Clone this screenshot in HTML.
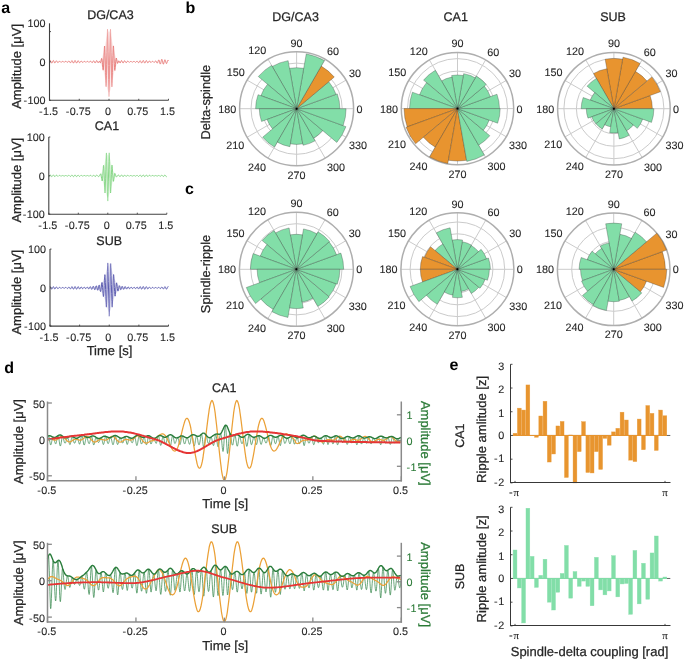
<!DOCTYPE html>
<html><head><meta charset="utf-8"><style>
html,body{margin:0;padding:0;background:#fff;}
svg{display:block;will-change:transform;}
text{font-family:"Liberation Sans", sans-serif;text-rendering:geometricPrecision;}
</style></head><body>
<svg width="685" height="661" viewBox="0 0 685 661">
<rect width="685" height="661" fill="#fff"/>
<text x="1.20" y="13.20" font-size="16" text-anchor="start" fill="#000" font-weight="bold">a</text>
<text x="185.50" y="12.90" font-size="16" text-anchor="start" fill="#000" font-weight="bold">b</text>
<text x="185.10" y="194.20" font-size="16" text-anchor="start" fill="#000" font-weight="bold">c</text>
<text x="4.20" y="372.70" font-size="16" text-anchor="start" fill="#000" font-weight="bold">d</text>
<text x="449.60" y="370.00" font-size="16" text-anchor="start" fill="#000" font-weight="bold">e</text>
<defs><linearGradient id="ga0" gradientUnits="userSpaceOnUse" x1="0" y1="21.8" x2="0" y2="101.8"><stop offset="0" stop-color="#e0524f" stop-opacity="0.25"/><stop offset="0.3" stop-color="#e0524f" stop-opacity="0.75"/><stop offset="0.5" stop-color="#e0524f" stop-opacity="1"/><stop offset="0.7" stop-color="#e0524f" stop-opacity="0.75"/><stop offset="1" stop-color="#e0524f" stop-opacity="0.25"/></linearGradient></defs>
<polygon points="49.5,61.8 49.9,61.8 50.3,61.8 50.7,61.8 51.1,61.8 51.5,61.8 51.9,61.8 52.3,61.8 52.7,61.8 53.1,61.8 53.5,61.8 53.9,61.8 54.3,61.8 54.7,61.8 55.1,61.8 55.5,61.8 55.9,61.8 56.3,61.8 56.7,61.8 57.1,61.8 57.5,61.8 57.9,61.8 58.3,61.8 58.7,61.8 59.1,61.8 59.5,61.8 59.9,61.8 60.3,61.8 60.7,61.8 61.1,61.8 61.5,61.8 61.9,61.8 62.3,61.8 62.7,61.8 63.1,61.8 63.5,61.8 63.9,61.8 64.3,61.8 64.7,61.8 65.1,61.8 65.5,61.8 65.9,61.8 66.3,61.8 66.7,61.8 67.1,61.8 67.5,61.8 67.9,61.8 68.3,61.8 68.7,61.8 69.1,61.8 69.5,61.8 69.9,61.8 70.3,61.8 70.7,61.8 71.1,61.8 71.5,61.8 71.9,61.8 72.3,61.8 72.7,61.8 73.1,61.8 73.5,61.8 73.9,61.8 74.3,61.8 74.7,61.8 75.1,61.8 75.5,61.8 75.9,61.8 76.3,61.8 76.7,61.8 77.1,61.8 77.5,61.8 77.9,61.8 78.3,61.8 78.7,61.8 79.1,61.8 79.5,61.8 79.9,61.8 80.3,61.8 80.7,61.8 81.1,61.8 81.5,61.8 81.9,61.8 82.3,61.8 82.7,61.8 83.1,61.8 83.5,61.8 83.9,61.8 84.3,61.8 84.7,61.8 85.1,61.8 85.5,61.8 85.9,61.8 86.3,61.8 86.7,61.8 87.1,61.8 87.5,61.8 87.9,61.8 88.3,61.8 88.7,61.8 89.1,61.8 89.5,61.8 89.9,61.8 90.3,61.8 90.7,61.8 91.1,61.8 91.5,61.8 91.9,61.8 92.3,61.8 92.7,61.8 93.1,61.8 93.5,61.8 93.9,61.8 94.3,61.8 94.7,61.8 95.1,61.8 95.5,61.8 95.9,61.8 96.3,61.7 96.7,61.7 97.1,61.7 97.5,61.6 97.9,61.5 98.3,61.4 98.7,61.3 99.1,61.1 99.5,60.9 99.9,60.5 100.3,60.1 100.7,59.7 101.1,59.0 101.5,58.3 101.9,57.4 102.3,56.4 102.7,55.2 103.1,53.8 103.5,52.3 103.9,50.6 104.3,48.8 104.7,46.8 105.1,44.8 105.5,42.7 105.9,40.7 106.3,38.7 106.7,36.8 107.1,35.2 107.5,33.7 107.9,32.6 108.3,31.8 108.7,31.3 109.1,31.2 109.5,31.5 109.9,32.1 110.3,33.1 110.7,34.4 111.1,36.0 111.5,37.8 111.9,39.7 112.3,41.7 112.7,43.8 113.1,45.8 113.5,47.8 113.9,49.7 114.3,51.4 114.7,53.1 115.1,54.5 115.5,55.8 115.9,56.9 116.3,57.9 116.7,58.7 117.1,59.4 117.5,59.9 117.9,60.4 118.3,60.7 118.7,61.0 119.1,61.2 119.5,61.4 119.9,61.5 120.3,61.6 120.7,61.6 121.1,61.7 121.5,61.7 121.9,61.8 122.3,61.8 122.7,61.8 123.1,61.8 123.5,61.8 123.9,61.8 124.3,61.8 124.7,61.8 125.1,61.8 125.5,61.8 125.9,61.8 126.3,61.8 126.7,61.8 127.1,61.8 127.5,61.8 127.9,61.8 128.3,61.8 128.7,61.8 129.1,61.8 129.5,61.8 129.9,61.8 130.3,61.8 130.7,61.8 131.1,61.8 131.5,61.8 131.9,61.8 132.3,61.8 132.7,61.8 133.1,61.8 133.5,61.8 133.9,61.8 134.3,61.8 134.7,61.8 135.1,61.8 135.5,61.8 135.9,61.8 136.3,61.8 136.7,61.8 137.1,61.8 137.5,61.8 137.9,61.8 138.3,61.8 138.7,61.8 139.1,61.8 139.5,61.8 139.9,61.8 140.3,61.8 140.7,61.8 141.1,61.8 141.5,61.8 141.9,61.8 142.3,61.8 142.7,61.8 143.1,61.8 143.5,61.8 143.9,61.8 144.3,61.8 144.7,61.8 145.1,61.8 145.5,61.8 145.9,61.8 146.3,61.8 146.7,61.8 147.1,61.8 147.5,61.8 147.9,61.8 148.3,61.8 148.7,61.8 149.1,61.8 149.5,61.8 149.9,61.8 150.3,61.8 150.7,61.8 151.1,61.8 151.5,61.8 151.9,61.8 152.3,61.8 152.7,61.8 153.1,61.8 153.5,61.8 153.9,61.8 154.3,61.8 154.7,61.8 155.1,61.8 155.5,61.8 155.9,61.8 156.3,61.8 156.7,61.8 157.1,61.8 157.5,61.8 157.9,61.8 158.3,61.8 158.7,61.8 159.1,61.8 159.5,61.8 159.9,61.8 160.3,61.8 160.7,61.8 161.1,61.8 161.5,61.8 161.9,61.8 162.3,61.8 162.7,61.8 163.1,61.8 163.5,61.8 163.9,61.8 164.3,61.8 164.7,61.8 165.1,61.8 165.5,61.8 165.9,61.8 166.3,61.8 166.7,61.8 167.1,61.8 167.5,61.8 167.9,61.8 168.3,61.8 168.5,61.8 168.1,61.8 167.7,61.8 167.3,61.8 166.9,61.8 166.5,61.8 166.1,61.8 165.7,61.8 165.3,61.8 164.9,61.8 164.5,61.8 164.1,61.8 163.7,61.8 163.3,61.8 162.9,61.8 162.5,61.8 162.1,61.8 161.7,61.8 161.3,61.8 160.9,61.8 160.5,61.8 160.1,61.8 159.7,61.8 159.3,61.8 158.9,61.8 158.5,61.8 158.1,61.8 157.7,61.8 157.3,61.8 156.9,61.8 156.5,61.8 156.1,61.8 155.7,61.8 155.3,61.8 154.9,61.8 154.5,61.8 154.1,61.8 153.7,61.8 153.3,61.8 152.9,61.8 152.5,61.8 152.1,61.8 151.7,61.8 151.3,61.8 150.9,61.8 150.5,61.8 150.1,61.8 149.7,61.8 149.3,61.8 148.9,61.8 148.5,61.8 148.1,61.8 147.7,61.8 147.3,61.8 146.9,61.8 146.5,61.8 146.1,61.8 145.7,61.8 145.3,61.8 144.9,61.8 144.5,61.8 144.1,61.8 143.7,61.8 143.3,61.8 142.9,61.8 142.5,61.8 142.1,61.8 141.7,61.8 141.3,61.8 140.9,61.8 140.5,61.8 140.1,61.8 139.7,61.8 139.3,61.8 138.9,61.8 138.5,61.8 138.1,61.8 137.7,61.8 137.3,61.8 136.9,61.8 136.5,61.8 136.1,61.8 135.7,61.8 135.3,61.8 134.9,61.8 134.5,61.8 134.1,61.8 133.7,61.8 133.3,61.8 132.9,61.8 132.5,61.8 132.1,61.8 131.7,61.8 131.3,61.8 130.9,61.8 130.5,61.8 130.1,61.8 129.7,61.8 129.3,61.8 128.9,61.8 128.5,61.8 128.1,61.8 127.7,61.8 127.3,61.8 126.9,61.8 126.5,61.8 126.1,61.8 125.7,61.8 125.3,61.8 124.9,61.8 124.5,61.8 124.1,61.8 123.7,61.8 123.3,61.8 122.9,61.8 122.5,61.8 122.1,61.8 121.7,61.9 121.3,61.9 120.9,61.9 120.5,62.0 120.1,62.1 119.7,62.2 119.3,62.3 118.9,62.5 118.5,62.7 118.1,63.1 117.7,63.5 117.3,63.9 116.9,64.6 116.5,65.3 116.1,66.2 115.7,67.2 115.3,68.4 114.9,69.8 114.5,71.3 114.1,73.0 113.7,74.8 113.3,76.8 112.9,78.8 112.5,80.9 112.1,82.9 111.7,84.9 111.3,86.8 110.9,88.4 110.5,89.9 110.1,91.0 109.7,91.8 109.3,92.3 108.9,92.4 108.5,92.1 108.1,91.5 107.7,90.5 107.3,89.2 106.9,87.6 106.5,85.8 106.1,83.9 105.7,81.9 105.3,79.8 104.9,77.8 104.5,75.8 104.1,73.9 103.7,72.2 103.3,70.5 102.9,69.1 102.5,67.8 102.1,66.7 101.7,65.7 101.3,64.9 100.9,64.2 100.5,63.7 100.1,63.2 99.7,62.9 99.3,62.6 98.9,62.4 98.5,62.2 98.1,62.1 97.7,62.0 97.3,62.0 96.9,61.9 96.5,61.9 96.1,61.8 95.7,61.8 95.3,61.8 94.9,61.8 94.5,61.8 94.1,61.8 93.7,61.8 93.3,61.8 92.9,61.8 92.5,61.8 92.1,61.8 91.7,61.8 91.3,61.8 90.9,61.8 90.5,61.8 90.1,61.8 89.7,61.8 89.3,61.8 88.9,61.8 88.5,61.8 88.1,61.8 87.7,61.8 87.3,61.8 86.9,61.8 86.5,61.8 86.1,61.8 85.7,61.8 85.3,61.8 84.9,61.8 84.5,61.8 84.1,61.8 83.7,61.8 83.3,61.8 82.9,61.8 82.5,61.8 82.1,61.8 81.7,61.8 81.3,61.8 80.9,61.8 80.5,61.8 80.1,61.8 79.7,61.8 79.3,61.8 78.9,61.8 78.5,61.8 78.1,61.8 77.7,61.8 77.3,61.8 76.9,61.8 76.5,61.8 76.1,61.8 75.7,61.8 75.3,61.8 74.9,61.8 74.5,61.8 74.1,61.8 73.7,61.8 73.3,61.8 72.9,61.8 72.5,61.8 72.1,61.8 71.7,61.8 71.3,61.8 70.9,61.8 70.5,61.8 70.1,61.8 69.7,61.8 69.3,61.8 68.9,61.8 68.5,61.8 68.1,61.8 67.7,61.8 67.3,61.8 66.9,61.8 66.5,61.8 66.1,61.8 65.7,61.8 65.3,61.8 64.9,61.8 64.5,61.8 64.1,61.8 63.7,61.8 63.3,61.8 62.9,61.8 62.5,61.8 62.1,61.8 61.7,61.8 61.3,61.8 60.9,61.8 60.5,61.8 60.1,61.8 59.7,61.8 59.3,61.8 58.9,61.8 58.5,61.8 58.1,61.8 57.7,61.8 57.3,61.8 56.9,61.8 56.5,61.8 56.1,61.8 55.7,61.8 55.3,61.8 54.9,61.8 54.5,61.8 54.1,61.8 53.7,61.8 53.3,61.8 52.9,61.8 52.5,61.8 52.1,61.8 51.7,61.8 51.3,61.8 50.9,61.8 50.5,61.8 50.1,61.8 49.7,61.8" fill="#e0524f" fill-opacity="0.12"/>
<polyline points="49.5,61.7 49.7,61.2 49.9,60.8 50.1,60.6 50.3,60.5 50.5,60.7 50.7,61.1 50.9,61.5 51.1,62.1 51.3,62.5 51.5,62.9 51.7,63.1 51.9,63.1 52.1,62.8 52.3,62.4 52.5,61.9 52.7,61.4 52.9,61.0 53.1,60.7 53.3,60.5 53.5,60.6 53.7,60.9 53.9,61.3 54.1,61.8 54.3,62.3 54.5,62.7 54.7,62.9 54.9,62.9 55.1,62.8 55.3,62.5 55.5,62.1 55.7,61.7 55.9,61.3 56.1,61.0 56.3,60.8 56.5,60.8 56.7,61.0 56.9,61.3 57.1,61.6 57.3,62.0 57.5,62.3 57.7,62.5 57.9,62.6 58.1,62.5 58.3,62.4 58.5,62.2 58.7,61.9 58.9,61.6 59.1,61.4 59.3,61.2 59.5,61.2 59.7,61.2 59.9,61.4 60.1,61.6 60.3,61.8 60.5,62.0 60.7,62.2 60.9,62.2 61.1,62.3 61.3,62.2 61.5,62.1 61.7,61.9 61.9,61.8 62.1,61.6 62.3,61.5 62.5,61.4 62.7,61.4 62.9,61.5 63.1,61.6 63.3,61.7 63.5,61.9 63.7,62.0 63.9,62.1 64.1,62.2 64.3,62.2 64.5,62.1 64.7,62.0 64.9,61.8 65.1,61.7 65.3,61.5 65.5,61.4 65.7,61.3 65.9,61.3 66.1,61.4 66.3,61.6 66.5,61.8 66.7,62.0 66.9,62.2 67.1,62.4 67.3,62.4 67.5,62.4 67.7,62.2 67.9,62.0 68.1,61.7 68.3,61.4 68.5,61.2 68.7,61.0 68.9,61.0 69.1,61.1 69.3,61.3 69.5,61.6 69.7,62.0 69.9,62.3 70.1,62.6 70.3,62.8 70.5,62.8 70.7,62.6 70.9,62.3 71.1,61.9 71.3,61.5 71.5,61.1 71.7,60.8 71.9,60.6 72.1,60.7 72.3,60.9 72.5,61.3 72.7,61.8 72.9,62.3 73.1,62.7 73.3,63.0 73.5,63.1 73.7,63.0 73.9,62.6 74.1,62.2 74.3,61.7 74.5,61.2 74.7,60.8 74.9,60.5 75.1,60.5 75.3,60.7 75.5,61.1 75.7,61.5 75.9,62.1 76.1,62.5 76.3,62.9 76.5,63.0 76.7,63.0 76.9,62.8 77.1,62.4 77.3,61.9 77.5,61.5 77.7,61.0 77.9,60.8 78.1,60.7 78.3,60.8 78.5,61.0 78.7,61.4 78.9,61.8 79.1,62.2 79.3,62.5 79.5,62.7 79.7,62.7 79.9,62.6 80.1,62.4 80.3,62.1 80.5,61.7 80.7,61.4 80.9,61.2 81.1,61.1 81.3,61.1 81.5,61.2 81.7,61.4 81.9,61.7 82.1,61.9 82.3,62.2 82.5,62.3 82.7,62.4 82.9,62.4 83.1,62.2 83.3,62.1 83.5,61.9 83.7,61.7 83.9,61.5 84.1,61.4 84.3,61.3 84.5,61.4 84.7,61.5 84.9,61.6 85.1,61.8 85.3,62.0 85.5,62.1 85.7,62.2 85.9,62.2 86.1,62.2 86.3,62.1 86.5,61.9 86.7,61.8 86.9,61.6 87.1,61.5 87.3,61.4 87.5,61.4 87.7,61.4 87.9,61.5 88.1,61.7 88.3,61.9 88.5,62.1 88.7,62.2 88.9,62.3 89.1,62.3 89.3,62.2 89.5,62.1 89.7,61.9 89.9,61.6 90.1,61.4 90.3,61.2 90.5,61.1 90.7,61.2 90.9,61.3 91.1,61.5 91.3,61.8 91.5,62.1 91.7,62.4 91.9,62.6 92.1,62.7 92.3,62.6 92.5,62.4 92.7,62.1 92.9,61.7 93.1,61.3 93.3,61.0 93.5,60.8 93.7,60.8 93.9,60.9 94.1,61.2 94.3,61.6 94.5,62.0 94.7,62.5 94.9,62.8 95.1,63.0 95.3,62.9 95.5,62.7 95.7,62.4 95.9,61.9 96.1,61.4 96.3,61.0 96.5,60.7 96.7,60.6 96.9,60.7 97.1,61.0 97.3,61.4 97.5,61.9 97.7,62.3 97.9,62.6 98.1,62.8 98.3,62.7 98.5,62.4 98.7,62.1 98.9,61.7 99.1,61.4 99.3,61.3 99.5,61.4 99.7,61.6 99.9,62.0 100.1,62.4 100.3,62.7 100.5,62.7 100.7,62.3 100.9,61.6 101.1,60.6 101.3,59.5 101.5,58.7 101.7,58.4 101.9,58.9 102.1,60.1 102.3,62.2 102.5,64.7 102.7,67.3 102.9,69.3 103.1,70.2 103.3,69.5 103.5,67.1 103.7,63.1 103.9,58.0 104.1,52.8 104.3,48.5 104.5,46.0 104.7,46.3 104.9,49.6 105.1,55.8 105.3,64.0 105.5,72.7 105.7,80.5 105.9,85.6 106.1,86.7 106.3,83.3 106.5,75.6 106.7,64.8 106.9,52.5 107.1,41.1 107.3,32.8 107.5,29.2 107.7,31.4 107.9,39.1 108.1,51.2 108.3,65.5 108.5,79.5 108.7,90.6 108.9,96.6 109.1,96.6 109.3,90.5 109.5,79.3 109.7,65.3 109.9,51.0 110.1,39.0 110.3,31.3 110.5,29.2 110.7,32.8 110.9,41.2 111.1,52.7 111.3,65.0 111.5,75.9 111.7,83.5 111.9,86.9 112.1,85.6 112.3,80.4 112.5,72.5 112.7,63.7 112.9,55.5 113.1,49.3 113.3,46.0 113.5,45.9 113.7,48.5 113.9,52.9 114.1,58.3 114.3,63.4 114.5,67.5 114.7,69.9 114.9,70.5 115.1,69.4 115.3,67.2 115.5,64.5 115.7,61.8 115.9,59.6 116.1,58.4 116.3,58.0 116.5,58.4 116.7,59.4 116.9,60.7 117.1,61.9 117.3,62.8 117.5,63.3 117.7,63.3 117.9,62.9 118.1,62.3 118.3,61.7 118.5,61.2 118.7,60.9 118.9,60.8 119.1,61.1 119.3,61.5 119.5,62.0 119.7,62.5 119.9,62.8 120.1,63.0 120.3,62.9 120.5,62.5 120.7,62.1 120.9,61.6 121.1,61.1 121.3,60.7 121.5,60.6 121.7,60.6 121.9,60.9 122.1,61.3 122.3,61.8 122.5,62.3 122.7,62.7 122.9,62.9 123.1,63.0 123.3,62.9 123.5,62.6 123.7,62.2 123.9,61.7 124.1,61.3 124.3,60.9 124.5,60.8 124.7,60.8 124.9,60.9 125.1,61.2 125.3,61.6 125.5,62.0 125.7,62.3 125.9,62.6 126.1,62.7 126.3,62.6 126.5,62.5 126.7,62.2 126.9,61.9 127.1,61.6 127.3,61.3 127.5,61.2 127.7,61.1 127.9,61.2 128.1,61.3 128.3,61.5 128.5,61.8 128.7,62.0 128.9,62.2 129.1,62.3 129.3,62.3 129.5,62.3 129.7,62.1 129.9,61.9 130.1,61.8 130.3,61.6 130.5,61.5 130.7,61.4 130.9,61.4 131.1,61.4 131.3,61.6 131.5,61.7 131.7,61.9 131.9,62.0 132.1,62.1 132.3,62.2 132.5,62.2 132.7,62.1 132.9,62.0 133.1,61.8 133.3,61.7 133.5,61.5 133.7,61.4 133.9,61.4 134.1,61.4 134.3,61.5 134.5,61.6 134.7,61.8 134.9,62.0 135.1,62.2 135.3,62.3 135.5,62.4 135.7,62.3 135.9,62.2 136.1,62.0 136.3,61.7 136.5,61.5 136.7,61.3 136.9,61.1 137.1,61.1 137.3,61.2 137.5,61.4 137.7,61.6 137.9,62.0 138.1,62.3 138.3,62.5 138.5,62.7 138.7,62.7 138.9,62.6 139.1,62.3 139.3,61.9 139.5,61.5 139.7,61.1 139.9,60.8 140.1,60.7 140.3,60.8 140.5,61.0 140.7,61.3 140.9,61.8 141.1,62.3 141.3,62.7 141.5,62.9 141.7,63.0 141.9,62.9 142.1,62.6 142.3,62.2 142.5,61.7 142.7,61.2 142.9,60.8 143.1,60.5 143.3,60.5 143.5,60.7 143.7,61.1 143.9,61.5 144.1,62.1 144.3,62.5 144.5,62.9 144.7,63.1 144.9,63.0 145.1,62.8 145.3,62.4 145.5,61.9 145.7,61.4 145.9,61.0 146.1,60.7 146.3,60.6 146.5,60.7 146.7,61.0 146.9,61.3 147.1,61.8 147.3,62.2 147.5,62.6 147.7,62.8 147.9,62.8 148.1,62.7 148.3,62.5 148.5,62.1 148.7,61.7 148.9,61.4 149.1,61.1 149.3,61.0 149.5,61.0 149.7,61.1 149.9,61.3 150.1,61.6 150.3,62.0 150.5,62.2 150.7,62.4 150.9,62.5 151.1,62.5 151.3,62.3 151.5,62.1 151.7,61.9 151.9,61.6 152.1,61.4 152.3,61.3 152.5,61.2 152.7,61.2 152.9,61.4 153.1,61.6 153.3,61.8 153.5,62.0 153.7,62.2 153.9,62.4 154.1,62.4 154.3,62.4 154.5,62.2 154.7,62.0 154.9,61.7 155.1,61.4 155.3,61.2 155.5,61.0 155.7,60.9 155.9,61.0 156.1,61.2 156.3,61.6 156.5,62.0 156.7,62.5 156.9,62.9 157.1,63.1 157.3,63.1 157.5,62.9 157.7,62.5 157.9,62.0 158.1,61.3 158.3,60.7 158.5,60.2 158.7,59.9 158.9,60.0 159.1,60.3 159.3,61.0 159.5,61.8 159.7,62.7 159.9,63.4 160.1,63.9 160.3,64.1 160.5,63.9 160.7,63.4 160.9,62.5 161.1,61.6 161.3,60.6 161.5,59.8 161.7,59.4 161.9,59.3 162.1,59.7 162.3,60.4 162.5,61.3 162.7,62.3 162.9,63.2 163.1,63.9 163.3,64.2 163.5,64.1 163.7,63.7 163.9,62.9 164.1,62.0 164.3,61.1 164.5,60.4 164.7,59.9 164.9,59.7 165.1,59.9 165.3,60.3 165.5,61.0 165.7,61.8 165.9,62.5 166.1,63.1 166.3,63.5 166.5,63.6 166.7,63.4 166.9,62.9 167.1,62.3 167.3,61.6 167.5,61.0 167.7,60.6 167.9,60.3 168.1,60.3 168.3,60.6 168.5,61.0" fill="none" stroke="url(#ga0)" stroke-width="0.9" stroke-opacity="0.8" stroke-linejoin="round"/>
<line x1="49.50" y1="23.30" x2="49.50" y2="100.30" stroke="#404040" stroke-width="1.1"/>
<line x1="48.95" y1="100.30" x2="168.50" y2="100.30" stroke="#404040" stroke-width="1.1"/>
<line x1="49.50" y1="31.60" x2="51.00" y2="31.60" stroke="#404040" stroke-width="0.9"/>
<line x1="49.50" y1="61.80" x2="51.00" y2="61.80" stroke="#404040" stroke-width="0.9"/>
<line x1="49.50" y1="100.30" x2="51.00" y2="100.30" stroke="#404040" stroke-width="0.9"/>
<line x1="49.50" y1="100.30" x2="49.50" y2="98.80" stroke="#404040" stroke-width="0.9"/>
<line x1="79.25" y1="100.30" x2="79.25" y2="98.80" stroke="#404040" stroke-width="0.9"/>
<line x1="109.00" y1="100.30" x2="109.00" y2="98.80" stroke="#404040" stroke-width="0.9"/>
<line x1="138.75" y1="100.30" x2="138.75" y2="98.80" stroke="#404040" stroke-width="0.9"/>
<line x1="168.50" y1="100.30" x2="168.50" y2="98.80" stroke="#404040" stroke-width="0.9"/>
<text x="45.50" y="27.20" font-size="10.8" text-anchor="end" fill="#262626" stroke="#262626" stroke-width="0.1">100</text>
<text x="45.50" y="65.70" font-size="10.8" text-anchor="end" fill="#262626" stroke="#262626" stroke-width="0.1">0</text>
<text x="45.50" y="104.20" font-size="10.8" text-anchor="end" fill="#262626" stroke="#262626" stroke-width="0.1">-<tspan dx="0.5">100</tspan></text>
<text x="48.50" y="115.30" font-size="10.8" text-anchor="middle" fill="#262626" stroke="#262626" stroke-width="0.1">-<tspan dx="0.5">1.5</tspan></text>
<text x="78.25" y="115.30" font-size="10.8" text-anchor="middle" fill="#262626" stroke="#262626" stroke-width="0.1">-<tspan dx="0.5">0.75</tspan></text>
<text x="108.00" y="115.30" font-size="10.8" text-anchor="middle" fill="#262626" stroke="#262626" stroke-width="0.1">0</text>
<text x="137.75" y="115.30" font-size="10.8" text-anchor="middle" fill="#262626" stroke="#262626" stroke-width="0.1">0.75</text>
<text x="167.50" y="115.30" font-size="10.8" text-anchor="middle" fill="#262626" stroke="#262626" stroke-width="0.1">1.5</text>
<text x="20.90" y="66.40" font-size="13" text-anchor="middle" fill="#262626" stroke="#262626" stroke-width="0.25" transform="rotate(-90 20.90 66.40)">Amplitude [μV]</text>
<defs><linearGradient id="ga1" gradientUnits="userSpaceOnUse" x1="0" y1="135.8" x2="0" y2="215.8"><stop offset="0" stop-color="#5cc85c" stop-opacity="0.25"/><stop offset="0.3" stop-color="#5cc85c" stop-opacity="0.75"/><stop offset="0.5" stop-color="#5cc85c" stop-opacity="1"/><stop offset="0.7" stop-color="#5cc85c" stop-opacity="0.75"/><stop offset="1" stop-color="#5cc85c" stop-opacity="0.25"/></linearGradient></defs>
<polygon points="48.8,175.8 49.2,175.8 49.6,175.8 50.0,175.8 50.4,175.8 50.8,175.8 51.2,175.8 51.6,175.8 52.0,175.8 52.4,175.8 52.8,175.8 53.2,175.8 53.6,175.8 54.0,175.8 54.4,175.8 54.8,175.8 55.2,175.8 55.6,175.8 56.0,175.8 56.4,175.8 56.8,175.8 57.2,175.8 57.6,175.8 58.0,175.8 58.4,175.8 58.8,175.8 59.2,175.8 59.6,175.8 60.0,175.8 60.4,175.8 60.8,175.8 61.2,175.8 61.6,175.8 62.0,175.8 62.4,175.8 62.8,175.8 63.2,175.8 63.6,175.8 64.0,175.8 64.4,175.8 64.8,175.8 65.2,175.8 65.6,175.8 66.0,175.8 66.4,175.8 66.8,175.8 67.2,175.8 67.6,175.8 68.0,175.8 68.4,175.8 68.8,175.8 69.2,175.8 69.6,175.8 70.0,175.8 70.4,175.8 70.8,175.8 71.2,175.8 71.6,175.8 72.0,175.8 72.4,175.8 72.8,175.8 73.2,175.8 73.6,175.8 74.0,175.8 74.4,175.8 74.8,175.8 75.2,175.8 75.6,175.8 76.0,175.8 76.4,175.8 76.8,175.8 77.2,175.8 77.6,175.8 78.0,175.8 78.4,175.8 78.8,175.8 79.2,175.8 79.6,175.8 80.0,175.8 80.4,175.8 80.8,175.8 81.2,175.8 81.6,175.8 82.0,175.8 82.4,175.8 82.8,175.8 83.2,175.8 83.6,175.8 84.0,175.8 84.4,175.8 84.8,175.8 85.2,175.8 85.6,175.8 86.0,175.8 86.4,175.8 86.8,175.8 87.2,175.8 87.6,175.8 88.0,175.8 88.4,175.8 88.8,175.8 89.2,175.8 89.6,175.8 90.0,175.8 90.4,175.8 90.8,175.8 91.2,175.8 91.6,175.8 92.0,175.8 92.4,175.8 92.8,175.8 93.2,175.8 93.6,175.8 94.0,175.8 94.4,175.8 94.8,175.8 95.2,175.8 95.6,175.8 96.0,175.8 96.4,175.8 96.8,175.7 97.2,175.7 97.6,175.7 98.0,175.6 98.4,175.5 98.8,175.4 99.2,175.2 99.6,175.0 100.0,174.7 100.4,174.3 100.8,173.9 101.2,173.3 101.6,172.5 102.0,171.7 102.4,170.7 102.8,169.5 103.2,168.2 103.6,166.8 104.0,165.3 104.4,163.7 104.8,162.1 105.2,160.5 105.6,159.0 106.0,157.7 106.4,156.5 106.8,155.6 107.2,154.9 107.6,154.6 108.0,154.6 108.4,154.9 108.8,155.6 109.2,156.5 109.6,157.7 110.0,159.0 110.4,160.5 110.8,162.1 111.2,163.7 111.6,165.3 112.0,166.8 112.4,168.2 112.8,169.5 113.2,170.7 113.6,171.7 114.0,172.5 114.4,173.3 114.8,173.9 115.2,174.3 115.6,174.7 116.0,175.0 116.4,175.2 116.8,175.4 117.2,175.5 117.6,175.6 118.0,175.7 118.4,175.7 118.8,175.7 119.2,175.8 119.6,175.8 120.0,175.8 120.4,175.8 120.8,175.8 121.2,175.8 121.6,175.8 122.0,175.8 122.4,175.8 122.8,175.8 123.2,175.8 123.6,175.8 124.0,175.8 124.4,175.8 124.8,175.8 125.2,175.8 125.6,175.8 126.0,175.8 126.4,175.8 126.8,175.8 127.2,175.8 127.6,175.8 128.0,175.8 128.4,175.8 128.8,175.8 129.2,175.8 129.6,175.8 130.0,175.8 130.4,175.8 130.8,175.8 131.2,175.8 131.6,175.8 132.0,175.8 132.4,175.8 132.8,175.8 133.2,175.8 133.6,175.8 134.0,175.8 134.4,175.8 134.8,175.8 135.2,175.8 135.6,175.8 136.0,175.8 136.4,175.8 136.8,175.8 137.2,175.8 137.6,175.8 138.0,175.8 138.4,175.8 138.8,175.8 139.2,175.8 139.6,175.8 140.0,175.8 140.4,175.8 140.8,175.8 141.2,175.8 141.6,175.8 142.0,175.8 142.4,175.8 142.8,175.8 143.2,175.8 143.6,175.8 144.0,175.8 144.4,175.8 144.8,175.8 145.2,175.8 145.6,175.8 146.0,175.8 146.4,175.8 146.8,175.8 147.2,175.8 147.6,175.8 148.0,175.8 148.4,175.8 148.8,175.8 149.2,175.8 149.6,175.8 150.0,175.8 150.4,175.8 150.8,175.8 151.2,175.8 151.6,175.8 152.0,175.8 152.4,175.8 152.8,175.8 153.2,175.8 153.6,175.8 154.0,175.8 154.4,175.8 154.8,175.8 155.2,175.8 155.6,175.8 156.0,175.8 156.4,175.8 156.8,175.8 157.2,175.8 157.6,175.8 158.0,175.8 158.4,175.8 158.8,175.8 159.2,175.8 159.6,175.8 160.0,175.8 160.4,175.8 160.8,175.8 161.2,175.8 161.6,175.8 162.0,175.8 162.4,175.8 162.8,175.8 163.2,175.8 163.6,175.8 164.0,175.8 164.4,175.8 164.8,175.8 165.2,175.8 165.6,175.8 166.0,175.8 166.4,175.8 166.8,175.8 166.6,175.8 166.2,175.8 165.8,175.8 165.4,175.8 165.0,175.8 164.6,175.8 164.2,175.8 163.8,175.8 163.4,175.8 163.0,175.8 162.6,175.8 162.2,175.8 161.8,175.8 161.4,175.8 161.0,175.8 160.6,175.8 160.2,175.8 159.8,175.8 159.4,175.8 159.0,175.8 158.6,175.8 158.2,175.8 157.8,175.8 157.4,175.8 157.0,175.8 156.6,175.8 156.2,175.8 155.8,175.8 155.4,175.8 155.0,175.8 154.6,175.8 154.2,175.8 153.8,175.8 153.4,175.8 153.0,175.8 152.6,175.8 152.2,175.8 151.8,175.8 151.4,175.8 151.0,175.8 150.6,175.8 150.2,175.8 149.8,175.8 149.4,175.8 149.0,175.8 148.6,175.8 148.2,175.8 147.8,175.8 147.4,175.8 147.0,175.8 146.6,175.8 146.2,175.8 145.8,175.8 145.4,175.8 145.0,175.8 144.6,175.8 144.2,175.8 143.8,175.8 143.4,175.8 143.0,175.8 142.6,175.8 142.2,175.8 141.8,175.8 141.4,175.8 141.0,175.8 140.6,175.8 140.2,175.8 139.8,175.8 139.4,175.8 139.0,175.8 138.6,175.8 138.2,175.8 137.8,175.8 137.4,175.8 137.0,175.8 136.6,175.8 136.2,175.8 135.8,175.8 135.4,175.8 135.0,175.8 134.6,175.8 134.2,175.8 133.8,175.8 133.4,175.8 133.0,175.8 132.6,175.8 132.2,175.8 131.8,175.8 131.4,175.8 131.0,175.8 130.6,175.8 130.2,175.8 129.8,175.8 129.4,175.8 129.0,175.8 128.6,175.8 128.2,175.8 127.8,175.8 127.4,175.8 127.0,175.8 126.6,175.8 126.2,175.8 125.8,175.8 125.4,175.8 125.0,175.8 124.6,175.8 124.2,175.8 123.8,175.8 123.4,175.8 123.0,175.8 122.6,175.8 122.2,175.8 121.8,175.8 121.4,175.8 121.0,175.8 120.6,175.8 120.2,175.8 119.8,175.8 119.4,175.8 119.0,175.8 118.6,175.9 118.2,175.9 117.8,176.0 117.4,176.0 117.0,176.1 116.6,176.3 116.2,176.5 115.8,176.7 115.4,177.1 115.0,177.5 114.6,178.0 114.2,178.7 113.8,179.5 113.4,180.4 113.0,181.5 112.6,182.7 112.2,184.1 111.8,185.5 111.4,187.1 111.0,188.7 110.6,190.3 110.2,191.8 109.8,193.3 109.4,194.6 109.0,195.6 108.6,196.4 108.2,196.9 107.8,197.1 107.4,196.9 107.0,196.4 106.6,195.6 106.2,194.6 105.8,193.3 105.4,191.8 105.0,190.3 104.6,188.7 104.2,187.1 103.8,185.5 103.4,184.1 103.0,182.7 102.6,181.5 102.2,180.4 101.8,179.5 101.4,178.7 101.0,178.0 100.6,177.5 100.2,177.1 99.8,176.7 99.4,176.5 99.0,176.3 98.6,176.1 98.2,176.0 97.8,176.0 97.4,175.9 97.0,175.9 96.6,175.8 96.2,175.8 95.8,175.8 95.4,175.8 95.0,175.8 94.6,175.8 94.2,175.8 93.8,175.8 93.4,175.8 93.0,175.8 92.6,175.8 92.2,175.8 91.8,175.8 91.4,175.8 91.0,175.8 90.6,175.8 90.2,175.8 89.8,175.8 89.4,175.8 89.0,175.8 88.6,175.8 88.2,175.8 87.8,175.8 87.4,175.8 87.0,175.8 86.6,175.8 86.2,175.8 85.8,175.8 85.4,175.8 85.0,175.8 84.6,175.8 84.2,175.8 83.8,175.8 83.4,175.8 83.0,175.8 82.6,175.8 82.2,175.8 81.8,175.8 81.4,175.8 81.0,175.8 80.6,175.8 80.2,175.8 79.8,175.8 79.4,175.8 79.0,175.8 78.6,175.8 78.2,175.8 77.8,175.8 77.4,175.8 77.0,175.8 76.6,175.8 76.2,175.8 75.8,175.8 75.4,175.8 75.0,175.8 74.6,175.8 74.2,175.8 73.8,175.8 73.4,175.8 73.0,175.8 72.6,175.8 72.2,175.8 71.8,175.8 71.4,175.8 71.0,175.8 70.6,175.8 70.2,175.8 69.8,175.8 69.4,175.8 69.0,175.8 68.6,175.8 68.2,175.8 67.8,175.8 67.4,175.8 67.0,175.8 66.6,175.8 66.2,175.8 65.8,175.8 65.4,175.8 65.0,175.8 64.6,175.8 64.2,175.8 63.8,175.8 63.4,175.8 63.0,175.8 62.6,175.8 62.2,175.8 61.8,175.8 61.4,175.8 61.0,175.8 60.6,175.8 60.2,175.8 59.8,175.8 59.4,175.8 59.0,175.8 58.6,175.8 58.2,175.8 57.8,175.8 57.4,175.8 57.0,175.8 56.6,175.8 56.2,175.8 55.8,175.8 55.4,175.8 55.0,175.8 54.6,175.8 54.2,175.8 53.8,175.8 53.4,175.8 53.0,175.8 52.6,175.8 52.2,175.8 51.8,175.8 51.4,175.8 51.0,175.8 50.6,175.8 50.2,175.8 49.8,175.8 49.4,175.8 49.0,175.8" fill="#5cc85c" fill-opacity="0.12"/>
<polyline points="48.8,176.6 49.0,176.4 49.2,176.2 49.4,175.9 49.6,175.5 49.8,175.2 50.0,175.0 50.2,174.9 50.4,175.0 50.6,175.2 50.8,175.4 51.0,175.8 51.2,176.2 51.4,176.4 51.6,176.6 51.8,176.7 52.0,176.6 52.2,176.4 52.4,176.1 52.6,175.7 52.8,175.4 53.0,175.1 53.2,175.0 53.4,174.9 53.6,175.1 53.8,175.3 54.0,175.6 54.2,176.0 54.4,176.3 54.6,176.5 54.8,176.6 55.0,176.6 55.2,176.4 55.4,176.2 55.6,175.9 55.8,175.6 56.0,175.3 56.2,175.2 56.4,175.1 56.6,175.2 56.8,175.3 57.0,175.6 57.2,175.8 57.4,176.0 57.6,176.2 57.8,176.3 58.0,176.3 58.2,176.3 58.4,176.1 58.6,175.9 58.8,175.8 59.0,175.6 59.2,175.5 59.4,175.4 59.6,175.4 59.8,175.5 60.0,175.6 60.2,175.7 60.4,175.9 60.6,176.0 60.8,176.1 61.0,176.1 61.2,176.1 61.4,176.0 61.6,175.9 61.8,175.8 62.0,175.7 62.2,175.6 62.4,175.6 62.6,175.5 62.8,175.5 63.0,175.6 63.2,175.7 63.4,175.8 63.6,175.9 63.8,176.0 64.0,176.1 64.2,176.1 64.4,176.1 64.6,176.0 64.8,175.9 65.0,175.8 65.2,175.6 65.4,175.5 65.6,175.5 65.8,175.5 66.0,175.5 66.2,175.6 66.4,175.7 66.6,175.9 66.8,176.0 67.0,176.2 67.2,176.2 67.4,176.2 67.6,176.2 67.8,176.0 68.0,175.9 68.2,175.6 68.4,175.5 68.6,175.3 68.8,175.2 69.0,175.3 69.2,175.4 69.4,175.6 69.6,175.8 69.8,176.1 70.0,176.3 70.2,176.4 70.4,176.5 70.6,176.4 70.8,176.3 71.0,176.0 71.2,175.7 71.4,175.4 71.6,175.2 71.8,175.0 72.0,175.0 72.2,175.1 72.4,175.3 72.6,175.6 72.8,176.0 73.0,176.3 73.2,176.5 73.4,176.7 73.6,176.7 73.8,176.5 74.0,176.2 74.2,175.9 74.4,175.5 74.6,175.2 74.8,175.0 75.0,174.9 75.2,175.0 75.4,175.1 75.6,175.4 75.8,175.8 76.0,176.1 76.2,176.4 76.4,176.6 76.6,176.7 76.8,176.6 77.0,176.4 77.2,176.1 77.4,175.7 77.6,175.4 77.8,175.2 78.0,175.0 78.2,175.0 78.4,175.2 78.6,175.4 78.8,175.7 79.0,175.9 79.2,176.2 79.4,176.4 79.6,176.5 79.8,176.4 80.0,176.3 80.2,176.1 80.4,175.9 80.6,175.6 80.8,175.4 81.0,175.3 81.2,175.3 81.4,175.3 81.6,175.4 81.8,175.6 82.0,175.8 82.2,176.0 82.4,176.1 82.6,176.2 82.8,176.2 83.0,176.1 83.2,176.0 83.4,175.9 83.6,175.8 83.8,175.6 84.0,175.5 84.2,175.5 84.4,175.5 84.6,175.5 84.8,175.6 85.0,175.7 85.2,175.9 85.4,176.0 85.6,176.0 85.8,176.1 86.0,176.1 86.2,176.0 86.4,175.9 86.6,175.8 86.8,175.7 87.0,175.6 87.2,175.5 87.4,175.5 87.6,175.5 87.8,175.6 88.0,175.7 88.2,175.8 88.4,175.9 88.6,176.0 88.8,176.1 89.0,176.2 89.2,176.1 89.4,176.0 89.6,175.9 89.8,175.8 90.0,175.6 90.2,175.5 90.4,175.4 90.6,175.3 90.8,175.4 91.0,175.5 91.2,175.7 91.4,175.9 91.6,176.1 91.8,176.3 92.0,176.4 92.2,176.4 92.4,176.3 92.6,176.1 92.8,175.9 93.0,175.6 93.2,175.4 93.4,175.2 93.6,175.1 93.8,175.1 94.0,175.3 94.2,175.5 94.4,175.8 94.6,176.1 94.8,176.4 95.0,176.6 95.2,176.6 95.4,176.5 95.6,176.4 95.8,176.1 96.0,175.7 96.2,175.4 96.4,175.2 96.6,175.0 96.8,175.0 97.0,175.1 97.2,175.3 97.4,175.5 97.6,175.8 97.8,176.1 98.0,176.3 98.2,176.5 98.4,176.6 98.6,176.6 98.8,176.5 99.0,176.4 99.2,176.2 99.4,176.0 99.6,175.7 99.8,175.3 100.0,174.9 100.2,174.4 100.4,174.1 100.6,173.8 100.8,173.9 101.0,174.4 101.2,175.3 101.4,176.6 101.6,178.2 101.8,179.7 102.0,180.7 102.2,181.0 102.4,180.2 102.6,178.3 102.8,175.4 103.0,171.9 103.2,168.6 103.4,166.1 103.6,165.3 103.8,166.5 104.0,169.9 104.2,175.1 104.4,181.3 104.6,187.1 104.8,191.4 105.0,193.0 105.2,191.2 105.4,186.0 105.6,178.2 105.8,169.3 106.0,161.0 106.2,155.0 106.4,152.9 106.6,155.2 106.8,161.7 107.0,171.3 107.2,182.1 107.4,191.9 107.6,198.7 107.8,201.1 108.0,198.6 108.2,191.7 108.4,181.8 108.6,171.0 108.8,161.5 109.0,155.0 109.2,152.8 109.4,155.1 109.6,161.2 109.8,169.6 110.0,178.6 110.2,186.3 110.4,191.4 110.6,193.0 110.8,191.3 111.0,186.9 111.2,180.9 111.4,174.7 111.6,169.5 111.8,166.2 112.0,165.1 112.2,166.1 112.4,168.7 112.6,172.3 112.8,175.8 113.0,178.8 113.2,180.7 113.4,181.4 113.6,181.0 113.8,179.7 114.0,178.0 114.2,176.2 114.4,174.8 114.6,173.8 114.8,173.3 115.0,173.4 115.2,173.8 115.4,174.4 115.6,175.2 115.8,175.8 116.0,176.3 116.2,176.7 116.4,176.9 116.6,176.9 116.8,176.8 117.0,176.6 117.2,176.3 117.4,176.0 117.6,175.7 117.8,175.4 118.0,175.1 118.2,175.0 118.4,174.9 118.6,175.0 118.8,175.2 119.0,175.5 119.2,175.8 119.4,176.2 119.6,176.5 119.8,176.6 120.0,176.7 120.2,176.6 120.4,176.4 120.6,176.1 120.8,175.7 121.0,175.4 121.2,175.1 121.4,174.9 121.6,174.9 121.8,175.0 122.0,175.3 122.2,175.6 122.4,176.0 122.6,176.3 122.8,176.5 123.0,176.6 123.2,176.6 123.4,176.5 123.6,176.2 123.8,175.9 124.0,175.6 124.2,175.3 124.4,175.1 124.6,175.1 124.8,175.1 125.0,175.3 125.2,175.5 125.4,175.8 125.6,176.1 125.8,176.3 126.0,176.4 126.2,176.4 126.4,176.3 126.6,176.2 126.8,176.0 127.0,175.7 127.2,175.5 127.4,175.4 127.6,175.3 127.8,175.3 128.0,175.4 128.2,175.5 128.4,175.7 128.6,175.9 128.8,176.0 129.0,176.1 129.2,176.2 129.4,176.1 129.6,176.1 129.8,176.0 130.0,175.8 130.2,175.7 130.4,175.6 130.6,175.5 130.8,175.5 131.0,175.5 131.2,175.6 131.4,175.7 131.6,175.8 131.8,175.9 132.0,176.0 132.2,176.1 132.4,176.1 132.6,176.0 132.8,176.0 133.0,175.9 133.2,175.8 133.4,175.7 133.6,175.6 133.8,175.5 134.0,175.5 134.2,175.5 134.4,175.6 134.6,175.7 134.8,175.9 135.0,176.0 135.2,176.1 135.4,176.2 135.6,176.2 135.8,176.1 136.0,176.0 136.2,175.8 136.4,175.7 136.6,175.5 136.8,175.4 137.0,175.3 137.2,175.3 137.4,175.4 137.6,175.6 137.8,175.8 138.0,176.0 138.2,176.2 138.4,176.4 138.6,176.4 138.8,176.4 139.0,176.2 139.2,176.0 139.4,175.7 139.6,175.5 139.8,175.2 140.0,175.1 140.2,175.0 140.4,175.1 140.6,175.3 140.8,175.6 141.0,176.0 141.2,176.3 141.4,176.5 141.6,176.6 141.8,176.6 142.0,176.5 142.2,176.2 142.4,175.9 142.6,175.5 142.8,175.2 143.0,175.0 143.2,174.9 143.4,175.0 143.6,175.1 143.8,175.4 144.0,175.8 144.2,176.2 144.4,176.4 144.6,176.6 144.8,176.7 145.0,176.6 145.2,176.4 145.4,176.1 145.6,175.7 145.8,175.4 146.0,175.1 146.2,175.0 146.4,175.0 146.6,175.1 146.8,175.3 147.0,175.6 147.2,176.0 147.4,176.2 147.6,176.4 147.8,176.5 148.0,176.5 148.2,176.4 148.4,176.1 148.6,175.9 148.8,175.6 149.0,175.4 149.2,175.3 149.4,175.2 149.6,175.3 149.8,175.4 150.0,175.6 150.2,175.8 150.4,176.0 150.6,176.2 150.8,176.2 151.0,176.3 151.2,176.2 151.4,176.1 151.6,175.9 151.8,175.8 152.0,175.6 152.2,175.5 152.4,175.5 152.6,175.5 152.8,175.5 153.0,175.6 153.2,175.7 153.4,175.9 153.6,176.0 153.8,176.0 154.0,176.1 154.2,176.1 154.4,176.0 154.6,175.9 154.8,175.8 155.0,175.7 155.2,175.6 155.4,175.6 155.6,175.5 155.8,175.5 156.0,175.6 156.2,175.7 156.4,175.8 156.6,175.9 156.8,176.0 157.0,176.1 157.2,176.1 157.4,176.1 157.6,176.0 157.8,175.9 158.0,175.8 158.2,175.6 158.4,175.5 158.6,175.4 158.8,175.4 159.0,175.4 159.2,175.5 159.4,175.7 159.6,175.9 159.8,176.1 160.0,176.2 160.2,176.3 160.4,176.3 160.6,176.2 160.8,176.1 161.0,175.9 161.2,175.6 161.4,175.4 161.6,175.2 161.8,175.1 162.0,175.2 162.2,175.3 162.4,175.5 162.6,175.8 162.8,176.1 163.0,176.3 163.2,176.5 163.4,176.6 163.6,176.5 163.8,176.3 164.0,176.0 164.2,175.7 164.4,175.4 164.6,175.1 164.8,175.0 165.0,174.9 165.2,175.1 165.4,175.3 165.6,175.6 165.8,176.0 166.0,176.3 166.2,176.6 166.4,176.7 166.6,176.7 166.8,176.5" fill="none" stroke="url(#ga1)" stroke-width="0.9" stroke-opacity="0.8" stroke-linejoin="round"/>
<line x1="48.80" y1="137.00" x2="48.80" y2="214.20" stroke="#404040" stroke-width="1.1"/>
<line x1="48.25" y1="214.20" x2="166.80" y2="214.20" stroke="#404040" stroke-width="1.1"/>
<line x1="48.80" y1="137.00" x2="50.30" y2="137.00" stroke="#404040" stroke-width="0.9"/>
<line x1="48.80" y1="175.80" x2="50.30" y2="175.80" stroke="#404040" stroke-width="0.9"/>
<line x1="48.80" y1="214.20" x2="50.30" y2="214.20" stroke="#404040" stroke-width="0.9"/>
<line x1="48.80" y1="214.20" x2="48.80" y2="212.70" stroke="#404040" stroke-width="0.9"/>
<line x1="78.30" y1="214.20" x2="78.30" y2="212.70" stroke="#404040" stroke-width="0.9"/>
<line x1="107.80" y1="214.20" x2="107.80" y2="212.70" stroke="#404040" stroke-width="0.9"/>
<line x1="137.30" y1="214.20" x2="137.30" y2="212.70" stroke="#404040" stroke-width="0.9"/>
<line x1="166.80" y1="214.20" x2="166.80" y2="212.70" stroke="#404040" stroke-width="0.9"/>
<text x="44.80" y="140.90" font-size="10.8" text-anchor="end" fill="#262626" stroke="#262626" stroke-width="0.1">100</text>
<text x="44.80" y="179.70" font-size="10.8" text-anchor="end" fill="#262626" stroke="#262626" stroke-width="0.1">0</text>
<text x="44.80" y="218.10" font-size="10.8" text-anchor="end" fill="#262626" stroke="#262626" stroke-width="0.1">-<tspan dx="0.5">100</tspan></text>
<text x="47.80" y="229.20" font-size="10.8" text-anchor="middle" fill="#262626" stroke="#262626" stroke-width="0.1">-<tspan dx="0.5">1.5</tspan></text>
<text x="77.30" y="229.20" font-size="10.8" text-anchor="middle" fill="#262626" stroke="#262626" stroke-width="0.1">-<tspan dx="0.5">0.75</tspan></text>
<text x="106.80" y="229.20" font-size="10.8" text-anchor="middle" fill="#262626" stroke="#262626" stroke-width="0.1">0</text>
<text x="136.30" y="229.20" font-size="10.8" text-anchor="middle" fill="#262626" stroke="#262626" stroke-width="0.1">0.75</text>
<text x="165.80" y="229.20" font-size="10.8" text-anchor="middle" fill="#262626" stroke="#262626" stroke-width="0.1">1.5</text>
<text x="20.90" y="180.20" font-size="13" text-anchor="middle" fill="#262626" stroke="#262626" stroke-width="0.25" transform="rotate(-90 20.90 180.20)">Amplitude [μV]</text>
<defs><linearGradient id="ga2" gradientUnits="userSpaceOnUse" x1="0" y1="247.9" x2="0" y2="327.9"><stop offset="0" stop-color="#4a4aa8" stop-opacity="0.25"/><stop offset="0.3" stop-color="#4a4aa8" stop-opacity="0.75"/><stop offset="0.5" stop-color="#4a4aa8" stop-opacity="1"/><stop offset="0.7" stop-color="#4a4aa8" stop-opacity="0.75"/><stop offset="1" stop-color="#4a4aa8" stop-opacity="0.25"/></linearGradient></defs>
<polygon points="50.0,287.9 50.4,287.9 50.8,287.9 51.2,287.9 51.6,287.9 52.0,287.9 52.4,287.9 52.8,287.9 53.2,287.9 53.6,287.9 54.0,287.9 54.4,287.9 54.8,287.9 55.2,287.9 55.6,287.9 56.0,287.9 56.4,287.9 56.8,287.9 57.2,287.9 57.6,287.9 58.0,287.9 58.4,287.9 58.8,287.9 59.2,287.9 59.6,287.9 60.0,287.9 60.4,287.9 60.8,287.9 61.2,287.9 61.6,287.9 62.0,287.9 62.4,287.9 62.8,287.9 63.2,287.9 63.6,287.9 64.0,287.9 64.4,287.9 64.8,287.9 65.2,287.9 65.6,287.9 66.0,287.9 66.4,287.9 66.8,287.9 67.2,287.9 67.6,287.9 68.0,287.9 68.4,287.9 68.8,287.9 69.2,287.9 69.6,287.9 70.0,287.9 70.4,287.9 70.8,287.9 71.2,287.9 71.6,287.9 72.0,287.9 72.4,287.8 72.8,287.8 73.2,287.8 73.6,287.8 74.0,287.8 74.4,287.8 74.8,287.8 75.2,287.8 75.6,287.8 76.0,287.8 76.4,287.8 76.8,287.8 77.2,287.8 77.6,287.8 78.0,287.8 78.4,287.8 78.8,287.8 79.2,287.8 79.6,287.8 80.0,287.7 80.4,287.7 80.8,287.7 81.2,287.7 81.6,287.7 82.0,287.7 82.4,287.7 82.8,287.7 83.2,287.7 83.6,287.6 84.0,287.6 84.4,287.6 84.8,287.6 85.2,287.6 85.6,287.6 86.0,287.5 86.4,287.5 86.8,287.5 87.2,287.5 87.6,287.5 88.0,287.4 88.4,287.4 88.8,287.4 89.2,287.3 89.6,287.3 90.0,287.3 90.4,287.2 90.8,287.2 91.2,287.2 91.6,287.1 92.0,287.1 92.4,287.0 92.8,287.0 93.2,286.9 93.6,286.8 94.0,286.8 94.4,286.7 94.8,286.6 95.2,286.6 95.6,286.5 96.0,286.4 96.4,286.3 96.8,286.2 97.2,286.1 97.6,286.0 98.0,285.8 98.4,285.7 98.8,285.5 99.2,285.3 99.6,285.1 100.0,284.8 100.4,284.5 100.8,284.1 101.2,283.7 101.6,283.2 102.0,282.7 102.4,282.0 102.8,281.3 103.2,280.4 103.6,279.5 104.0,278.4 104.4,277.3 104.8,276.1 105.2,274.8 105.6,273.5 106.0,272.1 106.4,270.7 106.8,269.4 107.2,268.1 107.6,266.9 108.0,265.8 108.4,264.8 108.8,264.0 109.2,263.3 109.6,263.8 110.0,264.6 110.4,265.5 110.8,266.6 111.2,267.8 111.6,269.0 112.0,270.4 112.4,271.7 112.8,273.1 113.2,274.5 113.6,275.8 114.0,277.0 114.4,278.2 114.8,279.2 115.2,280.2 115.6,281.1 116.0,281.8 116.4,282.5 116.8,283.1 117.2,283.6 117.6,284.0 118.0,284.4 118.4,284.7 118.8,285.0 119.2,285.3 119.6,285.5 120.0,285.6 120.4,285.8 120.8,285.9 121.2,286.1 121.6,286.2 122.0,286.3 122.4,286.4 122.8,286.5 123.2,286.6 123.6,286.6 124.0,286.7 124.4,286.8 124.8,286.8 125.2,286.9 125.6,286.9 126.0,287.0 126.4,287.0 126.8,287.1 127.2,287.1 127.6,287.2 128.0,287.2 128.4,287.3 128.8,287.3 129.2,287.3 129.6,287.4 130.0,287.4 130.4,287.4 130.8,287.4 131.2,287.5 131.6,287.5 132.0,287.5 132.4,287.5 132.8,287.6 133.2,287.6 133.6,287.6 134.0,287.6 134.4,287.6 134.8,287.6 135.2,287.7 135.6,287.7 136.0,287.7 136.4,287.7 136.8,287.7 137.2,287.7 137.6,287.7 138.0,287.7 138.4,287.7 138.8,287.8 139.2,287.8 139.6,287.8 140.0,287.8 140.4,287.8 140.8,287.8 141.2,287.8 141.6,287.8 142.0,287.8 142.4,287.8 142.8,287.8 143.2,287.8 143.6,287.8 144.0,287.8 144.4,287.8 144.8,287.8 145.2,287.8 145.6,287.8 146.0,287.8 146.4,287.9 146.8,287.9 147.2,287.9 147.6,287.9 148.0,287.9 148.4,287.9 148.8,287.9 149.2,287.9 149.6,287.9 150.0,287.9 150.4,287.9 150.8,287.9 151.2,287.9 151.6,287.9 152.0,287.9 152.4,287.9 152.8,287.9 153.2,287.9 153.6,287.9 154.0,287.9 154.4,287.9 154.8,287.9 155.2,287.9 155.6,287.9 156.0,287.9 156.4,287.9 156.8,287.9 157.2,287.9 157.6,287.9 158.0,287.9 158.4,287.9 158.8,287.9 159.2,287.9 159.6,287.9 160.0,287.9 160.4,287.9 160.8,287.9 161.2,287.9 161.6,287.9 162.0,287.9 162.4,287.9 162.8,287.9 163.2,287.9 163.6,287.9 164.0,287.9 164.4,287.9 164.8,287.9 165.2,287.9 165.6,287.9 166.0,287.9 166.4,287.9 166.8,287.9 167.2,287.9 167.6,287.9 168.0,287.9 168.4,287.9 168.2,287.9 167.8,287.9 167.4,287.9 167.0,287.9 166.6,287.9 166.2,287.9 165.8,287.9 165.4,287.9 165.0,287.9 164.6,287.9 164.2,287.9 163.8,287.9 163.4,287.9 163.0,287.9 162.6,287.9 162.2,287.9 161.8,287.9 161.4,287.9 161.0,287.9 160.6,287.9 160.2,287.9 159.8,287.9 159.4,287.9 159.0,287.9 158.6,287.9 158.2,287.9 157.8,287.9 157.4,287.9 157.0,287.9 156.6,287.9 156.2,287.9 155.8,287.9 155.4,287.9 155.0,287.9 154.6,287.9 154.2,287.9 153.8,287.9 153.4,287.9 153.0,287.9 152.6,287.9 152.2,287.9 151.8,287.9 151.4,287.9 151.0,287.9 150.6,287.9 150.2,287.9 149.8,287.9 149.4,287.9 149.0,287.9 148.6,287.9 148.2,287.9 147.8,287.9 147.4,287.9 147.0,287.9 146.6,287.9 146.2,288.0 145.8,288.0 145.4,288.0 145.0,288.0 144.6,288.0 144.2,288.0 143.8,288.0 143.4,288.0 143.0,288.0 142.6,288.0 142.2,288.0 141.8,288.0 141.4,288.0 141.0,288.0 140.6,288.0 140.2,288.0 139.8,288.0 139.4,288.0 139.0,288.0 138.6,288.0 138.2,288.1 137.8,288.1 137.4,288.1 137.0,288.1 136.6,288.1 136.2,288.1 135.8,288.1 135.4,288.1 135.0,288.1 134.6,288.2 134.2,288.2 133.8,288.2 133.4,288.2 133.0,288.2 132.6,288.3 132.2,288.3 131.8,288.3 131.4,288.3 131.0,288.3 130.6,288.4 130.2,288.4 129.8,288.4 129.4,288.5 129.0,288.5 128.6,288.5 128.2,288.6 127.8,288.6 127.4,288.6 127.0,288.7 126.6,288.7 126.2,288.8 125.8,288.8 125.4,288.9 125.0,288.9 124.6,289.0 124.2,289.1 123.8,289.1 123.4,289.2 123.0,289.3 122.6,289.4 122.2,289.5 121.8,289.6 121.4,289.7 121.0,289.8 120.6,289.9 120.2,290.1 119.8,290.2 119.4,290.4 119.0,290.7 118.6,290.9 118.2,291.2 117.8,291.6 117.4,292.0 117.0,292.4 116.6,293.0 116.2,293.6 115.8,294.3 115.4,295.2 115.0,296.1 114.6,297.1 114.2,298.2 113.8,299.4 113.4,300.7 113.0,302.0 112.6,303.4 112.2,304.7 111.8,306.1 111.4,307.4 111.0,308.6 110.6,309.8 110.2,310.8 109.8,311.6 109.4,312.3 109.0,312.2 108.6,311.4 108.2,310.5 107.8,309.5 107.4,308.3 107.0,307.1 106.6,305.8 106.2,304.4 105.8,303.0 105.4,301.7 105.0,300.3 104.6,299.1 104.2,297.9 103.8,296.8 103.4,295.8 103.0,294.9 102.6,294.1 102.2,293.4 101.8,292.8 101.4,292.3 101.0,291.9 100.6,291.5 100.2,291.1 99.8,290.8 99.4,290.6 99.0,290.4 98.6,290.2 98.2,290.0 97.8,289.9 97.4,289.8 97.0,289.6 96.6,289.5 96.2,289.4 95.8,289.4 95.4,289.3 95.0,289.2 94.6,289.1 94.2,289.0 93.8,289.0 93.4,288.9 93.0,288.9 92.6,288.8 92.2,288.8 91.8,288.7 91.4,288.7 91.0,288.6 90.6,288.6 90.2,288.5 89.8,288.5 89.4,288.5 89.0,288.4 88.6,288.4 88.2,288.4 87.8,288.4 87.4,288.3 87.0,288.3 86.6,288.3 86.2,288.3 85.8,288.2 85.4,288.2 85.0,288.2 84.6,288.2 84.2,288.2 83.8,288.2 83.4,288.1 83.0,288.1 82.6,288.1 82.2,288.1 81.8,288.1 81.4,288.1 81.0,288.1 80.6,288.1 80.2,288.1 79.8,288.0 79.4,288.0 79.0,288.0 78.6,288.0 78.2,288.0 77.8,288.0 77.4,288.0 77.0,288.0 76.6,288.0 76.2,288.0 75.8,288.0 75.4,288.0 75.0,288.0 74.6,288.0 74.2,288.0 73.8,288.0 73.4,288.0 73.0,288.0 72.6,288.0 72.2,287.9 71.8,287.9 71.4,287.9 71.0,287.9 70.6,287.9 70.2,287.9 69.8,287.9 69.4,287.9 69.0,287.9 68.6,287.9 68.2,287.9 67.8,287.9 67.4,287.9 67.0,287.9 66.6,287.9 66.2,287.9 65.8,287.9 65.4,287.9 65.0,287.9 64.6,287.9 64.2,287.9 63.8,287.9 63.4,287.9 63.0,287.9 62.6,287.9 62.2,287.9 61.8,287.9 61.4,287.9 61.0,287.9 60.6,287.9 60.2,287.9 59.8,287.9 59.4,287.9 59.0,287.9 58.6,287.9 58.2,287.9 57.8,287.9 57.4,287.9 57.0,287.9 56.6,287.9 56.2,287.9 55.8,287.9 55.4,287.9 55.0,287.9 54.6,287.9 54.2,287.9 53.8,287.9 53.4,287.9 53.0,287.9 52.6,287.9 52.2,287.9 51.8,287.9 51.4,287.9 51.0,287.9 50.6,287.9 50.2,287.9" fill="#4a4aa8" fill-opacity="0.12"/>
<polyline points="50.0,286.8 50.2,286.6 50.4,286.7 50.6,287.0 50.8,287.4 51.0,287.9 51.2,288.4 51.4,288.8 51.6,289.1 51.8,289.2 52.0,289.1 52.2,288.7 52.4,288.3 52.6,287.8 52.8,287.3 53.0,286.9 53.2,286.7 53.4,286.7 53.6,286.8 53.8,287.2 54.0,287.6 54.2,288.1 54.4,288.6 54.6,288.9 54.8,289.0 55.0,289.0 55.2,288.8 55.4,288.4 55.6,288.0 55.8,287.6 56.0,287.2 56.2,287.0 56.4,286.9 56.6,287.0 56.8,287.2 57.0,287.5 57.2,287.9 57.4,288.2 57.6,288.5 57.8,288.7 58.0,288.7 58.2,288.6 58.4,288.4 58.6,288.1 58.8,287.8 59.0,287.6 59.2,287.4 59.4,287.3 59.6,287.3 59.8,287.4 60.0,287.6 60.2,287.8 60.4,288.0 60.6,288.2 60.8,288.3 61.0,288.4 61.2,288.3 61.4,288.3 61.6,288.1 61.8,288.0 62.0,287.8 62.2,287.6 62.4,287.5 62.6,287.5 62.8,287.5 63.0,287.6 63.2,287.7 63.4,287.9 63.6,288.0 63.8,288.2 64.0,288.3 64.2,288.3 64.4,288.3 64.6,288.2 64.8,288.1 65.0,287.9 65.2,287.7 65.4,287.5 65.6,287.4 65.8,287.4 66.0,287.4 66.2,287.6 66.4,287.8 66.6,288.0 66.8,288.2 67.0,288.4 67.2,288.5 67.4,288.6 67.6,288.5 67.8,288.3 68.0,288.0 68.2,287.7 68.4,287.4 68.6,287.2 68.8,287.1 69.0,287.1 69.2,287.2 69.4,287.5 69.6,287.9 69.8,288.2 70.0,288.6 70.2,288.8 70.4,288.9 70.6,288.9 70.8,288.6 71.0,288.3 71.2,287.8 71.4,287.4 71.6,287.0 71.8,286.7 72.0,286.7 72.2,286.8 72.4,287.1 72.6,287.6 72.8,288.1 73.0,288.6 73.2,289.0 73.4,289.2 73.6,289.2 73.8,289.0 74.0,288.6 74.2,288.1 74.4,287.5 74.6,287.0 74.8,286.7 75.0,286.5 75.2,286.6 75.4,286.9 75.6,287.3 75.8,287.9 76.0,288.4 76.2,288.9 76.4,289.2 76.6,289.2 76.8,289.1 77.0,288.8 77.2,288.3 77.4,287.8 77.6,287.3 77.8,286.9 78.0,286.7 78.2,286.7 78.4,286.8 78.6,287.2 78.8,287.7 79.0,288.1 79.2,288.6 79.4,288.9 79.6,289.0 79.8,289.0 80.0,288.8 80.2,288.4 80.4,288.0 80.6,287.6 80.8,287.2 81.0,287.0 81.2,286.9 81.4,287.0 81.6,287.3 81.8,287.6 82.0,288.0 82.2,288.3 82.4,288.6 82.6,288.7 82.8,288.7 83.0,288.6 83.2,288.3 83.4,288.0 83.6,287.7 83.8,287.4 84.0,287.2 84.2,287.1 84.4,287.2 84.6,287.4 84.8,287.6 85.0,287.9 85.2,288.2 85.4,288.5 85.6,288.6 85.8,288.6 86.0,288.5 86.2,288.3 86.4,288.0 86.6,287.7 86.8,287.4 87.0,287.2 87.2,287.1 87.4,287.1 87.6,287.3 87.8,287.6 88.0,288.0 88.2,288.3 88.4,288.6 88.6,288.8 88.8,288.9 89.0,288.8 89.2,288.5 89.4,288.1 89.6,287.6 89.8,287.2 90.0,286.9 90.2,286.7 90.4,286.7 90.6,287.0 90.8,287.4 91.0,287.9 91.2,288.5 91.4,288.9 91.6,289.3 91.8,289.4 92.0,289.2 92.2,288.8 92.4,288.2 92.6,287.6 92.8,287.0 93.0,286.5 93.2,286.2 93.4,286.3 93.6,286.6 93.8,287.1 94.0,287.9 94.2,288.6 94.4,289.3 94.6,289.7 94.8,289.8 95.0,289.6 95.2,289.1 95.4,288.3 95.6,287.4 95.8,286.6 96.0,286.0 96.2,285.8 96.4,285.9 96.6,286.4 96.8,287.2 97.0,288.1 97.2,289.1 97.4,289.8 97.6,290.2 97.8,290.2 98.0,289.8 98.2,288.9 98.4,287.8 98.6,286.7 98.8,285.8 99.0,285.2 99.2,285.1 99.4,285.6 99.6,286.6 99.8,287.9 100.0,289.3 100.2,290.6 100.4,291.4 100.6,291.6 100.8,291.0 101.0,289.8 101.2,288.0 101.4,286.0 101.6,284.1 101.8,282.8 102.0,282.4 102.2,283.0 102.4,284.7 102.6,287.3 102.8,290.4 103.0,293.3 103.2,295.6 103.4,296.6 103.6,296.0 103.8,293.8 104.0,290.0 104.2,285.3 104.4,280.6 104.6,276.7 104.8,274.6 105.0,274.8 105.2,277.5 105.4,282.6 105.6,289.3 105.8,296.4 106.0,302.5 106.2,306.4 106.4,307.2 106.6,304.3 106.8,298.1 107.0,289.5 107.2,280.0 107.4,271.3 107.6,265.2 107.8,262.9 108.0,265.2 108.2,271.7 108.4,281.6 108.6,293.0 108.8,303.8 109.0,312.1 109.2,316.3 109.4,314.9 109.6,308.6 109.8,298.8 110.0,287.4 110.2,276.5 110.4,268.1 110.6,263.6 110.8,263.5 111.0,267.8 111.2,275.3 111.4,284.6 111.6,293.8 111.8,301.4 112.0,306.0 112.2,307.2 112.4,304.9 112.6,299.8 112.8,293.1 113.0,286.1 113.2,280.1 113.4,276.1 113.6,274.5 113.8,275.4 114.0,278.4 114.2,282.7 114.4,287.4 114.6,291.6 114.8,294.7 115.0,296.2 115.2,296.1 115.4,294.6 115.6,292.0 115.8,289.1 116.0,286.3 116.2,284.2 116.4,283.0 116.6,282.8 116.8,283.6 117.0,285.0 117.2,286.8 117.4,288.6 117.6,290.0 117.8,290.8 118.0,291.1 118.2,290.7 118.4,289.8 118.6,288.7 118.8,287.5 119.0,286.5 119.2,285.9 119.4,285.7 119.6,286.0 119.8,286.6 120.0,287.4 120.2,288.3 120.4,289.0 120.6,289.5 120.8,289.7 121.0,289.5 121.2,289.0 121.4,288.3 121.6,287.6 121.8,286.9 122.0,286.5 122.2,286.3 122.4,286.5 122.6,286.9 122.8,287.5 123.0,288.1 123.2,288.7 123.4,289.1 123.6,289.3 123.8,289.3 124.0,289.0 124.2,288.5 124.4,287.9 124.6,287.3 124.8,286.9 125.0,286.6 125.2,286.6 125.4,286.8 125.6,287.2 125.8,287.7 126.0,288.2 126.2,288.6 126.4,288.9 126.6,289.1 126.8,289.0 127.0,288.7 127.2,288.4 127.4,287.9 127.6,287.5 127.8,287.1 128.0,286.9 128.2,286.9 128.4,287.0 128.6,287.3 128.8,287.7 129.0,288.0 129.2,288.4 129.4,288.6 129.6,288.7 129.8,288.7 130.0,288.5 130.2,288.3 130.4,288.0 130.6,287.6 130.8,287.4 131.0,287.2 131.2,287.2 131.4,287.3 131.6,287.4 131.8,287.7 132.0,288.0 132.2,288.3 132.4,288.5 132.6,288.6 132.8,288.5 133.0,288.4 133.2,288.2 133.4,287.9 133.6,287.6 133.8,287.4 134.0,287.2 134.2,287.2 134.4,287.3 134.6,287.5 134.8,287.8 135.0,288.1 135.2,288.4 135.4,288.6 135.6,288.7 135.8,288.6 136.0,288.4 136.2,288.2 136.4,287.8 136.6,287.5 136.8,287.2 137.0,287.0 137.2,287.0 137.4,287.1 137.6,287.4 137.8,287.8 138.0,288.2 138.2,288.6 138.4,288.8 138.6,289.0 138.8,288.9 139.0,288.7 139.2,288.3 139.4,287.9 139.6,287.4 139.8,287.0 140.0,286.7 140.2,286.7 140.4,286.8 140.6,287.1 140.8,287.6 141.0,288.1 141.2,288.6 141.4,289.0 141.6,289.2 141.8,289.2 142.0,289.0 142.2,288.6 142.4,288.1 142.6,287.5 142.8,287.0 143.0,286.7 143.2,286.5 143.4,286.6 143.6,286.9 143.8,287.3 144.0,287.9 144.2,288.4 144.4,288.9 144.6,289.2 144.8,289.3 145.0,289.1 145.2,288.8 145.4,288.3 145.6,287.8 145.8,287.3 146.0,286.9 146.2,286.7 146.4,286.7 146.6,286.9 146.8,287.2 147.0,287.7 147.2,288.1 147.4,288.6 147.6,288.9 147.8,289.0 148.0,288.9 148.2,288.7 148.4,288.4 148.6,288.0 148.8,287.6 149.0,287.3 149.2,287.1 149.4,287.0 149.6,287.1 149.8,287.3 150.0,287.6 150.2,287.9 150.4,288.2 150.6,288.4 150.8,288.6 151.0,288.6 151.2,288.5 151.4,288.3 151.6,288.1 151.8,287.8 152.0,287.6 152.2,287.5 152.4,287.4 152.6,287.4 152.8,287.5 153.0,287.6 153.2,287.8 153.4,288.0 153.6,288.2 153.8,288.3 154.0,288.3 154.2,288.3 154.4,288.2 154.6,288.1 154.8,287.9 155.0,287.8 155.2,287.6 155.4,287.5 155.6,287.5 155.8,287.5 156.0,287.6 156.2,287.7 156.4,287.9 156.6,288.1 156.8,288.2 157.0,288.3 157.2,288.4 157.4,288.3 157.6,288.2 157.8,288.0 158.0,287.8 158.2,287.6 158.4,287.5 158.6,287.3 158.8,287.3 159.0,287.4 159.2,287.5 159.4,287.8 159.6,288.0 159.8,288.3 160.0,288.5 160.2,288.6 160.4,288.6 160.6,288.5 160.8,288.3 161.0,288.0 161.2,287.6 161.4,287.3 161.6,287.1 161.8,287.0 162.0,287.0 162.2,287.2 162.4,287.5 162.6,287.9 162.8,288.3 163.0,288.7 163.2,288.9 163.4,289.0 163.6,288.9 163.8,288.7 164.0,288.3 164.2,287.8 164.4,287.3 164.6,286.9 164.8,286.7 165.0,286.7 165.2,286.8 165.4,287.2 165.6,287.6 165.8,288.2 166.0,288.6 166.2,289.0 166.4,289.2 166.6,289.2 166.8,288.9 167.0,288.5 167.2,288.0 167.4,287.5 167.6,287.1 167.8,286.8 168.0,286.6 168.2,286.7 168.4,287.0" fill="none" stroke="url(#ga2)" stroke-width="0.9" stroke-opacity="1" stroke-linejoin="round"/>
<line x1="50.00" y1="249.10" x2="50.00" y2="326.10" stroke="#404040" stroke-width="1.1"/>
<line x1="49.45" y1="326.10" x2="168.50" y2="326.10" stroke="#404040" stroke-width="1.1"/>
<line x1="50.00" y1="249.10" x2="51.50" y2="249.10" stroke="#404040" stroke-width="0.9"/>
<line x1="50.00" y1="287.90" x2="51.50" y2="287.90" stroke="#404040" stroke-width="0.9"/>
<line x1="50.00" y1="326.10" x2="51.50" y2="326.10" stroke="#404040" stroke-width="0.9"/>
<line x1="50.00" y1="326.10" x2="50.00" y2="324.60" stroke="#404040" stroke-width="0.9"/>
<line x1="79.62" y1="326.10" x2="79.62" y2="324.60" stroke="#404040" stroke-width="0.9"/>
<line x1="109.25" y1="326.10" x2="109.25" y2="324.60" stroke="#404040" stroke-width="0.9"/>
<line x1="138.88" y1="326.10" x2="138.88" y2="324.60" stroke="#404040" stroke-width="0.9"/>
<line x1="168.50" y1="326.10" x2="168.50" y2="324.60" stroke="#404040" stroke-width="0.9"/>
<text x="46.00" y="253.00" font-size="10.8" text-anchor="end" fill="#262626" stroke="#262626" stroke-width="0.1">100</text>
<text x="46.00" y="291.80" font-size="10.8" text-anchor="end" fill="#262626" stroke="#262626" stroke-width="0.1">0</text>
<text x="46.00" y="330.00" font-size="10.8" text-anchor="end" fill="#262626" stroke="#262626" stroke-width="0.1">-<tspan dx="0.5">100</tspan></text>
<text x="49.00" y="341.10" font-size="10.8" text-anchor="middle" fill="#262626" stroke="#262626" stroke-width="0.1">-<tspan dx="0.5">1.5</tspan></text>
<text x="78.62" y="341.10" font-size="10.8" text-anchor="middle" fill="#262626" stroke="#262626" stroke-width="0.1">-<tspan dx="0.5">0.75</tspan></text>
<text x="108.25" y="341.10" font-size="10.8" text-anchor="middle" fill="#262626" stroke="#262626" stroke-width="0.1">0</text>
<text x="137.88" y="341.10" font-size="10.8" text-anchor="middle" fill="#262626" stroke="#262626" stroke-width="0.1">0.75</text>
<text x="167.50" y="341.10" font-size="10.8" text-anchor="middle" fill="#262626" stroke="#262626" stroke-width="0.1">1.5</text>
<text x="20.90" y="292.20" font-size="13" text-anchor="middle" fill="#262626" stroke="#262626" stroke-width="0.25" transform="rotate(-90 20.90 292.20)">Amplitude [μV]</text>
<text x="110.40" y="18.50" font-size="12.5" text-anchor="middle" fill="#262626" stroke="#262626" stroke-width="0.25">DG/CA3</text>
<text x="107.00" y="130.00" font-size="12.5" text-anchor="middle" fill="#262626" stroke="#262626" stroke-width="0.25">CA1</text>
<text x="109.20" y="244.60" font-size="12.5" text-anchor="middle" fill="#262626" stroke="#262626" stroke-width="0.25">SUB</text>
<text x="109.50" y="354.60" font-size="13" text-anchor="middle" fill="#262626" stroke="#262626" stroke-width="0.25">Time [s]</text>
<circle cx="296.6" cy="108.7" r="11.4" fill="none" stroke="#cbcbcb" stroke-width="1"/>
<circle cx="296.6" cy="108.7" r="22.8" fill="none" stroke="#cbcbcb" stroke-width="1"/>
<circle cx="296.6" cy="108.7" r="34.2" fill="none" stroke="#cbcbcb" stroke-width="1"/>
<circle cx="296.6" cy="108.7" r="45.6" fill="none" stroke="#cbcbcb" stroke-width="1"/>
<line x1="296.60" y1="108.70" x2="353.60" y2="108.70" stroke="#cbcbcb" stroke-width="1"/>
<line x1="296.60" y1="108.70" x2="345.96" y2="80.20" stroke="#cbcbcb" stroke-width="1"/>
<line x1="296.60" y1="108.70" x2="325.10" y2="59.34" stroke="#cbcbcb" stroke-width="1"/>
<line x1="296.60" y1="108.70" x2="296.60" y2="51.70" stroke="#cbcbcb" stroke-width="1"/>
<line x1="296.60" y1="108.70" x2="268.10" y2="59.34" stroke="#cbcbcb" stroke-width="1"/>
<line x1="296.60" y1="108.70" x2="247.24" y2="80.20" stroke="#cbcbcb" stroke-width="1"/>
<line x1="296.60" y1="108.70" x2="239.60" y2="108.70" stroke="#cbcbcb" stroke-width="1"/>
<line x1="296.60" y1="108.70" x2="247.24" y2="137.20" stroke="#cbcbcb" stroke-width="1"/>
<line x1="296.60" y1="108.70" x2="268.10" y2="158.06" stroke="#cbcbcb" stroke-width="1"/>
<line x1="296.60" y1="108.70" x2="296.60" y2="165.70" stroke="#cbcbcb" stroke-width="1"/>
<line x1="296.60" y1="108.70" x2="325.10" y2="158.06" stroke="#cbcbcb" stroke-width="1"/>
<line x1="296.60" y1="108.70" x2="345.96" y2="137.20" stroke="#cbcbcb" stroke-width="1"/>
<circle cx="296.6" cy="108.7" r="57.0" fill="none" stroke="#aeaeae" stroke-width="1.5"/>
<path d="M296.6,108.7 L339.90,108.70 A43.3,43.3 0 0 0 337.29,93.89 Z" fill="#82dea8" stroke="#2a2a2a" stroke-width="0.5" stroke-opacity="0.6" stroke-linejoin="miter"/>
<path d="M296.6,108.7 L336.07,94.34 A42,42 0 0 0 328.77,81.70 Z" fill="#82dea8" stroke="#2a2a2a" stroke-width="0.5" stroke-opacity="0.6" stroke-linejoin="miter"/>
<path d="M296.6,108.7 L334.29,77.07 A49.2,49.2 0 0 0 321.20,66.09 Z" fill="#e8942f" stroke="#2a2a2a" stroke-width="0.5" stroke-opacity="0.6" stroke-linejoin="miter"/>
<path d="M296.6,108.7 L324.40,60.55 A55.6,55.6 0 0 0 306.25,53.94 Z" fill="#82dea8" stroke="#2a2a2a" stroke-width="0.5" stroke-opacity="0.6" stroke-linejoin="miter"/>
<path d="M296.6,108.7 L303.72,68.32 A41,41 0 0 0 289.48,68.32 Z" fill="#82dea8" stroke="#2a2a2a" stroke-width="0.5" stroke-opacity="0.6" stroke-linejoin="miter"/>
<path d="M296.6,108.7 L288.13,60.64 A48.8,48.8 0 0 0 272.20,66.44 Z" fill="#82dea8" stroke="#2a2a2a" stroke-width="0.5" stroke-opacity="0.6" stroke-linejoin="miter"/>
<path d="M296.6,108.7 L271.60,65.40 A50,50 0 0 0 258.30,76.56 Z" fill="#82dea8" stroke="#2a2a2a" stroke-width="0.5" stroke-opacity="0.6" stroke-linejoin="miter"/>
<path d="M296.6,108.7 L267.49,84.27 A38,38 0 0 0 260.89,95.70 Z" fill="#82dea8" stroke="#2a2a2a" stroke-width="0.5" stroke-opacity="0.6" stroke-linejoin="miter"/>
<path d="M296.6,108.7 L258.07,94.68 A41,41 0 0 0 255.60,108.70 Z" fill="#82dea8" stroke="#2a2a2a" stroke-width="0.5" stroke-opacity="0.6" stroke-linejoin="miter"/>
<path d="M296.6,108.7 L259.30,108.70 A37.3,37.3 0 0 0 261.55,121.46 Z" fill="#82dea8" stroke="#2a2a2a" stroke-width="0.5" stroke-opacity="0.6" stroke-linejoin="miter"/>
<path d="M296.6,108.7 L267.09,119.44 A31.4,31.4 0 0 0 272.55,128.88 Z" fill="#82dea8" stroke="#2a2a2a" stroke-width="0.5" stroke-opacity="0.6" stroke-linejoin="miter"/>
<path d="M296.6,108.7 L262.66,137.18 A44.3,44.3 0 0 0 274.45,147.06 Z" fill="#82dea8" stroke="#2a2a2a" stroke-width="0.5" stroke-opacity="0.6" stroke-linejoin="miter"/>
<path d="M296.6,108.7 L277.30,142.13 A38.6,38.6 0 0 0 289.90,146.71 Z" fill="#82dea8" stroke="#2a2a2a" stroke-width="0.5" stroke-opacity="0.6" stroke-linejoin="miter"/>
<path d="M296.6,108.7 L290.40,143.86 A35.7,35.7 0 0 0 302.80,143.86 Z" fill="#82dea8" stroke="#2a2a2a" stroke-width="0.5" stroke-opacity="0.6" stroke-linejoin="miter"/>
<path d="M296.6,108.7 L303.04,145.24 A37.1,37.1 0 0 0 315.15,140.83 Z" fill="#82dea8" stroke="#2a2a2a" stroke-width="0.5" stroke-opacity="0.6" stroke-linejoin="miter"/>
<path d="M296.6,108.7 L313.60,138.14 A34,34 0 0 0 322.65,130.55 Z" fill="#82dea8" stroke="#2a2a2a" stroke-width="0.5" stroke-opacity="0.6" stroke-linejoin="miter"/>
<path d="M296.6,108.7 L336.82,142.45 A52.5,52.5 0 0 0 345.93,126.66 Z" fill="#82dea8" stroke="#2a2a2a" stroke-width="0.5" stroke-opacity="0.6" stroke-linejoin="miter"/>
<path d="M296.6,108.7 L343.11,125.63 A49.5,49.5 0 0 0 346.10,108.70 Z" fill="#82dea8" stroke="#2a2a2a" stroke-width="0.5" stroke-opacity="0.6" stroke-linejoin="miter"/>
<circle cx="296.6" cy="108.7" r="1.0" fill="#000"/>
<text x="359.40" y="112.60" font-size="10.8" text-anchor="middle" fill="#262626" stroke="#262626" stroke-width="0.1">0</text>
<text x="354.90" y="76.60" font-size="10.8" text-anchor="middle" fill="#262626" stroke="#262626" stroke-width="0.1">30</text>
<text x="332.90" y="55.30" font-size="10.8" text-anchor="middle" fill="#262626" stroke="#262626" stroke-width="0.1">60</text>
<text x="296.60" y="46.70" font-size="10.8" text-anchor="middle" fill="#262626" stroke="#262626" stroke-width="0.1">90</text>
<text x="257.30" y="54.00" font-size="10.8" text-anchor="middle" fill="#262626" stroke="#262626" stroke-width="0.1">120</text>
<text x="235.70" y="76.10" font-size="10.8" text-anchor="middle" fill="#262626" stroke="#262626" stroke-width="0.1">150</text>
<text x="227.20" y="112.60" font-size="10.8" text-anchor="middle" fill="#262626" stroke="#262626" stroke-width="0.1">180</text>
<text x="235.30" y="148.60" font-size="10.8" text-anchor="middle" fill="#262626" stroke="#262626" stroke-width="0.1">210</text>
<text x="257.10" y="171.00" font-size="10.8" text-anchor="middle" fill="#262626" stroke="#262626" stroke-width="0.1">240</text>
<text x="296.60" y="178.50" font-size="10.8" text-anchor="middle" fill="#262626" stroke="#262626" stroke-width="0.1">270</text>
<text x="336.00" y="171.20" font-size="10.8" text-anchor="middle" fill="#262626" stroke="#262626" stroke-width="0.1">300</text>
<text x="357.90" y="149.20" font-size="10.8" text-anchor="middle" fill="#262626" stroke="#262626" stroke-width="0.1">330</text>
<circle cx="457.5" cy="108.6" r="12.5" fill="none" stroke="#cbcbcb" stroke-width="1"/>
<circle cx="457.5" cy="108.6" r="25" fill="none" stroke="#cbcbcb" stroke-width="1"/>
<circle cx="457.5" cy="108.6" r="37.5" fill="none" stroke="#cbcbcb" stroke-width="1"/>
<circle cx="457.5" cy="108.6" r="50" fill="none" stroke="#cbcbcb" stroke-width="1"/>
<line x1="457.50" y1="108.60" x2="513.70" y2="108.60" stroke="#cbcbcb" stroke-width="1"/>
<line x1="457.50" y1="108.60" x2="506.17" y2="80.50" stroke="#cbcbcb" stroke-width="1"/>
<line x1="457.50" y1="108.60" x2="485.60" y2="59.93" stroke="#cbcbcb" stroke-width="1"/>
<line x1="457.50" y1="108.60" x2="457.50" y2="52.40" stroke="#cbcbcb" stroke-width="1"/>
<line x1="457.50" y1="108.60" x2="429.40" y2="59.93" stroke="#cbcbcb" stroke-width="1"/>
<line x1="457.50" y1="108.60" x2="408.83" y2="80.50" stroke="#cbcbcb" stroke-width="1"/>
<line x1="457.50" y1="108.60" x2="401.30" y2="108.60" stroke="#cbcbcb" stroke-width="1"/>
<line x1="457.50" y1="108.60" x2="408.83" y2="136.70" stroke="#cbcbcb" stroke-width="1"/>
<line x1="457.50" y1="108.60" x2="429.40" y2="157.27" stroke="#cbcbcb" stroke-width="1"/>
<line x1="457.50" y1="108.60" x2="457.50" y2="164.80" stroke="#cbcbcb" stroke-width="1"/>
<line x1="457.50" y1="108.60" x2="485.60" y2="157.27" stroke="#cbcbcb" stroke-width="1"/>
<line x1="457.50" y1="108.60" x2="506.17" y2="136.70" stroke="#cbcbcb" stroke-width="1"/>
<circle cx="457.5" cy="108.6" r="56.2" fill="none" stroke="#aeaeae" stroke-width="1.5"/>
<path d="M457.5,108.6 L499.50,108.60 A42,42 0 0 0 496.97,94.24 Z" fill="#82dea8" stroke="#2a2a2a" stroke-width="0.5" stroke-opacity="0.6" stroke-linejoin="miter"/>
<path d="M457.5,108.6 L490.39,96.63 A35,35 0 0 0 484.31,86.10 Z" fill="#82dea8" stroke="#2a2a2a" stroke-width="0.5" stroke-opacity="0.6" stroke-linejoin="miter"/>
<path d="M457.5,108.6 L486.23,84.50 A37.5,37.5 0 0 0 476.25,76.12 Z" fill="#82dea8" stroke="#2a2a2a" stroke-width="0.5" stroke-opacity="0.6" stroke-linejoin="miter"/>
<path d="M457.5,108.6 L475.25,77.86 A35.5,35.5 0 0 0 463.66,73.64 Z" fill="#82dea8" stroke="#2a2a2a" stroke-width="0.5" stroke-opacity="0.6" stroke-linejoin="miter"/>
<path d="M457.5,108.6 L463.33,75.51 A33.6,33.6 0 0 0 451.67,75.51 Z" fill="#82dea8" stroke="#2a2a2a" stroke-width="0.5" stroke-opacity="0.6" stroke-linejoin="miter"/>
<path d="M457.5,108.6 L451.94,77.09 A32,32 0 0 0 441.50,80.89 Z" fill="#82dea8" stroke="#2a2a2a" stroke-width="0.5" stroke-opacity="0.6" stroke-linejoin="miter"/>
<path d="M457.5,108.6 L435.35,70.24 A44.3,44.3 0 0 0 423.56,80.12 Z" fill="#82dea8" stroke="#2a2a2a" stroke-width="0.5" stroke-opacity="0.6" stroke-linejoin="miter"/>
<path d="M457.5,108.6 L426.55,82.63 A40.4,40.4 0 0 0 419.54,94.78 Z" fill="#82dea8" stroke="#2a2a2a" stroke-width="0.5" stroke-opacity="0.6" stroke-linejoin="miter"/>
<path d="M457.5,108.6 L412.39,92.18 A48,48 0 0 0 409.50,108.60 Z" fill="#82dea8" stroke="#2a2a2a" stroke-width="0.5" stroke-opacity="0.6" stroke-linejoin="miter"/>
<path d="M457.5,108.6 L404.00,108.60 A53.5,53.5 0 0 0 407.23,126.90 Z" fill="#e8942f" stroke="#2a2a2a" stroke-width="0.5" stroke-opacity="0.6" stroke-linejoin="miter"/>
<path d="M457.5,108.6 L406.10,127.31 A54.7,54.7 0 0 0 415.60,143.76 Z" fill="#e8942f" stroke="#2a2a2a" stroke-width="0.5" stroke-opacity="0.6" stroke-linejoin="miter"/>
<path d="M457.5,108.6 L423.41,137.20 A44.5,44.5 0 0 0 435.25,147.14 Z" fill="#e8942f" stroke="#2a2a2a" stroke-width="0.5" stroke-opacity="0.6" stroke-linejoin="miter"/>
<path d="M457.5,108.6 L429.60,156.92 A55.8,55.8 0 0 0 447.81,163.55 Z" fill="#e8942f" stroke="#2a2a2a" stroke-width="0.5" stroke-opacity="0.6" stroke-linejoin="miter"/>
<path d="M457.5,108.6 L448.38,160.30 A52.5,52.5 0 0 0 466.62,160.30 Z" fill="#e8942f" stroke="#2a2a2a" stroke-width="0.5" stroke-opacity="0.6" stroke-linejoin="miter"/>
<path d="M457.5,108.6 L466.81,161.39 A53.6,53.6 0 0 0 484.30,155.02 Z" fill="#82dea8" stroke="#2a2a2a" stroke-width="0.5" stroke-opacity="0.6" stroke-linejoin="miter"/>
<path d="M457.5,108.6 L478.60,145.15 A42.2,42.2 0 0 0 489.83,135.73 Z" fill="#82dea8" stroke="#2a2a2a" stroke-width="0.5" stroke-opacity="0.6" stroke-linejoin="miter"/>
<path d="M457.5,108.6 L483.32,130.26 A33.7,33.7 0 0 0 489.17,120.13 Z" fill="#82dea8" stroke="#2a2a2a" stroke-width="0.5" stroke-opacity="0.6" stroke-linejoin="miter"/>
<path d="M457.5,108.6 L497.62,123.20 A42.7,42.7 0 0 0 500.20,108.60 Z" fill="#82dea8" stroke="#2a2a2a" stroke-width="0.5" stroke-opacity="0.6" stroke-linejoin="miter"/>
<circle cx="457.5" cy="108.6" r="1.0" fill="#000"/>
<text x="519.50" y="112.50" font-size="10.8" text-anchor="middle" fill="#262626" stroke="#262626" stroke-width="0.1">0</text>
<text x="515.12" y="76.92" font-size="10.8" text-anchor="middle" fill="#262626" stroke="#262626" stroke-width="0.1">30</text>
<text x="493.37" y="55.88" font-size="10.8" text-anchor="middle" fill="#262626" stroke="#262626" stroke-width="0.1">60</text>
<text x="457.50" y="47.40" font-size="10.8" text-anchor="middle" fill="#262626" stroke="#262626" stroke-width="0.1">90</text>
<text x="418.65" y="54.56" font-size="10.8" text-anchor="middle" fill="#262626" stroke="#262626" stroke-width="0.1">120</text>
<text x="397.29" y="76.41" font-size="10.8" text-anchor="middle" fill="#262626" stroke="#262626" stroke-width="0.1">150</text>
<text x="388.90" y="112.50" font-size="10.8" text-anchor="middle" fill="#262626" stroke="#262626" stroke-width="0.1">180</text>
<text x="396.89" y="148.09" font-size="10.8" text-anchor="middle" fill="#262626" stroke="#262626" stroke-width="0.1">210</text>
<text x="418.45" y="170.24" font-size="10.8" text-anchor="middle" fill="#262626" stroke="#262626" stroke-width="0.1">240</text>
<text x="457.50" y="177.60" font-size="10.8" text-anchor="middle" fill="#262626" stroke="#262626" stroke-width="0.1">270</text>
<text x="496.45" y="170.44" font-size="10.8" text-anchor="middle" fill="#262626" stroke="#262626" stroke-width="0.1">300</text>
<text x="518.11" y="148.69" font-size="10.8" text-anchor="middle" fill="#262626" stroke="#262626" stroke-width="0.1">330</text>
<circle cx="613.9" cy="108.7" r="12.5" fill="none" stroke="#cbcbcb" stroke-width="1"/>
<circle cx="613.9" cy="108.7" r="25" fill="none" stroke="#cbcbcb" stroke-width="1"/>
<circle cx="613.9" cy="108.7" r="37.5" fill="none" stroke="#cbcbcb" stroke-width="1"/>
<circle cx="613.9" cy="108.7" r="50" fill="none" stroke="#cbcbcb" stroke-width="1"/>
<line x1="613.90" y1="108.70" x2="670.20" y2="108.70" stroke="#cbcbcb" stroke-width="1"/>
<line x1="613.90" y1="108.70" x2="662.66" y2="80.55" stroke="#cbcbcb" stroke-width="1"/>
<line x1="613.90" y1="108.70" x2="642.05" y2="59.94" stroke="#cbcbcb" stroke-width="1"/>
<line x1="613.90" y1="108.70" x2="613.90" y2="52.40" stroke="#cbcbcb" stroke-width="1"/>
<line x1="613.90" y1="108.70" x2="585.75" y2="59.94" stroke="#cbcbcb" stroke-width="1"/>
<line x1="613.90" y1="108.70" x2="565.14" y2="80.55" stroke="#cbcbcb" stroke-width="1"/>
<line x1="613.90" y1="108.70" x2="557.60" y2="108.70" stroke="#cbcbcb" stroke-width="1"/>
<line x1="613.90" y1="108.70" x2="565.14" y2="136.85" stroke="#cbcbcb" stroke-width="1"/>
<line x1="613.90" y1="108.70" x2="585.75" y2="157.46" stroke="#cbcbcb" stroke-width="1"/>
<line x1="613.90" y1="108.70" x2="613.90" y2="165.00" stroke="#cbcbcb" stroke-width="1"/>
<line x1="613.90" y1="108.70" x2="642.05" y2="157.46" stroke="#cbcbcb" stroke-width="1"/>
<line x1="613.90" y1="108.70" x2="662.66" y2="136.85" stroke="#cbcbcb" stroke-width="1"/>
<circle cx="613.9" cy="108.7" r="56.3" fill="none" stroke="#aeaeae" stroke-width="1.5"/>
<path d="M613.9,108.7 L652.40,108.70 A38.5,38.5 0 0 0 650.08,95.53 Z" fill="#e8942f" stroke="#2a2a2a" stroke-width="0.5" stroke-opacity="0.6" stroke-linejoin="miter"/>
<path d="M613.9,108.7 L660.41,91.77 A49.5,49.5 0 0 0 651.82,76.88 Z" fill="#e8942f" stroke="#2a2a2a" stroke-width="0.5" stroke-opacity="0.6" stroke-linejoin="miter"/>
<path d="M613.9,108.7 L646.92,81.00 A43.1,43.1 0 0 0 635.45,71.37 Z" fill="#e8942f" stroke="#2a2a2a" stroke-width="0.5" stroke-opacity="0.6" stroke-linejoin="miter"/>
<path d="M613.9,108.7 L640.05,63.41 A52.3,52.3 0 0 0 622.98,57.19 Z" fill="#e8942f" stroke="#2a2a2a" stroke-width="0.5" stroke-opacity="0.6" stroke-linejoin="miter"/>
<path d="M613.9,108.7 L622.63,59.16 A50.3,50.3 0 0 0 605.17,59.16 Z" fill="#e8942f" stroke="#2a2a2a" stroke-width="0.5" stroke-opacity="0.6" stroke-linejoin="miter"/>
<path d="M613.9,108.7 L606.85,68.72 A40.6,40.6 0 0 0 593.60,73.54 Z" fill="#e8942f" stroke="#2a2a2a" stroke-width="0.5" stroke-opacity="0.6" stroke-linejoin="miter"/>
<path d="M613.9,108.7 L596.40,78.39 A35,35 0 0 0 587.09,86.20 Z" fill="#82dea8" stroke="#2a2a2a" stroke-width="0.5" stroke-opacity="0.6" stroke-linejoin="miter"/>
<path d="M613.9,108.7 L594.75,92.63 A25,25 0 0 0 590.41,100.15 Z" fill="#82dea8" stroke="#2a2a2a" stroke-width="0.5" stroke-opacity="0.6" stroke-linejoin="miter"/>
<path d="M613.9,108.7 L583.17,97.52 A32.7,32.7 0 0 0 581.20,108.70 Z" fill="#82dea8" stroke="#2a2a2a" stroke-width="0.5" stroke-opacity="0.6" stroke-linejoin="miter"/>
<path d="M613.9,108.7 L586.30,108.70 A27.6,27.6 0 0 0 587.96,118.14 Z" fill="#82dea8" stroke="#2a2a2a" stroke-width="0.5" stroke-opacity="0.6" stroke-linejoin="miter"/>
<path d="M613.9,108.7 L591.72,116.77 A23.6,23.6 0 0 0 595.82,123.87 Z" fill="#82dea8" stroke="#2a2a2a" stroke-width="0.5" stroke-opacity="0.6" stroke-linejoin="miter"/>
<path d="M613.9,108.7 L595.97,123.74 A23.4,23.4 0 0 0 602.20,128.96 Z" fill="#82dea8" stroke="#2a2a2a" stroke-width="0.5" stroke-opacity="0.6" stroke-linejoin="miter"/>
<path d="M613.9,108.7 L604.70,124.63 A18.4,18.4 0 0 0 610.70,126.82 Z" fill="#82dea8" stroke="#2a2a2a" stroke-width="0.5" stroke-opacity="0.6" stroke-linejoin="miter"/>
<path d="M613.9,108.7 L609.68,132.63 A24.3,24.3 0 0 0 618.12,132.63 Z" fill="#82dea8" stroke="#2a2a2a" stroke-width="0.5" stroke-opacity="0.6" stroke-linejoin="miter"/>
<path d="M613.9,108.7 L619.23,138.93 A30.7,30.7 0 0 0 629.25,135.29 Z" fill="#82dea8" stroke="#2a2a2a" stroke-width="0.5" stroke-opacity="0.6" stroke-linejoin="miter"/>
<path d="M613.9,108.7 L626.65,130.78 A25.5,25.5 0 0 0 633.43,125.09 Z" fill="#82dea8" stroke="#2a2a2a" stroke-width="0.5" stroke-opacity="0.6" stroke-linejoin="miter"/>
<path d="M613.9,108.7 L637.34,128.37 A30.6,30.6 0 0 0 642.65,119.17 Z" fill="#82dea8" stroke="#2a2a2a" stroke-width="0.5" stroke-opacity="0.6" stroke-linejoin="miter"/>
<path d="M613.9,108.7 L651.49,122.38 A40,40 0 0 0 653.90,108.70 Z" fill="#82dea8" stroke="#2a2a2a" stroke-width="0.5" stroke-opacity="0.6" stroke-linejoin="miter"/>
<circle cx="613.9" cy="108.7" r="1.0" fill="#000"/>
<text x="676.00" y="112.60" font-size="10.8" text-anchor="middle" fill="#262626" stroke="#262626" stroke-width="0.1">0</text>
<text x="671.60" y="76.97" font-size="10.8" text-anchor="middle" fill="#262626" stroke="#262626" stroke-width="0.1">30</text>
<text x="649.83" y="55.89" font-size="10.8" text-anchor="middle" fill="#262626" stroke="#262626" stroke-width="0.1">60</text>
<text x="613.90" y="47.40" font-size="10.8" text-anchor="middle" fill="#262626" stroke="#262626" stroke-width="0.1">90</text>
<text x="574.99" y="54.58" font-size="10.8" text-anchor="middle" fill="#262626" stroke="#262626" stroke-width="0.1">120</text>
<text x="553.60" y="76.46" font-size="10.8" text-anchor="middle" fill="#262626" stroke="#262626" stroke-width="0.1">150</text>
<text x="545.20" y="112.60" font-size="10.8" text-anchor="middle" fill="#262626" stroke="#262626" stroke-width="0.1">180</text>
<text x="553.20" y="148.25" font-size="10.8" text-anchor="middle" fill="#262626" stroke="#262626" stroke-width="0.1">210</text>
<text x="574.79" y="170.42" font-size="10.8" text-anchor="middle" fill="#262626" stroke="#262626" stroke-width="0.1">240</text>
<text x="613.90" y="177.80" font-size="10.8" text-anchor="middle" fill="#262626" stroke="#262626" stroke-width="0.1">270</text>
<text x="652.91" y="170.62" font-size="10.8" text-anchor="middle" fill="#262626" stroke="#262626" stroke-width="0.1">300</text>
<text x="674.60" y="148.84" font-size="10.8" text-anchor="middle" fill="#262626" stroke="#262626" stroke-width="0.1">330</text>
<circle cx="296.4" cy="269.3" r="11.4" fill="none" stroke="#cbcbcb" stroke-width="1"/>
<circle cx="296.4" cy="269.3" r="22.8" fill="none" stroke="#cbcbcb" stroke-width="1"/>
<circle cx="296.4" cy="269.3" r="34.2" fill="none" stroke="#cbcbcb" stroke-width="1"/>
<circle cx="296.4" cy="269.3" r="45.6" fill="none" stroke="#cbcbcb" stroke-width="1"/>
<line x1="296.40" y1="269.30" x2="353.40" y2="269.30" stroke="#cbcbcb" stroke-width="1"/>
<line x1="296.40" y1="269.30" x2="345.76" y2="240.80" stroke="#cbcbcb" stroke-width="1"/>
<line x1="296.40" y1="269.30" x2="324.90" y2="219.94" stroke="#cbcbcb" stroke-width="1"/>
<line x1="296.40" y1="269.30" x2="296.40" y2="212.30" stroke="#cbcbcb" stroke-width="1"/>
<line x1="296.40" y1="269.30" x2="267.90" y2="219.94" stroke="#cbcbcb" stroke-width="1"/>
<line x1="296.40" y1="269.30" x2="247.04" y2="240.80" stroke="#cbcbcb" stroke-width="1"/>
<line x1="296.40" y1="269.30" x2="239.40" y2="269.30" stroke="#cbcbcb" stroke-width="1"/>
<line x1="296.40" y1="269.30" x2="247.04" y2="297.80" stroke="#cbcbcb" stroke-width="1"/>
<line x1="296.40" y1="269.30" x2="267.90" y2="318.66" stroke="#cbcbcb" stroke-width="1"/>
<line x1="296.40" y1="269.30" x2="296.40" y2="326.30" stroke="#cbcbcb" stroke-width="1"/>
<line x1="296.40" y1="269.30" x2="324.90" y2="318.66" stroke="#cbcbcb" stroke-width="1"/>
<line x1="296.40" y1="269.30" x2="345.76" y2="297.80" stroke="#cbcbcb" stroke-width="1"/>
<circle cx="296.4" cy="269.3" r="57.0" fill="none" stroke="#aeaeae" stroke-width="1.5"/>
<path d="M296.4,269.3 L343.70,269.30 A47.3,47.3 0 0 0 340.85,253.12 Z" fill="#82dea8" stroke="#2a2a2a" stroke-width="0.5" stroke-opacity="0.6" stroke-linejoin="miter"/>
<path d="M296.4,269.3 L336.52,254.70 A42.7,42.7 0 0 0 329.11,241.85 Z" fill="#82dea8" stroke="#2a2a2a" stroke-width="0.5" stroke-opacity="0.6" stroke-linejoin="miter"/>
<path d="M296.4,269.3 L329.57,241.47 A43.3,43.3 0 0 0 318.05,231.80 Z" fill="#82dea8" stroke="#2a2a2a" stroke-width="0.5" stroke-opacity="0.6" stroke-linejoin="miter"/>
<path d="M296.4,269.3 L316.90,233.79 A41,41 0 0 0 303.52,228.92 Z" fill="#82dea8" stroke="#2a2a2a" stroke-width="0.5" stroke-opacity="0.6" stroke-linejoin="miter"/>
<path d="M296.4,269.3 L302.48,234.83 A35,35 0 0 0 290.32,234.83 Z" fill="#82dea8" stroke="#2a2a2a" stroke-width="0.5" stroke-opacity="0.6" stroke-linejoin="miter"/>
<path d="M296.4,269.3 L289.11,227.94 A42,42 0 0 0 275.40,232.93 Z" fill="#82dea8" stroke="#2a2a2a" stroke-width="0.5" stroke-opacity="0.6" stroke-linejoin="miter"/>
<path d="M296.4,269.3 L274.05,230.59 A44.7,44.7 0 0 0 262.16,240.57 Z" fill="#82dea8" stroke="#2a2a2a" stroke-width="0.5" stroke-opacity="0.6" stroke-linejoin="miter"/>
<path d="M296.4,269.3 L266.91,244.55 A38.5,38.5 0 0 0 260.22,256.13 Z" fill="#82dea8" stroke="#2a2a2a" stroke-width="0.5" stroke-opacity="0.6" stroke-linejoin="miter"/>
<path d="M296.4,269.3 L253.17,253.57 A46,46 0 0 0 250.40,269.30 Z" fill="#82dea8" stroke="#2a2a2a" stroke-width="0.5" stroke-opacity="0.6" stroke-linejoin="miter"/>
<path d="M296.4,269.3 L257.10,269.30 A39.3,39.3 0 0 0 259.47,282.74 Z" fill="#82dea8" stroke="#2a2a2a" stroke-width="0.5" stroke-opacity="0.6" stroke-linejoin="miter"/>
<path d="M296.4,269.3 L246.31,287.53 A53.3,53.3 0 0 0 255.57,303.56 Z" fill="#82dea8" stroke="#2a2a2a" stroke-width="0.5" stroke-opacity="0.6" stroke-linejoin="miter"/>
<path d="M296.4,269.3 L260.86,299.13 A46.4,46.4 0 0 0 273.20,309.48 Z" fill="#82dea8" stroke="#2a2a2a" stroke-width="0.5" stroke-opacity="0.6" stroke-linejoin="miter"/>
<path d="M296.4,269.3 L271.95,311.65 A48.9,48.9 0 0 0 287.91,317.46 Z" fill="#82dea8" stroke="#2a2a2a" stroke-width="0.5" stroke-opacity="0.6" stroke-linejoin="miter"/>
<path d="M296.4,269.3 L289.58,308.00 A39.3,39.3 0 0 0 303.22,308.00 Z" fill="#82dea8" stroke="#2a2a2a" stroke-width="0.5" stroke-opacity="0.6" stroke-linejoin="miter"/>
<path d="M296.4,269.3 L302.18,302.09 A33.3,33.3 0 0 0 313.05,298.14 Z" fill="#82dea8" stroke="#2a2a2a" stroke-width="0.5" stroke-opacity="0.6" stroke-linejoin="miter"/>
<path d="M296.4,269.3 L317.85,306.45 A42.9,42.9 0 0 0 329.26,296.88 Z" fill="#82dea8" stroke="#2a2a2a" stroke-width="0.5" stroke-opacity="0.6" stroke-linejoin="miter"/>
<path d="M296.4,269.3 L328.88,296.55 A42.4,42.4 0 0 0 336.24,283.80 Z" fill="#82dea8" stroke="#2a2a2a" stroke-width="0.5" stroke-opacity="0.6" stroke-linejoin="miter"/>
<path d="M296.4,269.3 L337.28,284.18 A43.5,43.5 0 0 0 339.90,269.30 Z" fill="#82dea8" stroke="#2a2a2a" stroke-width="0.5" stroke-opacity="0.6" stroke-linejoin="miter"/>
<circle cx="296.4" cy="269.3" r="1.0" fill="#000"/>
<text x="359.20" y="273.20" font-size="10.8" text-anchor="middle" fill="#262626" stroke="#262626" stroke-width="0.1">0</text>
<text x="354.70" y="237.20" font-size="10.8" text-anchor="middle" fill="#262626" stroke="#262626" stroke-width="0.1">30</text>
<text x="332.70" y="215.90" font-size="10.8" text-anchor="middle" fill="#262626" stroke="#262626" stroke-width="0.1">60</text>
<text x="296.40" y="207.30" font-size="10.8" text-anchor="middle" fill="#262626" stroke="#262626" stroke-width="0.1">90</text>
<text x="257.10" y="214.60" font-size="10.8" text-anchor="middle" fill="#262626" stroke="#262626" stroke-width="0.1">120</text>
<text x="235.50" y="236.70" font-size="10.8" text-anchor="middle" fill="#262626" stroke="#262626" stroke-width="0.1">150</text>
<text x="227.00" y="273.20" font-size="10.8" text-anchor="middle" fill="#262626" stroke="#262626" stroke-width="0.1">180</text>
<text x="235.10" y="309.20" font-size="10.8" text-anchor="middle" fill="#262626" stroke="#262626" stroke-width="0.1">210</text>
<text x="256.90" y="331.60" font-size="10.8" text-anchor="middle" fill="#262626" stroke="#262626" stroke-width="0.1">240</text>
<text x="296.40" y="339.10" font-size="10.8" text-anchor="middle" fill="#262626" stroke="#262626" stroke-width="0.1">270</text>
<text x="335.80" y="331.80" font-size="10.8" text-anchor="middle" fill="#262626" stroke="#262626" stroke-width="0.1">300</text>
<text x="357.70" y="309.80" font-size="10.8" text-anchor="middle" fill="#262626" stroke="#262626" stroke-width="0.1">330</text>
<circle cx="457.4" cy="269.3" r="11.8" fill="none" stroke="#cbcbcb" stroke-width="1"/>
<circle cx="457.4" cy="269.3" r="23.6" fill="none" stroke="#cbcbcb" stroke-width="1"/>
<circle cx="457.4" cy="269.3" r="35.5" fill="none" stroke="#cbcbcb" stroke-width="1"/>
<circle cx="457.4" cy="269.3" r="47.3" fill="none" stroke="#cbcbcb" stroke-width="1"/>
<line x1="457.40" y1="269.30" x2="513.90" y2="269.30" stroke="#cbcbcb" stroke-width="1"/>
<line x1="457.40" y1="269.30" x2="506.33" y2="241.05" stroke="#cbcbcb" stroke-width="1"/>
<line x1="457.40" y1="269.30" x2="485.65" y2="220.37" stroke="#cbcbcb" stroke-width="1"/>
<line x1="457.40" y1="269.30" x2="457.40" y2="212.80" stroke="#cbcbcb" stroke-width="1"/>
<line x1="457.40" y1="269.30" x2="429.15" y2="220.37" stroke="#cbcbcb" stroke-width="1"/>
<line x1="457.40" y1="269.30" x2="408.47" y2="241.05" stroke="#cbcbcb" stroke-width="1"/>
<line x1="457.40" y1="269.30" x2="400.90" y2="269.30" stroke="#cbcbcb" stroke-width="1"/>
<line x1="457.40" y1="269.30" x2="408.47" y2="297.55" stroke="#cbcbcb" stroke-width="1"/>
<line x1="457.40" y1="269.30" x2="429.15" y2="318.23" stroke="#cbcbcb" stroke-width="1"/>
<line x1="457.40" y1="269.30" x2="457.40" y2="325.80" stroke="#cbcbcb" stroke-width="1"/>
<line x1="457.40" y1="269.30" x2="485.65" y2="318.23" stroke="#cbcbcb" stroke-width="1"/>
<line x1="457.40" y1="269.30" x2="506.33" y2="297.55" stroke="#cbcbcb" stroke-width="1"/>
<circle cx="457.4" cy="269.3" r="56.5" fill="none" stroke="#aeaeae" stroke-width="1.5"/>
<path d="M457.4,269.3 L490.40,269.30 A33,33 0 0 0 488.41,258.01 Z" fill="#82dea8" stroke="#2a2a2a" stroke-width="0.5" stroke-opacity="0.6" stroke-linejoin="miter"/>
<path d="M457.4,269.3 L486.53,258.70 A31,31 0 0 0 481.15,249.37 Z" fill="#82dea8" stroke="#2a2a2a" stroke-width="0.5" stroke-opacity="0.6" stroke-linejoin="miter"/>
<path d="M457.4,269.3 L478.47,251.62 A27.5,27.5 0 0 0 471.15,245.48 Z" fill="#82dea8" stroke="#2a2a2a" stroke-width="0.5" stroke-opacity="0.6" stroke-linejoin="miter"/>
<path d="M457.4,269.3 L471.40,245.05 A28,28 0 0 0 462.26,241.73 Z" fill="#82dea8" stroke="#2a2a2a" stroke-width="0.5" stroke-opacity="0.6" stroke-linejoin="miter"/>
<path d="M457.4,269.3 L462.56,240.05 A29.7,29.7 0 0 0 452.24,240.05 Z" fill="#82dea8" stroke="#2a2a2a" stroke-width="0.5" stroke-opacity="0.6" stroke-linejoin="miter"/>
<path d="M457.4,269.3 L450.09,227.84 A42.1,42.1 0 0 0 436.35,232.84 Z" fill="#82dea8" stroke="#2a2a2a" stroke-width="0.5" stroke-opacity="0.6" stroke-linejoin="miter"/>
<path d="M457.4,269.3 L442.80,244.01 A29.2,29.2 0 0 0 435.03,250.53 Z" fill="#82dea8" stroke="#2a2a2a" stroke-width="0.5" stroke-opacity="0.6" stroke-linejoin="miter"/>
<path d="M457.4,269.3 L430.59,246.80 A35,35 0 0 0 424.51,257.33 Z" fill="#e8942f" stroke="#2a2a2a" stroke-width="0.5" stroke-opacity="0.6" stroke-linejoin="miter"/>
<path d="M457.4,269.3 L422.54,256.61 A37.1,37.1 0 0 0 420.30,269.30 Z" fill="#e8942f" stroke="#2a2a2a" stroke-width="0.5" stroke-opacity="0.6" stroke-linejoin="miter"/>
<path d="M457.4,269.3 L420.30,269.30 A37.1,37.1 0 0 0 422.54,281.99 Z" fill="#e8942f" stroke="#2a2a2a" stroke-width="0.5" stroke-opacity="0.6" stroke-linejoin="miter"/>
<path d="M457.4,269.3 L410.13,286.50 A50.3,50.3 0 0 0 418.87,301.63 Z" fill="#82dea8" stroke="#2a2a2a" stroke-width="0.5" stroke-opacity="0.6" stroke-linejoin="miter"/>
<path d="M457.4,269.3 L426.45,295.27 A40.4,40.4 0 0 0 437.20,304.29 Z" fill="#82dea8" stroke="#2a2a2a" stroke-width="0.5" stroke-opacity="0.6" stroke-linejoin="miter"/>
<path d="M457.4,269.3 L444.25,292.08 A26.3,26.3 0 0 0 452.83,295.20 Z" fill="#82dea8" stroke="#2a2a2a" stroke-width="0.5" stroke-opacity="0.6" stroke-linejoin="miter"/>
<path d="M457.4,269.3 L452.45,297.37 A28.5,28.5 0 0 0 462.35,297.37 Z" fill="#82dea8" stroke="#2a2a2a" stroke-width="0.5" stroke-opacity="0.6" stroke-linejoin="miter"/>
<path d="M457.4,269.3 L461.31,291.46 A22.5,22.5 0 0 0 468.65,288.79 Z" fill="#82dea8" stroke="#2a2a2a" stroke-width="0.5" stroke-opacity="0.6" stroke-linejoin="miter"/>
<path d="M457.4,269.3 L471.35,293.46 A27.9,27.9 0 0 0 478.77,287.23 Z" fill="#82dea8" stroke="#2a2a2a" stroke-width="0.5" stroke-opacity="0.6" stroke-linejoin="miter"/>
<path d="M457.4,269.3 L480.00,288.26 A29.5,29.5 0 0 0 485.12,279.39 Z" fill="#82dea8" stroke="#2a2a2a" stroke-width="0.5" stroke-opacity="0.6" stroke-linejoin="miter"/>
<path d="M457.4,269.3 L487.47,280.24 A32,32 0 0 0 489.40,269.30 Z" fill="#82dea8" stroke="#2a2a2a" stroke-width="0.5" stroke-opacity="0.6" stroke-linejoin="miter"/>
<circle cx="457.4" cy="269.3" r="1.0" fill="#000"/>
<text x="519.70" y="273.20" font-size="10.8" text-anchor="middle" fill="#262626" stroke="#262626" stroke-width="0.1">0</text>
<text x="515.27" y="237.46" font-size="10.8" text-anchor="middle" fill="#262626" stroke="#262626" stroke-width="0.1">30</text>
<text x="493.43" y="216.32" font-size="10.8" text-anchor="middle" fill="#262626" stroke="#262626" stroke-width="0.1">60</text>
<text x="457.40" y="207.80" font-size="10.8" text-anchor="middle" fill="#262626" stroke="#262626" stroke-width="0.1">90</text>
<text x="418.38" y="215.02" font-size="10.8" text-anchor="middle" fill="#262626" stroke="#262626" stroke-width="0.1">120</text>
<text x="396.93" y="236.96" font-size="10.8" text-anchor="middle" fill="#262626" stroke="#262626" stroke-width="0.1">150</text>
<text x="388.50" y="273.20" font-size="10.8" text-anchor="middle" fill="#262626" stroke="#262626" stroke-width="0.1">180</text>
<text x="396.53" y="308.95" font-size="10.8" text-anchor="middle" fill="#262626" stroke="#262626" stroke-width="0.1">210</text>
<text x="418.18" y="331.19" font-size="10.8" text-anchor="middle" fill="#262626" stroke="#262626" stroke-width="0.1">240</text>
<text x="457.40" y="338.60" font-size="10.8" text-anchor="middle" fill="#262626" stroke="#262626" stroke-width="0.1">270</text>
<text x="496.52" y="331.39" font-size="10.8" text-anchor="middle" fill="#262626" stroke="#262626" stroke-width="0.1">300</text>
<text x="518.27" y="309.54" font-size="10.8" text-anchor="middle" fill="#262626" stroke="#262626" stroke-width="0.1">330</text>
<circle cx="613.7" cy="269.3" r="14" fill="none" stroke="#cbcbcb" stroke-width="1"/>
<circle cx="613.7" cy="269.3" r="28" fill="none" stroke="#cbcbcb" stroke-width="1"/>
<circle cx="613.7" cy="269.3" r="42" fill="none" stroke="#cbcbcb" stroke-width="1"/>
<line x1="613.70" y1="269.30" x2="670.00" y2="269.30" stroke="#cbcbcb" stroke-width="1"/>
<line x1="613.70" y1="269.30" x2="662.46" y2="241.15" stroke="#cbcbcb" stroke-width="1"/>
<line x1="613.70" y1="269.30" x2="641.85" y2="220.54" stroke="#cbcbcb" stroke-width="1"/>
<line x1="613.70" y1="269.30" x2="613.70" y2="213.00" stroke="#cbcbcb" stroke-width="1"/>
<line x1="613.70" y1="269.30" x2="585.55" y2="220.54" stroke="#cbcbcb" stroke-width="1"/>
<line x1="613.70" y1="269.30" x2="564.94" y2="241.15" stroke="#cbcbcb" stroke-width="1"/>
<line x1="613.70" y1="269.30" x2="557.40" y2="269.30" stroke="#cbcbcb" stroke-width="1"/>
<line x1="613.70" y1="269.30" x2="564.94" y2="297.45" stroke="#cbcbcb" stroke-width="1"/>
<line x1="613.70" y1="269.30" x2="585.55" y2="318.06" stroke="#cbcbcb" stroke-width="1"/>
<line x1="613.70" y1="269.30" x2="613.70" y2="325.60" stroke="#cbcbcb" stroke-width="1"/>
<line x1="613.70" y1="269.30" x2="641.85" y2="318.06" stroke="#cbcbcb" stroke-width="1"/>
<line x1="613.70" y1="269.30" x2="662.46" y2="297.45" stroke="#cbcbcb" stroke-width="1"/>
<circle cx="613.7" cy="269.3" r="56.3" fill="none" stroke="#aeaeae" stroke-width="1.5"/>
<path d="M613.7,269.3 L665.40,269.30 A51.7,51.7 0 0 0 662.28,251.62 Z" fill="#e8942f" stroke="#2a2a2a" stroke-width="0.5" stroke-opacity="0.6" stroke-linejoin="miter"/>
<path d="M613.7,269.3 L666.51,250.08 A56.2,56.2 0 0 0 656.75,233.18 Z" fill="#e8942f" stroke="#2a2a2a" stroke-width="0.5" stroke-opacity="0.6" stroke-linejoin="miter"/>
<path d="M613.7,269.3 L646.49,241.79 A42.8,42.8 0 0 0 635.10,232.23 Z" fill="#82dea8" stroke="#2a2a2a" stroke-width="0.5" stroke-opacity="0.6" stroke-linejoin="miter"/>
<path d="M613.7,269.3 L631.50,238.47 A35.6,35.6 0 0 0 619.88,234.24 Z" fill="#82dea8" stroke="#2a2a2a" stroke-width="0.5" stroke-opacity="0.6" stroke-linejoin="miter"/>
<path d="M613.7,269.3 L621.72,223.80 A46.2,46.2 0 0 0 605.68,223.80 Z" fill="#82dea8" stroke="#2a2a2a" stroke-width="0.5" stroke-opacity="0.6" stroke-linejoin="miter"/>
<path d="M613.7,269.3 L609.05,242.91 A26.8,26.8 0 0 0 600.30,246.09 Z" fill="#82dea8" stroke="#2a2a2a" stroke-width="0.5" stroke-opacity="0.6" stroke-linejoin="miter"/>
<path d="M613.7,269.3 L601.65,248.43 A24.1,24.1 0 0 0 595.24,253.81 Z" fill="#82dea8" stroke="#2a2a2a" stroke-width="0.5" stroke-opacity="0.6" stroke-linejoin="miter"/>
<path d="M613.7,269.3 L592.10,251.17 A28.2,28.2 0 0 0 587.20,259.66 Z" fill="#82dea8" stroke="#2a2a2a" stroke-width="0.5" stroke-opacity="0.6" stroke-linejoin="miter"/>
<path d="M613.7,269.3 L581.19,257.47 A34.6,34.6 0 0 0 579.10,269.30 Z" fill="#82dea8" stroke="#2a2a2a" stroke-width="0.5" stroke-opacity="0.6" stroke-linejoin="miter"/>
<path d="M613.7,269.3 L580.50,269.30 A33.2,33.2 0 0 0 582.50,280.66 Z" fill="#82dea8" stroke="#2a2a2a" stroke-width="0.5" stroke-opacity="0.6" stroke-linejoin="miter"/>
<path d="M613.7,269.3 L581.56,281.00 A34.2,34.2 0 0 0 587.50,291.28 Z" fill="#82dea8" stroke="#2a2a2a" stroke-width="0.5" stroke-opacity="0.6" stroke-linejoin="miter"/>
<path d="M613.7,269.3 L582.45,295.53 A40.8,40.8 0 0 0 593.30,304.63 Z" fill="#82dea8" stroke="#2a2a2a" stroke-width="0.5" stroke-opacity="0.6" stroke-linejoin="miter"/>
<path d="M613.7,269.3 L592.80,305.50 A41.8,41.8 0 0 0 606.44,310.46 Z" fill="#82dea8" stroke="#2a2a2a" stroke-width="0.5" stroke-opacity="0.6" stroke-linejoin="miter"/>
<path d="M613.7,269.3 L608.07,301.21 A32.4,32.4 0 0 0 619.33,301.21 Z" fill="#82dea8" stroke="#2a2a2a" stroke-width="0.5" stroke-opacity="0.6" stroke-linejoin="miter"/>
<path d="M613.7,269.3 L619.19,300.42 A31.6,31.6 0 0 0 629.50,296.67 Z" fill="#82dea8" stroke="#2a2a2a" stroke-width="0.5" stroke-opacity="0.6" stroke-linejoin="miter"/>
<path d="M613.7,269.3 L632.05,301.08 A36.7,36.7 0 0 0 641.81,292.89 Z" fill="#82dea8" stroke="#2a2a2a" stroke-width="0.5" stroke-opacity="0.6" stroke-linejoin="miter"/>
<path d="M613.7,269.3 L640.43,291.73 A34.9,34.9 0 0 0 646.50,281.24 Z" fill="#e8942f" stroke="#2a2a2a" stroke-width="0.5" stroke-opacity="0.6" stroke-linejoin="miter"/>
<path d="M613.7,269.3 L663.60,287.46 A53.1,53.1 0 0 0 666.80,269.30 Z" fill="#e8942f" stroke="#2a2a2a" stroke-width="0.5" stroke-opacity="0.6" stroke-linejoin="miter"/>
<circle cx="613.7" cy="269.3" r="1.0" fill="#000"/>
<text x="675.80" y="273.20" font-size="10.8" text-anchor="middle" fill="#262626" stroke="#262626" stroke-width="0.1">0</text>
<text x="671.40" y="237.57" font-size="10.8" text-anchor="middle" fill="#262626" stroke="#262626" stroke-width="0.1">30</text>
<text x="649.63" y="216.49" font-size="10.8" text-anchor="middle" fill="#262626" stroke="#262626" stroke-width="0.1">60</text>
<text x="613.70" y="208.00" font-size="10.8" text-anchor="middle" fill="#262626" stroke="#262626" stroke-width="0.1">90</text>
<text x="574.79" y="215.18" font-size="10.8" text-anchor="middle" fill="#262626" stroke="#262626" stroke-width="0.1">120</text>
<text x="553.40" y="237.06" font-size="10.8" text-anchor="middle" fill="#262626" stroke="#262626" stroke-width="0.1">150</text>
<text x="545.00" y="273.20" font-size="10.8" text-anchor="middle" fill="#262626" stroke="#262626" stroke-width="0.1">180</text>
<text x="553.00" y="308.85" font-size="10.8" text-anchor="middle" fill="#262626" stroke="#262626" stroke-width="0.1">210</text>
<text x="574.59" y="331.02" font-size="10.8" text-anchor="middle" fill="#262626" stroke="#262626" stroke-width="0.1">240</text>
<text x="613.70" y="338.40" font-size="10.8" text-anchor="middle" fill="#262626" stroke="#262626" stroke-width="0.1">270</text>
<text x="652.71" y="331.22" font-size="10.8" text-anchor="middle" fill="#262626" stroke="#262626" stroke-width="0.1">300</text>
<text x="674.40" y="309.44" font-size="10.8" text-anchor="middle" fill="#262626" stroke="#262626" stroke-width="0.1">330</text>
<text x="295.60" y="21.00" font-size="12.5" text-anchor="middle" fill="#262626" stroke="#262626" stroke-width="0.25">DG/CA3</text>
<text x="455.70" y="21.00" font-size="12.5" text-anchor="middle" fill="#262626" stroke="#262626" stroke-width="0.25">CA1</text>
<text x="613.00" y="21.00" font-size="12.5" text-anchor="middle" fill="#262626" stroke="#262626" stroke-width="0.25">SUB</text>
<text x="209.90" y="102.20" font-size="12.8" text-anchor="middle" fill="#262626" stroke="#262626" stroke-width="0.25" transform="rotate(-90 209.90 102.20)">Delta-spindle</text>
<text x="210.30" y="274.00" font-size="12.8" text-anchor="middle" fill="#262626" stroke="#262626" stroke-width="0.25" transform="rotate(-90 210.30 274.00)">Spindle-ripple</text>
<polyline points="47.5,438.8 47.7,437.8 47.9,437.0 48.1,436.3 48.3,435.9 48.5,435.8 48.7,436.1 48.9,436.7 49.1,437.5 49.3,438.6 49.5,439.8 49.7,441.0 49.9,442.2 50.1,443.2 50.3,444.1 50.4,444.6 50.6,444.9 50.8,444.9 51.0,444.6 51.2,444.0 51.4,443.2 51.6,442.3 51.8,441.3 52.0,440.3 52.2,439.3 52.4,438.5 52.6,437.9 52.8,437.5 53.0,437.3 53.2,437.3 53.4,437.5 53.6,437.9 53.8,438.4 54.0,439.0 54.2,439.8 54.4,440.6 54.6,441.3 54.8,442.1 55.0,442.7 55.2,443.3 55.4,443.6 55.6,443.8 55.8,443.8 56.0,443.6 56.2,443.1 56.3,442.4 56.5,441.6 56.7,440.6 56.9,439.5 57.1,438.5 57.3,437.5 57.5,436.6 57.7,436.0 57.9,435.7 58.1,435.7 58.3,436.0 58.5,436.7 58.7,437.7 58.9,438.8 59.1,440.2 59.3,441.6 59.5,442.9 59.7,444.1 59.9,445.1 60.1,445.7 60.3,446.0 60.5,445.9 60.7,445.4 60.9,444.6 61.1,443.5 61.3,442.3 61.5,441.0 61.7,439.7 61.9,438.5 62.1,437.6 62.2,436.8 62.4,436.4 62.6,436.2 62.8,436.4 63.0,436.8 63.2,437.5 63.4,438.2 63.6,439.1 63.8,440.0 64.0,440.9 64.2,441.7 64.4,442.3 64.6,442.8 64.8,443.1 65.0,443.2 65.2,443.2 65.4,443.0 65.6,442.6 65.8,442.2 66.0,441.6 66.2,441.0 66.4,440.3 66.6,439.6 66.8,439.0 67.0,438.4 67.2,438.0 67.4,437.7 67.6,437.5 67.8,437.6 68.0,437.8 68.1,438.3 68.3,438.9 68.5,439.7 68.7,440.6 68.9,441.6 69.1,442.5 69.3,443.3 69.5,444.0 69.7,444.4 69.9,444.6 70.1,444.5 70.3,444.1 70.5,443.5 70.7,442.6 70.9,441.6 71.1,440.5 71.3,439.4 71.5,438.4 71.7,437.6 71.9,436.9 72.1,436.6 72.3,436.5 72.5,436.7 72.7,437.1 72.9,437.8 73.1,438.6 73.3,439.5 73.5,440.4 73.7,441.2 73.9,442.0 74.0,442.6 74.2,443.0 74.4,443.2 74.6,443.2 74.8,443.1 75.0,442.8 75.2,442.4 75.4,441.9 75.6,441.3 75.8,440.7 76.0,440.1 76.2,439.6 76.4,439.1 76.6,438.7 76.8,438.4 77.0,438.2 77.2,438.2 77.4,438.3 77.6,438.6 77.8,439.0 78.0,439.5 78.2,440.2 78.4,440.9 78.6,441.7 78.8,442.4 79.0,443.1 79.2,443.7 79.4,444.1 79.6,444.2 79.8,444.1 79.9,443.7 80.1,443.1 80.3,442.3 80.5,441.2 80.7,440.1 80.9,438.9 81.1,437.8 81.3,436.8 81.5,436.1 81.7,435.6 81.9,435.5 82.1,435.8 82.3,436.3 82.5,437.2 82.7,438.3 82.9,439.5 83.1,440.8 83.3,442.0 83.5,443.1 83.7,444.0 83.9,444.7 84.1,445.0 84.3,445.0 84.5,444.7 84.7,444.1 84.9,443.4 85.1,442.4 85.3,441.4 85.5,440.4 85.7,439.5 85.8,438.7 86.0,438.0 86.2,437.5 86.4,437.3 86.6,437.3 86.8,437.4 87.0,437.8 87.2,438.3 87.4,438.9 87.6,439.7 87.8,440.4 88.0,441.2 88.2,441.9 88.4,442.6 88.6,443.1 88.8,443.5 89.0,443.7 89.2,443.7 89.4,443.5 89.6,443.0 89.8,442.4 90.0,441.6 90.2,440.7 90.4,439.8 90.6,438.8 90.8,437.9 91.0,437.1 91.2,436.6 91.4,436.3 91.6,436.2 91.7,436.5 91.9,437.1 92.1,437.9 92.3,438.9 92.5,440.0 92.7,441.2 92.9,442.3 93.1,443.3 93.3,444.1 93.5,444.7 93.7,444.9 93.9,444.9 94.1,444.5 94.3,443.9 94.5,443.1 94.7,442.1 94.9,441.1 95.1,440.1 95.3,439.2 95.5,438.4 95.7,437.8 95.9,437.5 96.1,437.4 96.3,437.5 96.5,437.8 96.7,438.3 96.9,438.8 97.1,439.4 97.3,440.1 97.5,440.7 97.6,441.2 97.8,441.7 98.0,442.1 98.2,442.3 98.4,442.4 98.6,442.5 98.8,442.4 99.0,442.1 99.2,441.8 99.4,441.4 99.6,441.0 99.8,440.4 100.0,439.9 100.2,439.3 100.4,438.8 100.6,438.3 100.8,438.0 101.0,437.8 101.2,437.8 101.4,438.0 101.6,438.3 101.8,438.9 102.0,439.6 102.2,440.5 102.4,441.4 102.6,442.3 102.8,443.1 103.0,443.8 103.2,444.3 103.4,444.6 103.5,444.5 103.7,444.2 103.9,443.6 104.1,442.8 104.3,441.8 104.5,440.7 104.7,439.6 104.9,438.5 105.1,437.6 105.3,436.9 105.5,436.5 105.7,436.3 105.9,436.5 106.1,436.9 106.3,437.5 106.5,438.3 106.7,439.2 106.9,440.2 107.1,441.1 107.3,442.0 107.5,442.7 107.7,443.2 107.9,443.5 108.1,443.6 108.3,443.5 108.5,443.2 108.7,442.8 108.9,442.2 109.1,441.6 109.3,440.9 109.4,440.1 109.6,439.4 109.8,438.8 110.0,438.3 110.2,437.9 110.4,437.6 110.6,437.5 110.8,437.6 111.0,438.0 111.2,438.5 111.4,439.1 111.6,439.9 111.8,440.8 112.0,441.8 112.2,442.7 112.4,443.5 112.6,444.1 112.8,444.6 113.0,444.7 113.2,444.6 113.4,444.2 113.6,443.5 113.8,442.6 114.0,441.5 114.2,440.3 114.4,439.0 114.6,437.8 114.8,436.8 115.0,436.1 115.2,435.6 115.3,435.5 115.5,435.7 115.7,436.3 115.9,437.1 116.1,438.1 116.3,439.3 116.5,440.5 116.7,441.7 116.9,442.8 117.1,443.6 117.3,444.2 117.5,444.5 117.7,444.5 117.9,444.3 118.1,443.8 118.3,443.1 118.5,442.3 118.7,441.4 118.9,440.6 119.1,439.8 119.3,439.1 119.5,438.6 119.7,438.2 119.9,438.0 120.1,437.9 120.3,438.1 120.5,438.3 120.7,438.7 120.9,439.2 121.1,439.7 121.2,440.3 121.4,440.9 121.6,441.5 121.8,442.1 122.0,442.5 122.2,442.8 122.4,443.0 122.6,443.1 122.8,443.0 123.0,442.7 123.2,442.2 123.4,441.6 123.6,440.8 123.8,440.0 124.0,439.2 124.2,438.4 124.4,437.7 124.6,437.2 124.8,436.8 125.0,436.8 125.2,436.9 125.4,437.4 125.6,438.1 125.8,438.9 126.0,439.9 126.2,440.9 126.4,442.0 126.6,442.9 126.8,443.6 127.0,444.2 127.1,444.4 127.3,444.4 127.5,444.1 127.7,443.6 127.9,442.9 128.1,442.1 128.3,441.2 128.5,440.3 128.7,439.4 128.9,438.7 129.1,438.2 129.3,437.8 129.5,437.6 129.7,437.7 129.9,437.9 130.1,438.3 130.3,438.8 130.5,439.3 130.7,439.9 130.9,440.6 131.1,441.2 131.3,441.7 131.5,442.1 131.7,442.5 131.9,442.7 132.1,442.8 132.3,442.8 132.5,442.6 132.7,442.3 132.9,441.8 133.0,441.2 133.2,440.5 133.4,439.8 133.6,439.1 133.8,438.4 134.0,437.7 134.2,437.3 134.4,437.0 134.6,436.9 134.8,437.1 135.0,437.6 135.2,438.3 135.4,439.2 135.6,440.3 135.8,441.4 136.0,442.6 136.2,443.6 136.4,444.5 136.6,445.2 136.8,445.5 137.0,445.5 137.2,445.1 137.4,444.4 137.6,443.5 137.8,442.3 138.0,441.0 138.2,439.6 138.4,438.4 138.6,437.3 138.8,436.5 138.9,435.9 139.1,435.7 139.3,435.8 139.5,436.2 139.7,436.9 139.9,437.8 140.1,438.9 140.3,439.9 140.5,441.0 140.7,442.0 140.9,442.8 141.1,443.4 141.3,443.8 141.5,444.0 141.7,443.9 141.9,443.6 142.1,443.2 142.3,442.5 142.5,441.8 142.7,441.0 142.9,440.2 143.1,439.5 143.3,438.8 143.5,438.2 143.7,437.7 143.9,437.4 144.1,437.3 144.3,437.4 144.5,437.7 144.7,438.2 144.8,438.9 145.0,439.7 145.2,440.7 145.4,441.6 145.6,442.6 145.8,443.4 146.0,444.1 146.2,444.6 146.4,444.8 146.6,444.7 146.8,444.3 147.0,443.7 147.2,442.8 147.4,441.7 147.6,440.5 147.8,439.3 148.0,438.1 148.2,437.1 148.4,436.4 148.6,435.9 148.8,435.8 149.0,435.9 149.2,436.4 149.4,437.2 149.6,438.2 149.8,439.2 150.0,440.4 150.2,441.4 150.4,442.4 150.6,443.1 150.7,443.7 150.9,444.0 151.1,444.0 151.3,443.8 151.5,443.4 151.7,442.8 151.9,442.1 152.1,441.4 152.3,440.7 152.5,440.0 152.7,439.4 152.9,439.0 153.1,438.6 153.3,438.4 153.5,438.3 153.7,438.4 153.9,438.6 154.1,438.8 154.3,439.2 154.5,439.7 154.7,440.2 154.9,440.8 155.1,441.4 155.3,442.0 155.5,442.5 155.7,442.9 155.9,443.2 156.1,443.4 156.3,443.3 156.5,443.0 156.6,442.6 156.8,441.9 157.0,441.1 157.2,440.1 157.4,439.1 157.6,438.2 157.8,437.3 158.0,436.6 158.2,436.1 158.4,436.0 158.6,436.1 158.8,436.6 159.0,437.4 159.2,438.4 159.4,439.5 159.6,440.8 159.8,442.1 160.0,443.2 160.2,444.2 160.4,444.9 160.6,445.3 160.8,445.4 161.0,445.1 161.2,444.5 161.4,443.7 161.6,442.7 161.8,441.5 162.0,440.4 162.2,439.3 162.4,438.4 162.5,437.6 162.7,437.1 162.9,436.8 163.1,436.7 163.3,437.0 163.5,437.4 163.7,438.0 163.9,438.8 164.1,439.6 164.3,440.4 164.5,441.3 164.7,442.1 164.9,442.8 165.1,443.3 165.3,443.7 165.5,443.8 165.7,443.8 165.9,443.6 166.1,443.1 166.3,442.5 166.5,441.7 166.7,440.7 166.9,439.7 167.1,438.7 167.3,437.8 167.5,436.9 167.7,436.3 167.9,435.9 168.1,435.9 168.3,436.1 168.4,436.7 168.6,437.6 168.8,438.7 169.0,440.0 169.2,441.4 169.4,442.7 169.6,444.0 169.8,445.0 170.0,445.7 170.2,446.1 170.4,446.1 170.6,445.7 170.8,445.0 171.0,443.9 171.2,442.6 171.4,441.3 171.6,439.9 171.8,438.5 172.0,437.4 172.2,436.5 172.4,436.0 172.6,435.8 172.8,435.9 173.0,436.3 173.2,437.0 173.4,437.8 173.6,438.8 173.8,439.8 174.0,440.8 174.2,441.7 174.3,442.4 174.5,443.0 174.7,443.3 174.9,443.5 175.1,443.4 175.3,443.2 175.5,442.8 175.7,442.3 175.9,441.7 176.1,441.1 176.3,440.4 176.5,439.7 176.7,439.1 176.9,438.6 177.1,438.2 177.3,437.9 177.5,437.8 177.7,437.8 177.9,438.0 178.1,438.4 178.3,439.0 178.5,439.7 178.7,440.5 178.9,441.4 179.1,442.3 179.3,443.1 179.5,443.8 179.7,444.3 179.9,444.5 180.1,444.5 180.2,444.2 180.4,443.6 180.6,442.8 180.8,441.8 181.0,440.7 181.2,439.5 181.4,438.4 181.6,437.4 181.8,436.6 182.0,436.1 182.2,435.9 182.4,436.1 182.6,436.5 182.8,437.2 183.0,438.1 183.2,439.1 183.4,440.2 183.6,441.2 183.8,442.2 184.0,443.0 184.2,443.5 184.4,443.9 184.6,444.0 184.8,443.8 185.0,443.5 185.2,443.0 185.4,442.3 185.6,441.6 185.8,440.8 186.0,440.1 186.1,439.4 186.3,438.8 186.5,438.4 186.7,438.0 186.9,437.9 187.1,437.8 187.3,438.0 187.5,438.3 187.7,438.7 187.9,439.3 188.1,440.0 188.3,440.8 188.5,441.6 188.7,442.4 188.9,443.1 189.1,443.7 189.3,444.1 189.5,444.3 189.7,444.3 189.9,443.9 190.1,443.3 190.3,442.5 190.5,441.4 190.7,440.2 190.9,439.0 191.1,437.7 191.3,436.7 191.5,435.8 191.7,435.2 191.9,435.0 192.0,435.2 192.2,435.7 192.4,436.6 192.6,437.8 192.8,439.1 193.0,440.6 193.2,442.1 193.4,443.4 193.6,444.6 193.8,445.4 194.0,445.9 194.2,446.1 194.4,445.8 194.6,445.2 194.8,444.3 195.0,443.2 195.2,441.9 195.4,440.6 195.6,439.3 195.8,438.2 196.0,437.2 196.2,436.5 196.4,436.1 196.6,436.0 196.8,436.2 197.0,436.6 197.2,437.3 197.4,438.2 197.6,439.2 197.8,440.2 197.9,441.3 198.1,442.3 198.3,443.2 198.5,443.9 198.7,444.5 198.9,444.8 199.1,444.8 199.3,444.6 199.5,444.0 199.7,443.2 199.9,442.2 200.1,441.0 200.3,439.7 200.5,438.3 200.7,437.0 200.9,435.9 201.1,435.0 201.3,434.4 201.5,434.2 201.7,434.5 201.9,435.2 202.1,436.3 202.3,437.8 202.5,439.5 202.7,441.3 202.9,443.2 203.1,444.8 203.3,446.2 203.5,447.3 203.7,447.8 203.8,447.8 204.0,447.3 204.2,446.4 204.4,445.1 204.6,443.5 204.8,441.7 205.0,440.0 205.2,438.4 205.4,437.0 205.6,436.0 205.8,435.3 206.0,435.1 206.2,435.2 206.4,435.7 206.6,436.4 206.8,437.4 207.0,438.5 207.2,439.6 207.4,440.6 207.6,441.6 207.8,442.4 208.0,443.0 208.2,443.4 208.4,443.5 208.6,443.5 208.8,443.3 209.0,443.0 209.2,442.5 209.4,441.9 209.6,441.2 209.7,440.5 209.9,439.8 210.1,439.1 210.3,438.4 210.5,437.9 210.7,437.5 210.9,437.2 211.1,437.2 211.3,437.4 211.5,437.8 211.7,438.5 211.9,439.3 212.1,440.3 212.3,441.4 212.5,442.5 212.7,443.6 212.9,444.5 213.1,445.1 213.3,445.5 213.5,445.6 213.7,445.3 213.9,444.6 214.1,443.6 214.3,442.4 214.5,441.0 214.7,439.5 214.9,438.0 215.1,436.6 215.3,435.5 215.5,434.7 215.6,434.2 215.8,434.2 216.0,434.6 216.2,435.5 216.4,436.6 216.6,438.1 216.8,439.7 217.0,441.4 217.2,443.0 217.4,444.4 217.6,445.6 217.8,446.4 218.0,446.8 218.2,446.8 218.4,446.4 218.6,445.6 218.8,444.5 219.0,443.1 219.2,441.5 219.4,439.9 219.6,438.3 219.8,436.8 220.0,435.5 220.2,434.5 220.4,433.9 220.6,433.6 220.8,433.8 221.0,434.4 221.2,435.5 221.4,437.0 221.5,438.8 221.7,440.9 221.9,443.2 222.1,445.5 222.3,447.6 222.5,449.4 222.7,450.7 222.9,451.4 223.1,451.4 223.3,450.6 223.5,449.0 223.7,446.6 223.9,443.7 224.1,440.3 224.3,436.8 224.5,433.3 224.7,430.2 224.9,427.7 225.1,426.0 225.3,425.3 225.5,425.7 225.7,427.1 225.9,429.5 226.1,432.6 226.3,436.2 226.5,440.1 226.7,443.9 226.9,447.3 227.1,450.1 227.3,452.2 227.4,453.3 227.6,453.5 227.8,452.7 228.0,451.2 228.2,449.1 228.4,446.6 228.6,443.8 228.8,441.2 229.0,438.7 229.2,436.6 229.4,435.0 229.6,434.0 229.8,433.5 230.0,433.5 230.2,433.9 230.4,434.8 230.6,435.9 230.8,437.2 231.0,438.5 231.2,439.9 231.4,441.3 231.6,442.5 231.8,443.5 232.0,444.3 232.2,444.8 232.4,445.1 232.6,445.1 232.8,444.8 233.0,444.3 233.2,443.4 233.3,442.4 233.5,441.2 233.7,440.0 233.9,438.7 234.1,437.5 234.3,436.5 234.5,435.7 234.7,435.2 234.9,435.1 235.1,435.3 235.3,435.9 235.5,436.9 235.7,438.1 235.9,439.4 236.1,440.9 236.3,442.3 236.5,443.7 236.7,444.8 236.9,445.6 237.1,446.1 237.3,446.2 237.5,445.9 237.7,445.2 237.9,444.3 238.1,443.1 238.3,441.7 238.5,440.3 238.7,439.0 238.9,437.9 239.1,437.0 239.2,436.4 239.4,436.1 239.6,436.1 239.8,436.4 240.0,436.9 240.2,437.7 240.4,438.6 240.6,439.5 240.8,440.5 241.0,441.4 241.2,442.2 241.4,442.8 241.6,443.3 241.8,443.6 242.0,443.7 242.2,443.6 242.4,443.3 242.6,442.9 242.8,442.2 243.0,441.5 243.2,440.7 243.4,439.8 243.6,438.9 243.8,438.1 244.0,437.3 244.2,436.8 244.4,436.4 244.6,436.4 244.8,436.6 245.0,437.0 245.1,437.8 245.3,438.8 245.5,440.0 245.7,441.4 245.9,442.7 246.1,444.0 246.3,445.0 246.5,445.8 246.7,446.3 246.9,446.4 247.1,446.0 247.3,445.3 247.5,444.2 247.7,442.8 247.9,441.3 248.1,439.7 248.3,438.2 248.5,436.8 248.7,435.7 248.9,435.0 249.1,434.6 249.3,434.7 249.5,435.1 249.7,435.9 249.9,437.0 250.1,438.3 250.3,439.6 250.5,440.9 250.7,442.2 250.9,443.2 251.0,444.0 251.2,444.5 251.4,444.7 251.6,444.6 251.8,444.3 252.0,443.7 252.2,443.0 252.4,442.1 252.6,441.2 252.8,440.3 253.0,439.5 253.2,438.7 253.4,438.1 253.6,437.7 253.8,437.4 254.0,437.3 254.2,437.4 254.4,437.7 254.6,438.2 254.8,438.9 255.0,439.7 255.2,440.5 255.4,441.4 255.6,442.3 255.8,443.1 256.0,443.8 256.2,444.3 256.4,444.5 256.6,444.5 256.8,444.2 256.9,443.6 257.1,442.8 257.3,441.8 257.5,440.7 257.7,439.5 257.9,438.3 258.1,437.3 258.3,436.4 258.5,435.9 258.7,435.7 258.9,435.8 259.1,436.2 259.3,436.9 259.5,437.9 259.7,439.0 259.9,440.2 260.1,441.3 260.3,442.4 260.5,443.3 260.7,444.0 260.9,444.3 261.1,444.4 261.3,444.3 261.5,443.9 261.7,443.2 261.9,442.5 262.1,441.7 262.3,440.9 262.5,440.1 262.7,439.4 262.8,438.8 263.0,438.4 263.2,438.2 263.4,438.1 263.6,438.2 263.8,438.4 264.0,438.7 264.2,439.1 264.4,439.6 264.6,440.2 264.8,440.7 265.0,441.3 265.2,441.8 265.4,442.3 265.6,442.7 265.8,443.0 266.0,443.1 266.2,443.1 266.4,442.9 266.6,442.5 266.8,441.9 267.0,441.1 267.2,440.3 267.4,439.4 267.6,438.4 267.8,437.6 268.0,436.9 268.2,436.4 268.4,436.2 268.6,436.3 268.7,436.6 268.9,437.3 269.1,438.2 269.3,439.4 269.5,440.6 269.7,441.9 269.9,443.1 270.1,444.2 270.3,445.0 270.5,445.4 270.7,445.6 270.9,445.4 271.1,444.9 271.3,444.0 271.5,443.0 271.7,441.8 271.9,440.6 272.1,439.4 272.3,438.3 272.5,437.4 272.7,436.8 272.9,436.4 273.1,436.4 273.3,436.6 273.5,437.0 273.7,437.7 273.9,438.5 274.1,439.4 274.3,440.3 274.5,441.2 274.6,442.0 274.8,442.7 275.0,443.2 275.2,443.6 275.4,443.7 275.6,443.7 275.8,443.4 276.0,443.0 276.2,442.4 276.4,441.7 276.6,440.8 276.8,439.9 277.0,439.1 277.2,438.2 277.4,437.5 277.6,436.9 277.8,436.6 278.0,436.5 278.2,436.7 278.4,437.1 278.6,437.8 278.8,438.8 279.0,439.9 279.2,441.1 279.4,442.3 279.6,443.4 279.8,444.4 280.0,445.1 280.2,445.5 280.4,445.6 280.5,445.3 280.7,444.7 280.9,443.8 281.1,442.7 281.3,441.4 281.5,440.1 281.7,438.8 281.9,437.7 282.1,436.8 282.3,436.2 282.5,435.9 282.7,435.9 282.9,436.3 283.1,436.9 283.3,437.7 283.5,438.7 283.7,439.7 283.9,440.7 284.1,441.6 284.3,442.3 284.5,442.9 284.7,443.3 284.9,443.4 285.1,443.4 285.3,443.1 285.5,442.8 285.7,442.3 285.9,441.7 286.1,441.1 286.3,440.5 286.4,439.9 286.6,439.4 286.8,438.9 287.0,438.6 287.2,438.4 287.4,438.3 287.6,438.3 287.8,438.4 288.0,438.8 288.2,439.2 288.4,439.8 288.6,440.4 288.8,441.1 289.0,441.8 289.2,442.5 289.4,443.1 289.6,443.6 289.8,443.8 290.0,443.9 290.2,443.7 290.4,443.3 290.6,442.6 290.8,441.8 291.0,440.8 291.2,439.8 291.4,438.7 291.6,437.8 291.8,437.0 292.0,436.5 292.2,436.2 292.3,436.2 292.5,436.5 292.7,437.1 292.9,438.0 293.1,438.9 293.3,440.0 293.5,441.1 293.7,442.1 293.9,442.9 294.1,443.6 294.3,444.0 294.5,444.2 294.7,444.1 294.9,443.8 295.1,443.2 295.3,442.6 295.5,441.8 295.7,441.0 295.9,440.2 296.1,439.5 296.3,438.8 296.5,438.3 296.7,438.0 296.9,437.8 297.1,437.8 297.3,438.0 297.5,438.3 297.7,438.7 297.9,439.3 298.1,440.0 298.2,440.7 298.4,441.4 298.6,442.1 298.8,442.7 299.0,443.2 299.2,443.6 299.4,443.8 299.6,443.8 299.8,443.5 300.0,443.0 300.2,442.3 300.4,441.4 300.6,440.4 300.8,439.3 301.0,438.3 301.2,437.3 301.4,436.5 301.6,435.9 301.8,435.6 302.0,435.7 302.2,436.1 302.4,436.8 302.6,437.8 302.8,439.1 303.0,440.4 303.2,441.7 303.4,443.0 303.6,444.1 303.8,445.0 304.0,445.5 304.1,445.7 304.3,445.5 304.5,445.0 304.7,444.2 304.9,443.1 305.1,442.0 305.3,440.8 305.5,439.6 305.7,438.6 305.9,437.7 306.1,437.1 306.3,436.8 306.5,436.7 306.7,436.9 306.9,437.3 307.1,437.9 307.3,438.6 307.5,439.4 307.7,440.2 307.9,441.0 308.1,441.7 308.3,442.3 308.5,442.8 308.7,443.1 308.9,443.2 309.1,443.2 309.3,443.0 309.5,442.7 309.7,442.2 309.9,441.6 310.0,440.9 310.2,440.2 310.4,439.4 310.6,438.7 310.8,438.1 311.0,437.6 311.2,437.3 311.4,437.1 311.6,437.2 311.8,437.6 312.0,438.1 312.2,438.9 312.4,439.8 312.6,440.8 312.8,441.8 313.0,442.8 313.2,443.6 313.4,444.2 313.6,444.6 313.8,444.7 314.0,444.6 314.2,444.1 314.4,443.4 314.6,442.5 314.8,441.4 315.0,440.3 315.2,439.3 315.4,438.4 315.6,437.6 315.8,437.1 315.9,436.9 316.1,436.9 316.3,437.1 316.5,437.6 316.7,438.2 316.9,438.9 317.1,439.7 317.3,440.5 317.5,441.2 317.7,441.8 317.9,442.3 318.1,442.6 318.3,442.8 318.5,442.8 318.7,442.7 318.9,442.4 319.1,442.0 319.3,441.6 319.5,441.1 319.7,440.6 319.9,440.1 320.1,439.6 320.3,439.1 320.5,438.7 320.7,438.4 320.9,438.2 321.1,438.2 321.3,438.3 321.5,438.6 321.7,439.0 321.8,439.6 322.0,440.3 322.2,441.0 322.4,441.8 322.6,442.6 322.8,443.3 323.0,443.9 323.2,444.2 323.4,444.3 323.6,444.2 323.8,443.7 324.0,443.0 324.2,442.1 324.4,441.1 324.6,439.9 324.8,438.7 325.0,437.7 325.2,436.8 325.4,436.1 325.6,435.8 325.8,435.8 326.0,436.1 326.2,436.7 326.4,437.5 326.6,438.6 326.8,439.7 327.0,440.9 327.2,442.0 327.4,443.0 327.6,443.8 327.7,444.3 327.9,444.5 328.1,444.5 328.3,444.2 328.5,443.6 328.7,442.9 328.9,442.1 329.1,441.2 329.3,440.3 329.5,439.5 329.7,438.8 329.9,438.2 330.1,437.8 330.3,437.5 330.5,437.5 330.7,437.6 330.9,438.0 331.1,438.4 331.3,439.1 331.5,439.8 331.7,440.5 331.9,441.3 332.1,442.1 332.3,442.8 332.5,443.4 332.7,443.8 332.9,444.0 333.1,443.9 333.3,443.7 333.5,443.2 333.6,442.5 333.8,441.6 334.0,440.6 334.2,439.5 334.4,438.5 334.6,437.6 334.8,436.8 335.0,436.2 335.2,436.0 335.4,436.0 335.6,436.4 335.8,437.0 336.0,437.9 336.2,439.0 336.4,440.2 336.6,441.4 336.8,442.5 337.0,443.5 337.2,444.2 337.4,444.6 337.6,444.8 337.8,444.7 338.0,444.2 338.2,443.6 338.4,442.8 338.6,441.8 338.8,440.9 339.0,440.0 339.2,439.2 339.4,438.5 339.5,438.0 339.7,437.8 339.9,437.7 340.1,437.9 340.3,438.1 340.5,438.6 340.7,439.1 340.9,439.6 341.1,440.2 341.3,440.7 341.5,441.2 341.7,441.7 341.9,442.0 342.1,442.3 342.3,442.4 342.5,442.5 342.7,442.4 342.9,442.2 343.1,441.9 343.3,441.4 343.5,440.9 343.7,440.3 343.9,439.7 344.1,439.1 344.3,438.6 344.5,438.1 344.7,437.7 344.9,437.6 345.1,437.6 345.3,437.8 345.4,438.3 345.6,438.9 345.8,439.7 346.0,440.6 346.2,441.5 346.4,442.5 346.6,443.3 346.8,443.9 347.0,444.3 347.2,444.5 347.4,444.3 347.6,444.0 347.8,443.3 348.0,442.5 348.2,441.6 348.4,440.5 348.6,439.5 348.8,438.6 349.0,437.9 349.2,437.3 349.4,437.0 349.6,436.9 349.8,437.1 350.0,437.5 350.2,438.1 350.4,438.8 350.6,439.6 350.8,440.4 351.0,441.1 351.2,441.8 351.3,442.4 351.5,442.8 351.7,443.0 351.9,443.1 352.1,443.0 352.3,442.8 352.5,442.4 352.7,441.9 352.9,441.4 353.1,440.7 353.3,440.1 353.5,439.4 353.7,438.8 353.9,438.3 354.1,437.9 354.3,437.6 354.5,437.6 354.7,437.7 354.9,438.0 355.1,438.5 355.3,439.2 355.5,440.0 355.7,441.0 355.9,441.9 356.1,442.8 356.3,443.6 356.5,444.3 356.7,444.7 356.9,444.8 357.1,444.6 357.2,444.2 357.4,443.4 357.6,442.4 357.8,441.3 358.0,440.1 358.2,438.9 358.4,437.8 358.6,436.9 358.8,436.2 359.0,435.8 359.2,435.8 359.4,436.1 359.6,436.7 359.8,437.5 360.0,438.5 360.2,439.6 360.4,440.7 360.6,441.7 360.8,442.7 361.0,443.4 361.2,443.8 361.4,444.0 361.6,444.0 361.8,443.8 362.0,443.3 362.2,442.7 362.4,442.0 362.6,441.2 362.8,440.5 363.0,439.8 363.1,439.2 363.3,438.7 363.5,438.3 363.7,438.1 363.9,438.1 364.1,438.2 364.3,438.4 364.5,438.8 364.7,439.3 364.9,439.8 365.1,440.4 365.3,441.1 365.5,441.7 365.7,442.2 365.9,442.7 366.1,443.1 366.3,443.3 366.5,443.3 366.7,443.1 366.9,442.8 367.1,442.2 367.3,441.5 367.5,440.7 367.7,439.9 367.9,439.0 368.1,438.2 368.3,437.6 368.5,437.1 368.7,436.8 368.9,436.8 369.0,437.1 369.2,437.6 369.4,438.3 369.6,439.1 369.8,440.1 370.0,441.0 370.2,442.0 370.4,442.7 370.6,443.4 370.8,443.7 371.0,443.9 371.2,443.8 371.4,443.5 371.6,443.0 371.8,442.4 372.0,441.7 372.2,440.9 372.4,440.2 372.6,439.6 372.8,439.0 373.0,438.6 373.2,438.4 373.4,438.3 373.6,438.3 373.8,438.5 374.0,438.8 374.2,439.2 374.4,439.7 374.6,440.1 374.8,440.6 374.9,441.1 375.1,441.5 375.3,441.9 375.5,442.2 375.7,442.4 375.9,442.5 376.1,442.5 376.3,442.3 376.5,442.0 376.7,441.6 376.9,441.1 377.1,440.4 377.3,439.7 377.5,439.0 377.7,438.4 377.9,437.8 378.1,437.4 378.3,437.2 378.5,437.2 378.7,437.4 378.9,437.9 379.1,438.6 379.3,439.5 379.5,440.4 379.7,441.5 379.9,442.5 380.1,443.4 380.3,444.1 380.5,444.6 380.7,444.8 380.8,444.7 381.0,444.3 381.2,443.7 381.4,442.8 381.6,441.8 381.8,440.7 382.0,439.7 382.2,438.7 382.4,437.8 382.6,437.2 382.8,436.8 383.0,436.7 383.2,436.9 383.4,437.3 383.6,437.8 383.8,438.6 384.0,439.4 384.2,440.2 384.4,441.0 384.6,441.7 384.8,442.4 385.0,442.8 385.2,443.1 385.4,443.2 385.6,443.2 385.8,443.0 386.0,442.6 386.2,442.1 386.4,441.5 386.6,440.9 386.7,440.2 386.9,439.5 387.1,438.9 387.3,438.3 387.5,437.9 387.7,437.7 387.9,437.6 388.1,437.7 388.3,438.0 388.5,438.5 388.7,439.1 388.9,439.9 389.1,440.8 389.3,441.7 389.5,442.5 389.7,443.3 389.9,443.9 390.1,444.3 390.3,444.4 390.5,444.2 390.7,443.8 390.9,443.2 391.1,442.3 391.3,441.4 391.5,440.3 391.7,439.3 391.9,438.4 392.1,437.6 392.3,437.0 392.5,436.7 392.6,436.7 392.8,436.9 393.0,437.4 393.2,438.0 393.4,438.8 393.6,439.7 393.8,440.5 394.0,441.3 394.2,442.0 394.4,442.5 394.6,442.9 394.8,443.0 395.0,443.0 395.2,442.8 395.4,442.5 395.6,442.1 395.8,441.6 396.0,441.1 396.2,440.6 396.4,440.1 396.6,439.7 396.8,439.3 397.0,439.0 397.2,438.9 397.4,438.8 397.6,438.8 397.8,439.0 398.0,439.2 398.2,439.5 398.4,439.9 398.5,440.4 398.7,440.9 398.9,441.4 399.1,441.9 399.3,442.3 399.5,442.6 399.7,442.9 399.9,443.0 400.1,442.9 400.3,442.6 400.5,442.2 400.7,441.6 400.9,440.9 401.1,440.1 401.3,439.3" fill="none" stroke="#3a8a50" stroke-width="0.85" stroke-opacity="0.9" stroke-linejoin="round"/>
<polyline points="47.5,440.2 47.9,439.9 48.3,439.7 48.7,439.5 49.1,439.3 49.5,439.2 49.9,439.1 50.3,439.1 50.6,439.1 51.0,439.2 51.4,439.2 51.8,439.4 52.2,439.5 52.6,439.6 53.0,439.8 53.4,439.9 53.8,440.0 54.2,440.1 54.6,440.2 55.0,440.2 55.4,440.2 55.8,440.1 56.2,440.0 56.6,439.8 56.9,439.6 57.3,439.3 57.7,439.0 58.1,438.7 58.5,438.4 58.9,438.1 59.3,437.7 59.7,437.4 60.1,437.1 60.5,436.9 60.9,436.7 61.3,436.6 61.7,436.5 62.1,436.5 62.5,436.6 62.8,436.8 63.2,437.0 63.6,437.2 64.0,437.6 64.4,438.0 64.8,438.4 65.2,438.8 65.6,439.2 66.0,439.7 66.4,440.1 66.8,440.5 67.2,440.9 67.6,441.2 68.0,441.5 68.4,441.7 68.8,441.8 69.1,441.9 69.5,441.9 69.9,441.9 70.3,441.8 70.7,441.6 71.1,441.4 71.5,441.2 71.9,440.9 72.3,440.6 72.7,440.4 73.1,440.1 73.5,439.9 73.9,439.7 74.3,439.5 74.7,439.4 75.0,439.3 75.4,439.2 75.8,439.2 76.2,439.2 76.6,439.3 77.0,439.4 77.4,439.5 77.8,439.7 78.2,439.8 78.6,439.9 79.0,440.0 79.4,440.1 79.8,440.2 80.2,440.2 80.6,440.2 81.0,440.1 81.3,439.9 81.7,439.8 82.1,439.5 82.5,439.3 82.9,439.0 83.3,438.7 83.7,438.3 84.1,438.0 84.5,437.7 84.9,437.3 85.3,437.1 85.7,436.8 86.1,436.6 86.5,436.5 86.9,436.4 87.2,436.4 87.6,436.5 88.0,436.6 88.4,436.8 88.8,437.1 89.2,437.4 89.6,437.8 90.0,438.2 90.4,438.7 90.8,439.1 91.2,439.6 91.6,440.0 92.0,440.4 92.4,440.8 92.8,441.2 93.2,441.5 93.5,441.7 93.9,441.9 94.3,442.0 94.7,442.0 95.1,442.0 95.5,441.9 95.9,441.8 96.3,441.6 96.7,441.4 97.1,441.1 97.5,440.8 97.9,440.6 98.3,440.3 98.7,440.1 99.1,439.9 99.4,439.7 99.8,439.5 100.2,439.4 100.6,439.3 101.0,439.3 101.4,439.3 101.8,439.4 102.2,439.5 102.6,439.6 103.0,439.7 103.4,439.8 103.8,439.9 104.2,440.0 104.6,440.1 105.0,440.1 105.4,440.2 105.7,440.1 106.1,440.0 106.5,439.9 106.9,439.7 107.3,439.5 107.7,439.2 108.1,438.9 108.5,438.6 108.9,438.3 109.3,437.9 109.7,437.6 110.1,437.3 110.5,437.0 110.9,436.7 111.3,436.5 111.6,436.4 112.0,436.3 112.4,436.3 112.8,436.3 113.2,436.4 113.6,436.7 114.0,436.9 114.4,437.2 114.8,437.6 115.2,438.0 115.6,438.5 116.0,439.0 116.4,439.4 116.8,439.9 117.2,440.3 117.6,440.8 117.9,441.1 118.3,441.4 118.7,441.7 119.1,441.9 119.5,442.0 119.9,442.1 120.3,442.1 120.7,442.0 121.1,441.9 121.5,441.7 121.9,441.5 122.3,441.3 122.7,441.0 123.1,440.8 123.5,440.5 123.8,440.3 124.2,440.0 124.6,439.8 125.0,439.7 125.4,439.6 125.8,439.5 126.2,439.4 126.6,439.4 127.0,439.5 127.4,439.5 127.8,439.6 128.2,439.7 128.6,439.8 129.0,439.9 129.4,440.0 129.8,440.1 130.1,440.1 130.5,440.1 130.9,440.1 131.3,440.0 131.7,439.9 132.1,439.7 132.5,439.5 132.9,439.2 133.3,438.9 133.7,438.6 134.1,438.2 134.5,437.9 134.9,437.5 135.3,437.2 135.7,436.9 136.0,436.6 136.4,436.3 136.8,436.1 137.2,436.0 137.6,435.9 138.0,436.0 138.4,436.1 138.8,436.2 139.2,436.5 139.6,436.8 140.0,437.2 140.4,437.7 140.8,438.1 141.2,438.7 141.6,439.2 142.0,439.7 142.3,440.3 142.7,440.8 143.1,441.3 143.5,441.7 143.9,442.1 144.3,442.4 144.7,442.7 145.1,442.9 145.5,443.0 145.9,443.1 146.3,443.1 146.7,443.0 147.1,442.9 147.5,442.8 147.9,442.6 148.2,442.4 148.6,442.2 149.0,442.0 149.4,441.7 149.8,441.5 150.2,441.3 150.6,441.2 151.0,441.0 151.4,440.9 151.8,440.8 152.2,440.7 152.6,440.6 153.0,440.5 153.4,440.5 153.8,440.5 154.2,440.1 154.5,439.7 154.9,439.3 155.3,438.9 155.7,438.4 156.1,438.0 156.5,437.6 156.9,437.2 157.3,436.8 157.7,436.4 158.1,436.0 158.5,435.7 158.9,435.4 159.3,435.1 159.7,434.9 160.1,434.7 160.4,434.5 160.8,434.4 161.2,434.1 161.6,434.0 162.0,433.9 162.4,433.9 162.8,433.9 163.2,434.0 163.6,434.1 164.0,434.4 164.4,434.7 164.8,435.1 165.2,435.5 165.6,436.0 166.0,436.6 166.4,437.3 166.7,438.0 167.1,438.7 167.5,439.5 167.9,440.3 168.3,441.2 168.7,442.1 169.1,443.0 169.5,443.8 169.9,444.7 170.3,445.6 170.7,446.4 171.1,447.2 171.5,447.9 171.9,448.6 172.3,449.2 172.6,449.7 173.0,450.2 173.4,450.5 173.8,450.7 174.2,450.9 174.6,451.0 175.0,451.0 175.4,450.9 175.8,450.6 176.2,450.2 176.6,449.7 177.0,449.0 177.4,448.2 177.8,447.3 178.2,446.3 178.6,445.1 178.9,443.8 179.3,442.4 179.7,441.0 180.1,439.4 180.5,437.8 180.9,436.2 181.3,434.5 181.7,432.8 182.1,431.2 182.5,429.5 182.9,427.9 183.3,426.4 183.7,424.9 184.1,423.6 184.5,422.3 184.8,421.2 185.2,420.3 185.6,419.5 186.0,418.9 186.4,418.5 186.8,418.3 187.2,418.4 187.6,418.6 188.0,419.1 188.4,419.8 188.8,420.7 189.2,421.8 189.6,423.1 190.0,424.5 190.4,426.2 190.8,428.0 191.1,430.0 191.5,432.1 191.9,434.3 192.3,436.6 192.7,439.0 193.1,441.5 193.5,443.9 193.9,446.4 194.3,448.9 194.7,451.3 195.1,453.6 195.5,455.8 195.9,457.9 196.3,459.9 196.7,461.7 197.0,463.3 197.4,464.7 197.8,465.9 198.2,466.9 198.6,467.6 199.0,468.0 199.4,468.2 199.8,468.1 200.2,467.8 200.6,467.2 201.0,466.3 201.4,465.1 201.8,463.6 202.2,461.9 202.6,459.9 203.0,457.7 203.3,455.2 203.7,452.6 204.1,449.7 204.5,446.7 204.9,443.6 205.3,440.4 205.7,437.1 206.1,433.7 206.5,430.4 206.9,427.0 207.3,423.8 207.7,420.6 208.1,417.6 208.5,414.7 208.9,412.0 209.2,409.5 209.6,407.3 210.0,405.3 210.4,403.7 210.8,402.4 211.2,401.4 211.6,400.8 212.0,400.5 212.4,400.8 212.8,401.6 213.2,402.7 213.6,404.1 214.0,405.9 214.4,408.0 214.8,410.5 215.2,413.2 215.5,416.1 215.9,419.3 216.3,422.7 216.7,426.3 217.1,430.0 217.5,433.8 217.9,437.7 218.3,441.6 218.7,445.5 219.1,449.4 219.5,453.1 219.9,456.8 220.3,460.3 220.7,463.6 221.1,466.7 221.4,469.5 221.8,472.1 222.2,474.3 222.6,476.2 223.0,477.8 223.4,479.0 223.8,479.9 224.2,480.3 224.6,480.3 225.0,479.9 225.4,479.0 225.8,477.8 226.2,476.2 226.6,474.3 227.0,472.1 227.4,469.5 227.7,466.7 228.1,463.6 228.5,460.3 228.9,456.8 229.3,453.1 229.7,449.4 230.1,445.5 230.5,441.6 230.9,437.7 231.3,433.8 231.7,430.0 232.1,426.3 232.5,422.7 232.9,419.3 233.3,416.1 233.6,413.2 234.0,410.5 234.4,408.0 234.8,405.9 235.2,404.1 235.6,402.7 236.0,401.6 236.4,400.8 236.8,400.5 237.2,400.8 237.6,401.4 238.0,402.4 238.4,403.7 238.8,405.3 239.2,407.3 239.6,409.5 239.9,412.0 240.3,414.7 240.7,417.6 241.1,420.6 241.5,423.8 241.9,427.0 242.3,430.4 242.7,433.7 243.1,437.1 243.5,440.4 243.9,443.6 244.3,446.7 244.7,449.7 245.1,452.6 245.5,455.2 245.8,457.7 246.2,459.9 246.6,461.9 247.0,463.6 247.4,465.1 247.8,466.3 248.2,467.2 248.6,467.8 249.0,468.1 249.4,468.2 249.8,468.0 250.2,467.6 250.6,466.9 251.0,465.9 251.4,464.7 251.8,463.3 252.1,461.7 252.5,459.9 252.9,457.9 253.3,455.8 253.7,453.6 254.1,451.3 254.5,448.9 254.9,446.4 255.3,443.9 255.7,441.5 256.1,439.0 256.5,436.6 256.9,434.3 257.3,432.1 257.7,430.0 258.0,428.0 258.4,426.2 258.8,424.5 259.2,423.1 259.6,421.8 260.0,420.7 260.4,419.8 260.8,419.1 261.2,418.6 261.6,418.4 262.0,418.3 262.4,418.5 262.8,418.9 263.2,419.5 263.6,420.3 264.0,421.2 264.3,422.3 264.7,423.6 265.1,424.9 265.5,426.4 265.9,427.9 266.3,429.5 266.7,431.2 267.1,432.8 267.5,434.5 267.9,436.2 268.3,437.8 268.7,439.4 269.1,441.0 269.5,442.4 269.9,443.8 270.2,445.1 270.6,446.3 271.0,447.3 271.4,448.2 271.8,449.0 272.2,449.7 272.6,450.2 273.0,450.6 273.4,450.9 273.8,451.0 274.2,451.0 274.6,450.9 275.0,450.7 275.4,450.5 275.8,450.2 276.2,449.7 276.5,449.2 276.9,448.6 277.3,447.9 277.7,447.2 278.1,446.4 278.5,445.6 278.9,444.7 279.3,443.8 279.7,443.0 280.1,442.1 280.5,441.2 280.9,440.3 281.3,439.5 281.7,438.7 282.1,438.0 282.4,437.3 282.8,436.6 283.2,436.0 283.6,435.5 284.0,435.1 284.4,434.7 284.8,434.4 285.2,434.1 285.6,434.0 286.0,433.9 286.4,433.9 286.8,433.9 287.2,434.0 287.6,434.1 288.0,434.4 288.4,434.5 288.7,434.7 289.1,434.9 289.5,435.1 289.9,435.4 290.3,435.7 290.7,436.0 291.1,436.4 291.5,436.8 291.9,437.2 292.3,437.6 292.7,438.0 293.1,438.4 293.5,438.9 293.9,439.3 294.3,439.7 294.6,440.1 295.0,440.5 295.4,442.3 295.8,442.7 296.2,443.0 296.6,443.3 297.0,443.4 297.4,443.5 297.8,443.5 298.2,443.4 298.6,443.3 299.0,443.1 299.4,442.8 299.8,442.5 300.2,442.3 300.6,442.0 300.9,441.7 301.3,441.4 301.7,441.1 302.1,440.9 302.5,440.7 302.9,440.5 303.3,440.4 303.7,440.3 304.1,440.2 304.5,440.2 304.9,440.2 305.3,440.2 305.7,440.2 306.1,440.2 306.5,440.2 306.8,440.2 307.2,440.1 307.6,440.0 308.0,439.9 308.4,439.8 308.8,439.6 309.2,439.4 309.6,439.1 310.0,438.8 310.4,438.5 310.8,438.2 311.2,437.9 311.6,437.6 312.0,437.3 312.4,437.0 312.8,436.7 313.1,436.5 313.5,436.3 313.9,436.2 314.3,436.1 314.7,436.1 315.1,436.2 315.5,436.4 315.9,436.6 316.3,436.9 316.7,437.2 317.1,437.6 317.5,438.0 317.9,438.5 318.3,439.0 318.7,439.5 319.0,439.9 319.4,440.4 319.8,440.8 320.2,441.1 320.6,441.5 321.0,441.7 321.4,441.9 321.8,442.0 322.2,442.1 322.6,442.0 323.0,442.0 323.4,441.8 323.8,441.7 324.2,441.5 324.6,441.2 325.0,441.0 325.3,440.7 325.7,440.4 326.1,440.2 326.5,440.0 326.9,439.8 327.3,439.7 327.7,439.6 328.1,439.5 328.5,439.5 328.9,439.5 329.3,439.5 329.7,439.6 330.1,439.7 330.5,439.8 330.9,439.9 331.2,440.0 331.6,440.1 332.0,440.2 332.4,440.2 332.8,440.2 333.2,440.2 333.6,440.1 334.0,440.0 334.4,439.8 334.8,439.5 335.2,439.3 335.6,439.0 336.0,438.6 336.4,438.3 336.8,437.9 337.2,437.6 337.5,437.2 337.9,437.0 338.3,436.7 338.7,436.5 339.1,436.3 339.5,436.2 339.9,436.2 340.3,436.3 340.7,436.4 341.1,436.6 341.5,436.9 341.9,437.2 342.3,437.6 342.7,438.0 343.1,438.5 343.4,438.9 343.8,439.4 344.2,439.8 344.6,440.3 345.0,440.7 345.4,441.0 345.8,441.3 346.2,441.6 346.6,441.8 347.0,441.9 347.4,442.0 347.8,441.9 348.2,441.9 348.6,441.7 349.0,441.6 349.4,441.4 349.7,441.1 350.1,440.9 350.5,440.6 350.9,440.4 351.3,440.1 351.7,439.9 352.1,439.7 352.5,439.6 352.9,439.5 353.3,439.4 353.7,439.4 354.1,439.4 354.5,439.4 354.9,439.5 355.3,439.6 355.6,439.8 356.0,439.9 356.4,440.0 356.8,440.1 357.2,440.2 357.6,440.3 358.0,440.3 358.4,440.3 358.8,440.2 359.2,440.1 359.6,439.9 360.0,439.7 360.4,439.4 360.8,439.1 361.2,438.8 361.6,438.5 361.9,438.1 362.3,437.8 362.7,437.5 363.1,437.2 363.5,436.9 363.9,436.7 364.3,436.5 364.7,436.4 365.1,436.4 365.5,436.4 365.9,436.5 366.3,436.7 366.7,436.9 367.1,437.2 367.5,437.6 367.8,438.0 368.2,438.4 368.6,438.8 369.0,439.3 369.4,439.7 369.8,440.2 370.2,440.6 370.6,440.9 371.0,441.2 371.4,441.5 371.8,441.7 372.2,441.8 372.6,441.8 373.0,441.8 373.4,441.8 373.8,441.6 374.1,441.5 374.5,441.3 374.9,441.0 375.3,440.8 375.7,440.5 376.1,440.3 376.5,440.0 376.9,439.8 377.3,439.6 377.7,439.5 378.1,439.4 378.5,439.3 378.9,439.3 379.3,439.3 379.7,439.3 380.0,439.4 380.4,439.5 380.8,439.7 381.2,439.8 381.6,440.0 382.0,440.1 382.4,440.2 382.8,440.3 383.2,440.3 383.6,440.3 384.0,440.3 384.4,440.2 384.8,440.0 385.2,439.8 385.6,439.6 386.0,439.3 386.3,439.0 386.7,438.7 387.1,438.3 387.5,438.0 387.9,437.7 388.3,437.4 388.7,437.1 389.1,436.8 389.5,436.7 389.9,436.5 390.3,436.5 390.7,436.5 391.1,436.6 391.5,436.7 391.9,437.0 392.2,437.2 392.6,437.6 393.0,437.9 393.4,438.4 393.8,438.8 394.2,439.2 394.6,439.7 395.0,440.1 395.4,440.5 395.8,440.8 396.2,441.1 396.6,441.4 397.0,441.6 397.4,441.7 397.8,441.7 398.2,441.7 398.5,441.7 398.9,441.6 399.3,441.4 399.7,441.2 400.1,441.0 400.5,440.7 400.9,440.4 401.3,440.2" fill="none" stroke="#eba036" stroke-width="1.25" stroke-linejoin="round"/>
<polyline points="47.5,436.2 47.9,436.0 48.3,435.9 48.7,435.8 49.1,435.7 49.5,435.7 49.9,435.8 50.3,435.9 50.6,436.0 51.0,436.2 51.4,436.4 51.8,436.6 52.2,436.8 52.6,437.0 53.0,437.2 53.4,437.3 53.8,437.4 54.2,437.5 54.6,437.4 55.0,437.4 55.4,437.3 55.8,437.1 56.2,436.9 56.5,436.6 56.9,436.4 57.3,436.1 57.7,435.8 58.1,435.6 58.5,435.4 58.9,435.2 59.3,435.1 59.7,435.0 60.1,435.0 60.5,435.0 60.9,435.2 61.3,435.3 61.7,435.5 62.1,435.8 62.4,436.1 62.8,436.4 63.2,436.7 63.6,437.0 64.0,437.2 64.4,437.5 64.8,437.6 65.2,437.8 65.6,437.9 66.0,437.9 66.4,437.9 66.8,437.8 67.2,437.7 67.6,437.5 68.0,437.3 68.3,437.1 68.7,436.9 69.1,436.7 69.5,436.5 69.9,436.4 70.3,436.3 70.7,436.2 71.1,436.2 71.5,436.3 71.9,436.3 72.3,436.5 72.7,436.7 73.1,436.9 73.5,437.1 73.9,437.3 74.2,437.5 74.6,437.8 75.0,437.9 75.4,438.1 75.8,438.2 76.2,438.3 76.6,438.3 77.0,438.2 77.4,438.1 77.8,437.9 78.2,437.7 78.6,437.5 79.0,437.2 79.4,436.9 79.8,436.6 80.1,436.3 80.5,436.1 80.9,435.9 81.3,435.7 81.7,435.6 82.1,435.5 82.5,435.5 82.9,435.5 83.3,435.6 83.7,435.7 84.1,435.9 84.5,436.1 84.9,436.3 85.3,436.6 85.7,436.8 86.0,437.0 86.4,437.2 86.8,437.3 87.2,437.4 87.6,437.5 88.0,437.5 88.4,437.5 88.8,437.4 89.2,437.3 89.6,437.1 90.0,436.9 90.4,436.7 90.8,436.5 91.2,436.3 91.6,436.2 91.9,436.1 92.3,436.0 92.7,435.9 93.1,435.9 93.5,436.0 93.9,436.1 94.3,436.3 94.7,436.5 95.1,436.7 95.5,436.9 95.9,437.2 96.3,437.5 96.7,437.8 97.1,438.0 97.5,438.2 97.8,438.4 98.2,438.5 98.6,438.5 99.0,438.5 99.4,438.5 99.8,438.4 100.2,438.2 100.6,438.0 101.0,437.8 101.4,437.6 101.8,437.3 102.2,437.1 102.6,436.8 103.0,436.6 103.4,436.4 103.7,436.3 104.1,436.2 104.5,436.2 104.9,436.2 105.3,436.2 105.7,436.3 106.1,436.5 106.5,436.6 106.9,436.8 107.3,437.0 107.7,437.2 108.1,437.4 108.5,437.5 108.9,437.6 109.3,437.7 109.6,437.7 110.0,437.7 110.4,437.6 110.8,437.4 111.2,437.3 111.6,437.1 112.0,436.8 112.4,436.6 112.8,436.4 113.2,436.1 113.6,435.9 114.0,435.7 114.4,435.6 114.8,435.5 115.2,435.5 115.5,435.5 115.9,435.6 116.3,435.7 116.7,435.9 117.1,436.1 117.5,436.3 117.9,436.6 118.3,436.9 118.7,437.2 119.1,437.4 119.5,437.7 119.9,437.9 120.3,438.0 120.7,438.1 121.1,438.2 121.4,438.2 121.8,438.1 122.2,438.0 122.6,437.9 123.0,437.7 123.4,437.5 123.8,437.3 124.2,437.1 124.6,436.9 125.0,436.7 125.4,436.6 125.8,436.5 126.2,436.4 126.6,436.4 127.0,436.5 127.3,436.6 127.7,436.7 128.1,436.9 128.5,437.1 128.9,437.3 129.3,437.5 129.7,437.7 130.1,437.9 130.5,438.0 130.9,438.1 131.3,438.2 131.7,438.2 132.1,438.2 132.5,438.1 132.9,437.9 133.2,437.8 133.6,437.5 134.0,437.3 134.4,437.0 134.8,436.7 135.2,436.4 135.6,436.1 136.0,435.9 136.4,435.7 136.8,435.5 137.2,435.4 137.6,435.3 138.0,435.3 138.4,435.4 138.8,435.5 139.1,435.7 139.5,435.9 139.9,436.1 140.3,436.3 140.7,436.5 141.1,436.8 141.5,437.0 141.9,437.2 142.3,437.3 142.7,437.4 143.1,437.4 143.5,437.4 143.9,437.4 144.3,437.3 144.7,437.1 145.0,436.9 145.4,436.7 145.8,436.5 146.2,436.3 146.6,436.1 147.0,436.0 147.4,435.8 147.8,435.7 148.2,435.7 148.6,435.7 149.0,435.8 149.4,435.9 149.8,436.1 150.2,436.3 150.6,436.6 150.9,436.9 151.3,437.1 151.7,437.4 152.1,437.7 152.5,437.9 152.9,438.1 153.3,438.3 153.7,438.3 154.1,438.4 154.5,438.3 154.9,438.2 155.3,438.1 155.7,437.9 156.1,437.6 156.5,437.3 156.8,437.1 157.2,436.8 157.6,436.5 158.0,436.2 158.4,436.0 158.8,435.8 159.2,435.6 159.6,435.6 160.0,435.5 160.4,435.6 160.8,435.6 161.2,435.8 161.6,435.9 162.0,436.1 162.4,436.3 162.7,436.5 163.1,436.7 163.5,436.9 163.9,437.1 164.3,437.2 164.7,437.2 165.1,437.2 165.5,437.2 165.9,437.1 166.3,436.9 166.7,436.7 167.1,436.5 167.5,436.2 167.9,435.9 168.3,435.7 168.6,435.4 169.0,435.2 169.4,435.0 169.8,434.9 170.2,434.8 170.6,434.8 171.0,434.9 171.4,435.0 171.8,435.2 172.2,435.4 172.6,435.7 173.0,436.0 173.4,436.3 173.8,436.6 174.2,436.9 174.5,437.2 174.9,437.5 175.3,437.7 175.7,437.8 176.1,437.9 176.5,437.9 176.9,437.9 177.3,437.8 177.7,437.7 178.1,437.5 178.5,437.3 178.9,437.1 179.3,436.8 179.7,436.6 180.1,436.4 180.4,436.2 180.8,436.0 181.2,435.9 181.6,435.9 182.0,435.9 182.4,436.0 182.8,436.1 183.2,436.2 183.6,436.4 184.0,436.7 184.4,436.9 184.8,437.1 185.2,437.3 185.6,437.5 186.0,437.7 186.3,437.8 186.7,437.8 187.1,437.8 187.5,437.8 187.9,437.6 188.3,437.5 188.7,437.2 189.1,436.9 189.5,436.7 189.9,436.3 190.3,436.0 190.7,435.7 191.1,435.4 191.5,435.2 191.9,435.0 192.2,434.9 192.6,434.8 193.0,434.8 193.4,434.8 193.8,434.8 194.2,434.9 194.6,435.0 195.0,435.2 195.4,435.4 195.8,435.6 196.2,435.8 196.6,436.0 197.0,436.2 197.4,436.3 197.8,436.4 198.1,436.4 198.5,436.3 198.9,436.2 199.3,436.0 199.7,435.8 200.1,435.5 200.5,435.1 200.9,434.7 201.3,434.4 201.7,434.0 202.1,433.7 202.5,433.4 202.9,433.2 203.3,433.1 203.7,433.1 204.0,433.2 204.4,433.4 204.8,433.7 205.2,434.1 205.6,434.5 206.0,434.9 206.4,435.4 206.8,435.9 207.2,436.3 207.6,436.7 208.0,437.1 208.4,437.4 208.8,437.6 209.2,437.7 209.6,437.7 209.9,437.7 210.3,437.5 210.7,437.3 211.1,437.1 211.5,436.8 211.9,436.5 212.3,436.2 212.7,435.9 213.1,435.6 213.5,435.3 213.9,435.1 214.3,434.9 214.7,434.6 215.1,434.4 215.5,434.3 215.8,434.2 216.2,434.1 216.6,434.0 217.0,434.0 217.4,434.0 217.8,434.1 218.2,434.1 218.6,434.2 219.0,434.2 219.4,434.2 219.8,434.1 220.2,433.9 220.6,433.6 221.0,433.2 221.4,432.7 221.7,432.0 222.1,431.3 222.5,430.4 222.9,429.6 223.3,428.7 223.7,427.8 224.1,427.0 224.5,426.3 224.9,425.7 225.3,425.3 225.7,425.2 226.1,425.2 226.5,425.5 226.9,426.0 227.3,426.7 227.6,427.5 228.0,428.5 228.4,429.5 228.8,430.6 229.2,431.6 229.6,432.6 230.0,433.4 230.4,434.2 230.8,434.8 231.2,435.2 231.6,435.6 232.0,435.8 232.4,435.8 232.8,435.8 233.2,435.7 233.5,435.6 233.9,435.5 234.3,435.3 234.7,435.1 235.1,435.0 235.5,434.9 235.9,434.8 236.3,434.8 236.7,434.7 237.1,434.7 237.5,434.8 237.9,435.0 238.3,435.1 238.7,435.4 239.1,435.6 239.4,435.9 239.8,436.2 240.2,436.5 240.6,436.8 241.0,437.0 241.4,437.2 241.8,437.3 242.2,437.3 242.6,437.3 243.0,437.2 243.4,437.0 243.8,436.8 244.2,436.6 244.6,436.3 245.0,436.0 245.3,435.6 245.7,435.3 246.1,435.0 246.5,434.8 246.9,434.6 247.3,434.4 247.7,434.3 248.1,434.3 248.5,434.4 248.9,434.5 249.3,434.6 249.7,434.9 250.1,435.1 250.5,435.4 250.9,435.8 251.2,436.1 251.6,436.4 252.0,436.6 252.4,436.9 252.8,437.1 253.2,437.2 253.6,437.3 254.0,437.3 254.4,437.3 254.8,437.2 255.2,437.0 255.6,436.9 256.0,436.7 256.4,436.5 256.8,436.3 257.1,436.1 257.5,435.9 257.9,435.8 258.3,435.7 258.7,435.6 259.1,435.7 259.5,435.7 259.9,435.9 260.3,436.1 260.7,436.3 261.1,436.5 261.5,436.8 261.9,437.1 262.3,437.4 262.7,437.6 263.0,437.9 263.4,438.1 263.8,438.2 264.2,438.3 264.6,438.3 265.0,438.2 265.4,438.1 265.8,438.0 266.2,437.8 266.6,437.5 267.0,437.2 267.4,436.9 267.8,436.6 268.2,436.3 268.6,436.1 268.9,435.8 269.3,435.6 269.7,435.5 270.1,435.4 270.5,435.4 270.9,435.4 271.3,435.5 271.7,435.6 272.1,435.8 272.5,436.0 272.9,436.2 273.3,436.5 273.7,436.7 274.1,436.9 274.5,437.0 274.8,437.2 275.2,437.2 275.6,437.3 276.0,437.2 276.4,437.2 276.8,437.0 277.2,436.9 277.6,436.7 278.0,436.5 278.4,436.2 278.8,436.0 279.2,435.8 279.6,435.6 280.0,435.5 280.4,435.4 280.7,435.3 281.1,435.3 281.5,435.4 281.9,435.5 282.3,435.7 282.7,435.9 283.1,436.2 283.5,436.5 283.9,436.8 284.3,437.1 284.7,437.4 285.1,437.6 285.5,437.9 285.9,438.0 286.3,438.2 286.6,438.3 287.0,438.3 287.4,438.3 287.8,438.2 288.2,438.0 288.6,437.8 289.0,437.6 289.4,437.4 289.8,437.2 290.2,436.9 290.6,436.7 291.0,436.5 291.4,436.4 291.8,436.2 292.2,436.2 292.5,436.2 292.9,436.2 293.3,436.3 293.7,436.4 294.1,436.6 294.5,436.8 294.9,437.0 295.3,437.2 295.7,437.4 296.1,437.5 296.5,437.7 296.9,437.8 297.3,437.8 297.7,437.8 298.1,437.8 298.4,437.7 298.8,437.5 299.2,437.3 299.6,437.1 300.0,436.8 300.4,436.5 300.8,436.3 301.2,436.0 301.6,435.8 302.0,435.5 302.4,435.4 302.8,435.3 303.2,435.2 303.6,435.2 304.0,435.3 304.3,435.4 304.7,435.6 305.1,435.8 305.5,436.0 305.9,436.3 306.3,436.5 306.7,436.8 307.1,437.1 307.5,437.3 307.9,437.5 308.3,437.6 308.7,437.7 309.1,437.8 309.5,437.8 309.9,437.7 310.2,437.6 310.6,437.5 311.0,437.3 311.4,437.1 311.8,436.9 312.2,436.7 312.6,436.6 313.0,436.4 313.4,436.3 313.8,436.3 314.2,436.2 314.6,436.3 315.0,436.3 315.4,436.5 315.8,436.6 316.1,436.9 316.5,437.1 316.9,437.3 317.3,437.6 317.7,437.8 318.1,438.0 318.5,438.2 318.9,438.3 319.3,438.4 319.7,438.5 320.1,438.4 320.5,438.4 320.9,438.2 321.3,438.0 321.7,437.8 322.0,437.6 322.4,437.3 322.8,437.0 323.2,436.7 323.6,436.5 324.0,436.2 324.4,436.0 324.8,435.9 325.2,435.8 325.6,435.7 326.0,435.7 326.4,435.8 326.8,435.9 327.2,436.0 327.6,436.2 327.9,436.4 328.3,436.6 328.7,436.8 329.1,437.0 329.5,437.2 329.9,437.4 330.3,437.5 330.7,437.5 331.1,437.5 331.5,437.5 331.9,437.4 332.3,437.3 332.7,437.1 333.1,436.9 333.5,436.7 333.8,436.5 334.2,436.4 334.6,436.2 335.0,436.0 335.4,435.9 335.8,435.8 336.2,435.8 336.6,435.9 337.0,436.0 337.4,436.1 337.8,436.3 338.2,436.5 338.6,436.8 339.0,437.0 339.4,437.3 339.7,437.6 340.1,437.8 340.5,438.1 340.9,438.2 341.3,438.4 341.7,438.5 342.1,438.5 342.5,438.5 342.9,438.5 343.3,438.4 343.7,438.2 344.1,438.0 344.5,437.8 344.9,437.6 345.3,437.3 345.6,437.1 346.0,436.9 346.4,436.8 346.8,436.6 347.2,436.5 347.6,436.5 348.0,436.5 348.4,436.6 348.8,436.6 349.2,436.8 349.6,436.9 350.0,437.1 350.4,437.3 350.8,437.5 351.2,437.6 351.5,437.8 351.9,437.9 352.3,438.0 352.7,438.0 353.1,438.0 353.5,437.9 353.9,437.8 354.3,437.6 354.7,437.4 355.1,437.2 355.5,437.0 355.9,436.7 356.3,436.5 356.7,436.3 357.1,436.1 357.4,435.9 357.8,435.8 358.2,435.7 358.6,435.7 359.0,435.8 359.4,435.8 359.8,436.0 360.2,436.2 360.6,436.4 361.0,436.6 361.4,436.9 361.8,437.1 362.2,437.4 362.6,437.6 363.0,437.8 363.3,437.9 363.7,438.0 364.1,438.1 364.5,438.1 364.9,438.1 365.3,438.0 365.7,437.9 366.1,437.8 366.5,437.6 366.9,437.5 367.3,437.3 367.7,437.1 368.1,437.0 368.5,436.9 368.9,436.8 369.2,436.7 369.6,436.7 370.0,436.8 370.4,436.9 370.8,437.0 371.2,437.2 371.6,437.3 372.0,437.5 372.4,437.8 372.8,438.0 373.2,438.2 373.6,438.3 374.0,438.5 374.4,438.6 374.8,438.6 375.1,438.6 375.5,438.6 375.9,438.5 376.3,438.3 376.7,438.1 377.1,437.9 377.5,437.7 377.9,437.4 378.3,437.2 378.7,436.9 379.1,436.7 379.5,436.5 379.9,436.4 380.3,436.3 380.7,436.2 381.0,436.2 381.4,436.2 381.8,436.3 382.2,436.4 382.6,436.5 383.0,436.7 383.4,436.9 383.8,437.1 384.2,437.3 384.6,437.5 385.0,437.6 385.4,437.7 385.8,437.8 386.2,437.9 386.6,437.9 386.9,437.8 387.3,437.7 387.7,437.6 388.1,437.5 388.5,437.3 388.9,437.1 389.3,437.0 389.7,436.8 390.1,436.7 390.5,436.6 390.9,436.5 391.3,436.4 391.7,436.5 392.1,436.5 392.5,436.6 392.8,436.8 393.2,436.9 393.6,437.1 394.0,437.4 394.4,437.6 394.8,437.9 395.2,438.1 395.6,438.3 396.0,438.5 396.4,438.6 396.8,438.7 397.2,438.8 397.6,438.8 398.0,438.8 398.4,438.7 398.7,438.6 399.1,438.4 399.5,438.2 399.9,438.0 400.3,437.8 400.7,437.6 401.1,437.4" fill="none" stroke="#2a7d3c" stroke-width="1.4" stroke-linejoin="round"/>
<polyline points="47.5,439.4 48.7,439.2 49.9,439.1 51.0,438.9 52.2,438.7 53.4,438.6 54.6,438.4 55.8,438.3 56.9,438.1 58.1,437.9 59.3,437.8 60.5,437.6 61.7,437.5 62.8,437.3 64.0,437.2 65.2,437.0 66.4,436.9 67.6,436.7 68.8,436.6 69.9,436.4 71.1,436.3 72.3,436.1 73.5,436.0 74.7,435.8 75.8,435.7 77.0,435.6 78.2,435.4 79.4,435.3 80.6,435.2 81.7,435.0 82.9,434.9 84.1,434.8 85.3,434.6 86.5,434.5 87.6,434.3 88.8,434.2 90.0,434.0 91.2,433.9 92.4,433.7 93.5,433.6 94.7,433.4 95.9,433.2 97.1,433.1 98.3,432.9 99.4,432.8 100.6,432.7 101.8,432.5 103.0,432.4 104.2,432.2 105.4,432.1 106.5,432.0 107.7,431.9 108.9,431.8 110.1,431.7 111.3,431.6 112.4,431.6 113.6,431.5 114.8,431.5 116.0,431.4 117.2,431.4 118.3,431.4 119.5,431.4 120.7,431.5 121.9,431.5 123.1,431.6 124.2,431.7 125.4,431.9 126.6,432.0 127.8,432.2 129.0,432.4 130.1,432.6 131.3,432.8 132.5,433.1 133.7,433.3 134.9,433.6 136.0,433.9 137.2,434.2 138.4,434.5 139.6,434.8 140.8,435.1 142.0,435.5 143.1,435.8 144.3,436.1 145.5,436.5 146.7,436.8 147.9,437.2 149.0,437.5 150.2,437.9 151.4,438.2 152.6,438.6 153.8,438.9 154.9,439.3 156.1,439.6 157.3,440.0 158.5,440.4 159.7,440.9 160.8,441.4 162.0,442.0 163.2,442.6 164.4,443.2 165.6,443.8 166.7,444.4 167.9,445.0 169.1,445.7 170.3,446.3 171.5,447.0 172.6,447.6 173.8,448.2 175.0,448.8 176.2,449.4 177.4,450.0 178.6,450.5 179.7,451.0 180.9,451.4 182.1,451.8 183.3,452.2 184.5,452.5 185.6,452.7 186.8,452.9 188.0,453.0 189.2,453.0 190.4,452.9 191.5,452.8 192.7,452.6 193.9,452.3 195.1,451.9 196.3,451.4 197.4,451.0 198.6,450.4 199.8,449.8 201.0,449.2 202.2,448.5 203.3,447.9 204.5,447.2 205.7,446.5 206.9,445.7 208.1,445.0 209.2,444.3 210.4,443.6 211.6,442.9 212.8,442.3 214.0,441.7 215.2,441.1 216.3,440.5 217.5,440.1 218.7,439.6 219.9,439.3 221.1,438.9 222.2,438.6 223.4,438.2 224.6,437.8 225.8,437.5 227.0,437.1 228.1,436.7 229.3,436.4 230.5,436.0 231.7,435.7 232.9,435.3 234.0,435.0 235.2,434.7 236.4,434.3 237.6,434.0 238.8,433.7 239.9,433.4 241.1,433.2 242.3,432.9 243.5,432.7 244.7,432.5 245.8,432.3 247.0,432.1 248.2,431.9 249.4,431.8 250.6,431.6 251.8,431.5 252.9,431.5 254.1,431.4 255.3,431.4 256.5,431.4 257.7,431.4 258.8,431.5 260.0,431.5 261.2,431.6 262.4,431.6 263.6,431.7 264.7,431.8 265.9,431.9 267.1,432.0 268.3,432.1 269.5,432.2 270.6,432.4 271.8,432.5 273.0,432.7 274.2,432.8 275.4,433.0 276.5,433.1 277.7,433.3 278.9,433.5 280.1,433.6 281.3,433.8 282.4,434.0 283.6,434.2 284.8,434.4 286.0,434.6 287.2,434.8 288.4,434.9 289.5,435.1 290.7,435.3 291.9,435.5 293.1,435.7 294.3,435.9 295.4,436.0 296.6,436.2 297.8,436.5 299.0,436.7 300.2,437.0 301.3,437.2 302.5,437.5 303.7,437.8 304.9,438.1 306.1,438.4 307.2,438.7 308.4,439.0 309.6,439.3 310.8,439.6 312.0,439.8 313.1,440.1 314.3,440.3 315.5,440.5 316.7,440.6 317.9,440.8 319.0,440.9 320.2,440.9 321.4,441.0 322.6,441.0 323.8,441.0 325.0,441.1 326.1,441.1 327.3,441.2 328.5,441.2 329.7,441.3 330.9,441.3 332.0,441.3 333.2,441.4 334.4,441.4 335.6,441.4 336.8,441.5 337.9,441.5 339.1,441.6 340.3,441.6 341.5,441.6 342.7,441.7 343.8,441.7 345.0,441.7 346.2,441.7 347.4,441.8 348.6,441.8 349.7,441.8 350.9,441.9 352.1,441.9 353.3,441.9 354.5,441.9 355.6,442.0 356.8,442.0 358.0,442.0 359.2,442.0 360.4,442.0 361.6,442.1 362.7,442.1 363.9,442.1 365.1,442.1 366.3,442.1 367.5,442.2 368.6,442.2 369.8,442.2 371.0,442.2 372.2,442.2 373.4,442.2 374.5,442.3 375.7,442.3 376.9,442.3 378.1,442.3 379.3,442.3 380.4,442.3 381.6,442.3 382.8,442.3 384.0,442.3 385.2,442.3 386.3,442.4 387.5,442.4 388.7,442.4 389.9,442.4 391.1,442.4 392.2,442.4 393.4,442.4 394.6,442.4 395.8,442.4 397.0,442.4 398.2,442.4 399.3,442.4 400.5,442.4" fill="none" stroke="#e53535" stroke-width="2.0" stroke-linejoin="round"/>
<line x1="47.50" y1="401.50" x2="47.50" y2="481.40" stroke="#8a8a8a" stroke-width="1.5"/>
<line x1="401.30" y1="401.50" x2="401.30" y2="481.40" stroke="#8a8a8a" stroke-width="1.5"/>
<line x1="46.75" y1="480.70" x2="402.05" y2="480.70" stroke="#8a8a8a" stroke-width="1.5"/>
<line x1="47.50" y1="403.00" x2="51.90" y2="403.00" stroke="#8a8a8a" stroke-width="1.3"/>
<line x1="47.50" y1="439.40" x2="51.90" y2="439.40" stroke="#8a8a8a" stroke-width="1.3"/>
<line x1="47.50" y1="475.80" x2="51.90" y2="475.80" stroke="#8a8a8a" stroke-width="1.3"/>
<line x1="401.30" y1="414.80" x2="396.90" y2="414.80" stroke="#8a8a8a" stroke-width="1.3"/>
<line x1="401.30" y1="440.50" x2="396.90" y2="440.50" stroke="#8a8a8a" stroke-width="1.3"/>
<line x1="401.30" y1="466.30" x2="396.90" y2="466.30" stroke="#8a8a8a" stroke-width="1.3"/>
<line x1="47.50" y1="480.70" x2="47.50" y2="476.30" stroke="#8a8a8a" stroke-width="1.3"/>
<line x1="135.95" y1="480.70" x2="135.95" y2="476.30" stroke="#8a8a8a" stroke-width="1.3"/>
<line x1="224.40" y1="480.70" x2="224.40" y2="476.30" stroke="#8a8a8a" stroke-width="1.3"/>
<line x1="312.85" y1="480.70" x2="312.85" y2="476.30" stroke="#8a8a8a" stroke-width="1.3"/>
<line x1="401.30" y1="480.70" x2="401.30" y2="476.30" stroke="#8a8a8a" stroke-width="1.3"/>
<text x="45.00" y="407.60" font-size="10.8" text-anchor="end" fill="#262626" stroke="#262626" stroke-width="0.1">50</text>
<text x="45.00" y="444.00" font-size="10.8" text-anchor="end" fill="#262626" stroke="#262626" stroke-width="0.1">0</text>
<text x="45.00" y="480.40" font-size="10.8" text-anchor="end" fill="#262626" stroke="#262626" stroke-width="0.1">-<tspan dx="0.5">50</tspan></text>
<text x="406.40" y="419.40" font-size="10.8" text-anchor="start" fill="#2b7a37" stroke="#2b7a37" stroke-width="0.1">1</text>
<text x="406.40" y="445.10" font-size="10.8" text-anchor="start" fill="#2b7a37" stroke="#2b7a37" stroke-width="0.1">0</text>
<text x="406.40" y="470.90" font-size="10.8" text-anchor="start" fill="#2b7a37" stroke="#2b7a37" stroke-width="0.1">-<tspan dx="0.5">1</tspan></text>
<text x="46.70" y="494.00" font-size="10.8" text-anchor="middle" fill="#262626" stroke="#262626" stroke-width="0.1">-<tspan dx="0.5">0.5</tspan></text>
<text x="135.15" y="494.00" font-size="10.8" text-anchor="middle" fill="#262626" stroke="#262626" stroke-width="0.1">-<tspan dx="0.5">0.25</tspan></text>
<text x="223.60" y="494.00" font-size="10.8" text-anchor="middle" fill="#262626" stroke="#262626" stroke-width="0.1">0</text>
<text x="312.05" y="494.00" font-size="10.8" text-anchor="middle" fill="#262626" stroke="#262626" stroke-width="0.1">0.25</text>
<text x="400.50" y="494.00" font-size="10.8" text-anchor="middle" fill="#262626" stroke="#262626" stroke-width="0.1">0.5</text>
<text x="224.20" y="391.60" font-size="12.5" text-anchor="middle" fill="#262626" stroke="#262626" stroke-width="0.25">CA1</text>
<text x="225.20" y="508.20" font-size="13" text-anchor="middle" fill="#262626" stroke="#262626" stroke-width="0.25">Time [s]</text>
<text x="22.80" y="441.50" font-size="13" text-anchor="middle" fill="#262626" stroke="#262626" stroke-width="0.25" transform="rotate(-90 22.80 441.50)">Amplitude [μV]</text>
<text x="421.10" y="443.30" font-size="13" text-anchor="middle" fill="#2b7a37" stroke="#2b7a37" stroke-width="0.25" transform="rotate(90 421.10 443.30)">Amplitude [μV]</text>
<polyline points="47.5,572.9 47.7,567.3 47.9,562.5 48.1,558.8 48.3,556.5 48.5,555.9 48.7,557.2 48.9,560.2 49.1,564.8 49.3,570.7 49.5,577.5 49.7,584.6 49.9,591.6 50.1,597.9 50.3,603.1 50.4,606.7 50.6,608.6 50.8,608.6 51.0,606.8 51.2,603.4 51.4,598.6 51.6,592.9 51.8,586.6 52.0,580.3 52.2,574.4 52.4,569.2 52.6,565.1 52.8,562.2 53.0,560.7 53.2,560.7 53.4,562.0 53.6,564.5 53.8,568.1 54.0,572.4 54.2,577.2 54.4,582.2 54.6,587.1 54.8,591.6 55.0,595.4 55.2,598.4 55.4,600.3 55.6,601.0 55.8,600.4 56.0,598.6 56.2,595.7 56.3,591.9 56.5,587.3 56.7,582.2 56.9,577.0 57.1,572.0 57.3,567.6 57.5,564.1 57.7,561.7 57.9,560.6 58.1,561.0 58.3,562.7 58.5,565.9 58.7,570.1 58.9,575.1 59.1,580.5 59.3,586.0 59.5,591.2 59.7,595.5 59.9,598.9 60.1,601.0 60.3,601.7 60.5,601.1 60.7,599.2 60.9,596.1 61.1,592.3 61.3,588.0 61.5,583.5 61.7,579.2 61.9,575.4 62.1,572.2 62.2,570.0 62.4,568.7 62.6,568.4 62.8,569.0 63.0,570.4 63.2,572.5 63.4,575.0 63.6,577.7 63.8,580.4 64.0,583.0 64.2,585.2 64.4,587.1 64.6,588.4 64.8,589.2 65.0,589.5 65.2,589.3 65.4,588.6 65.6,587.5 65.8,586.2 66.0,584.6 66.2,583.0 66.4,581.3 66.6,579.7 66.8,578.4 67.0,577.2 67.2,576.4 67.4,576.0 67.6,575.9 67.8,576.2 68.0,576.9 68.1,577.9 68.3,579.1 68.5,580.5 68.7,582.0 68.9,583.5 69.1,584.9 69.3,586.0 69.5,586.9 69.7,587.3 69.9,587.4 70.1,587.2 70.3,586.5 70.5,585.6 70.7,584.4 70.9,583.1 71.1,581.8 71.3,580.5 71.5,579.4 71.7,578.5 71.9,577.9 72.1,577.6 72.3,577.6 72.5,577.9 72.7,578.4 72.9,579.1 73.1,579.9 73.3,580.8 73.5,581.7 73.7,582.5 73.9,583.2 74.0,583.7 74.2,584.1 74.4,584.4 74.6,584.4 74.8,584.3 75.0,584.0 75.2,583.6 75.4,583.1 75.6,582.6 75.8,582.0 76.0,581.4 76.2,580.9 76.4,580.4 76.6,580.0 76.8,579.7 77.0,579.5 77.2,579.5 77.4,579.6 77.6,579.8 77.8,580.3 78.0,580.8 78.2,581.5 78.4,582.2 78.6,583.0 78.8,583.7 79.0,584.4 79.2,585.0 79.4,585.3 79.6,585.5 79.8,585.4 79.9,585.1 80.1,584.5 80.3,583.6 80.5,582.5 80.7,581.3 80.9,580.1 81.1,578.9 81.3,577.8 81.5,576.9 81.7,576.3 81.9,576.1 82.1,576.3 82.3,576.8 82.5,577.8 82.7,579.0 82.9,580.5 83.1,582.2 83.3,583.8 83.5,585.4 83.7,586.9 83.9,588.0 84.1,588.8 84.3,589.2 84.5,589.1 84.7,588.4 84.9,587.3 85.1,585.7 85.3,583.8 85.5,581.7 85.7,579.4 85.8,577.3 86.0,575.3 86.2,573.8 86.4,572.7 86.6,572.2 86.8,572.3 87.0,573.1 87.2,574.5 87.4,576.4 87.6,578.8 87.8,581.5 88.0,584.4 88.2,587.2 88.4,589.8 88.6,592.0 88.8,593.5 89.0,594.4 89.2,594.4 89.4,593.6 89.6,591.9 89.8,589.4 90.0,586.3 90.2,582.7 90.4,579.0 90.6,575.3 90.8,572.0 91.0,569.2 91.2,567.2 91.4,566.2 91.6,566.2 91.7,567.2 91.9,569.3 92.1,572.3 92.3,576.0 92.5,580.1 92.7,584.3 92.9,588.3 93.1,591.9 93.3,594.7 93.5,596.6 93.7,597.5 93.9,597.2 94.1,596.0 94.3,593.8 94.5,590.9 94.7,587.5 94.9,583.8 95.1,580.2 95.3,576.9 95.5,574.2 95.7,572.0 95.9,570.7 96.1,570.2 96.3,570.4 96.5,571.5 96.7,573.1 96.9,575.1 97.1,577.5 97.3,580.0 97.5,582.5 97.6,584.8 97.8,586.7 98.0,588.3 98.2,589.4 98.4,590.0 98.6,590.1 98.8,589.6 99.0,588.7 99.2,587.3 99.4,585.6 99.6,583.6 99.8,581.5 100.0,579.4 100.2,577.4 100.4,575.6 100.6,574.1 100.8,573.1 101.0,572.7 101.2,572.9 101.4,573.7 101.6,575.0 101.8,576.9 102.0,579.2 102.2,581.7 102.4,584.3 102.6,586.7 102.8,588.9 103.0,590.5 103.2,591.6 103.4,592.0 103.5,591.7 103.7,590.7 103.9,589.1 104.1,587.1 104.3,584.7 104.5,582.3 104.7,579.8 104.9,577.6 105.1,575.7 105.3,574.4 105.5,573.5 105.7,573.3 105.9,573.6 106.1,574.5 106.3,575.8 106.5,577.4 106.7,579.3 106.9,581.2 107.1,583.0 107.3,584.7 107.5,586.2 107.7,587.3 107.9,588.0 108.1,588.3 108.3,588.2 108.5,587.7 108.7,586.8 108.9,585.6 109.1,584.2 109.3,582.6 109.4,581.0 109.6,579.3 109.8,577.8 110.0,576.5 110.2,575.5 110.4,574.9 110.6,574.7 110.8,574.9 111.0,575.6 111.2,576.8 111.4,578.4 111.6,580.4 111.8,582.6 112.0,584.9 112.2,587.2 112.4,589.3 112.6,591.0 112.8,592.1 113.0,592.7 113.2,592.5 113.4,591.5 113.6,589.7 113.8,587.3 114.0,584.4 114.2,581.1 114.4,577.8 114.6,574.5 114.8,571.7 115.0,569.5 115.2,568.0 115.3,567.5 115.5,568.0 115.7,569.5 115.9,571.8 116.1,574.8 116.3,578.3 116.5,582.0 116.7,585.6 116.9,588.9 117.1,591.6 117.3,593.6 117.5,594.7 117.7,594.9 117.9,594.3 118.1,592.8 118.3,590.6 118.5,588.0 118.7,585.1 118.9,582.1 119.1,579.3 119.3,576.9 119.5,574.9 119.7,573.4 119.9,572.6 120.1,572.5 120.3,572.9 120.5,573.9 120.7,575.4 120.9,577.1 121.1,579.1 121.2,581.2 121.4,583.3 121.6,585.2 121.8,586.9 122.0,588.2 122.2,589.1 122.4,589.5 122.6,589.4 122.8,588.9 123.0,587.8 123.2,586.4 123.4,584.6 123.6,582.7 123.8,580.6 124.0,578.6 124.2,576.8 124.4,575.3 124.6,574.2 124.8,573.6 125.0,573.5 125.2,573.9 125.4,575.0 125.6,576.4 125.8,578.3 126.0,580.5 126.2,582.8 126.4,585.0 126.6,587.0 126.8,588.6 127.0,589.8 127.1,590.4 127.3,590.4 127.5,589.8 127.7,588.8 127.9,587.2 128.1,585.4 128.3,583.3 128.5,581.3 128.7,579.3 128.9,577.6 129.1,576.2 129.3,575.2 129.5,574.7 129.7,574.7 129.9,575.2 130.1,576.0 130.3,577.2 130.5,578.7 130.7,580.3 130.9,582.0 131.1,583.6 131.3,585.1 131.5,586.4 131.7,587.4 131.9,588.0 132.1,588.2 132.3,588.1 132.5,587.5 132.7,586.6 132.9,585.3 133.0,583.7 133.2,581.9 133.4,580.0 133.6,578.1 133.8,576.4 134.0,574.9 134.2,573.8 134.4,573.2 134.6,573.2 134.8,573.7 135.0,574.9 135.2,576.6 135.4,578.8 135.6,581.3 135.8,583.9 136.0,586.6 136.2,589.0 136.4,591.0 136.6,592.4 136.8,593.1 137.0,593.1 137.2,592.3 137.4,590.7 137.6,588.5 137.8,585.9 138.0,582.9 138.2,579.8 138.4,576.9 138.6,574.4 138.8,572.4 138.9,571.0 139.1,570.4 139.3,570.6 139.5,571.5 139.7,573.1 139.9,575.2 140.1,577.7 140.3,580.4 140.5,583.1 140.7,585.6 140.9,587.8 141.1,589.5 141.3,590.6 141.5,591.2 141.7,591.1 141.9,590.4 142.1,589.2 142.3,587.5 142.5,585.5 142.7,583.3 142.9,581.0 143.1,578.8 143.3,576.8 143.5,575.0 143.7,573.7 143.9,572.9 144.1,572.6 144.3,573.0 144.5,573.9 144.7,575.4 144.8,577.3 145.0,579.7 145.2,582.3 145.4,584.9 145.6,587.5 145.8,589.7 146.0,591.6 146.2,592.8 146.4,593.3 146.6,593.0 146.8,591.9 147.0,590.2 147.2,587.8 147.4,584.9 147.6,581.7 147.8,578.5 148.0,575.5 148.2,572.9 148.4,570.9 148.6,569.7 148.8,569.3 149.0,569.7 149.2,571.0 149.4,572.9 149.6,575.5 149.8,578.4 150.0,581.4 150.2,584.4 150.4,587.0 150.6,589.3 150.7,590.9 150.9,591.8 151.1,592.1 151.3,591.6 151.5,590.5 151.7,588.9 151.9,587.0 152.1,584.7 152.3,582.5 152.5,580.2 152.7,578.2 152.9,576.5 153.1,575.2 153.3,574.4 153.5,574.0 153.7,574.2 153.9,574.8 154.1,575.8 154.3,577.2 154.5,579.0 154.7,580.9 154.9,582.9 155.1,585.0 155.3,586.8 155.5,588.5 155.7,589.8 155.9,590.6 156.1,590.8 156.3,590.4 156.5,589.5 156.6,587.9 156.8,585.9 157.0,583.4 157.2,580.7 157.4,577.9 157.6,575.3 157.8,573.0 158.0,571.2 158.2,570.1 158.4,569.8 158.6,570.2 158.8,571.6 159.0,573.6 159.2,576.3 159.4,579.3 159.6,582.6 159.8,585.9 160.0,588.8 160.2,591.3 160.4,593.1 160.6,594.2 160.8,594.4 161.0,593.7 161.2,592.2 161.4,590.1 161.6,587.5 161.8,584.6 162.0,581.5 162.2,578.6 162.4,576.0 162.5,573.9 162.7,572.4 162.9,571.5 163.1,571.4 163.3,571.9 163.5,573.0 163.7,574.7 163.9,576.8 164.1,579.2 164.3,581.6 164.5,584.1 164.7,586.4 164.9,588.3 165.1,589.9 165.3,590.9 165.5,591.4 165.7,591.2 165.9,590.5 166.1,589.1 166.3,587.3 166.5,585.0 166.7,582.4 166.9,579.7 167.1,577.0 167.3,574.6 167.5,572.5 167.7,571.0 167.9,570.2 168.1,570.1 168.3,570.8 168.4,572.3 168.6,574.6 168.8,577.4 169.0,580.5 169.2,583.9 169.4,587.2 169.6,590.1 169.8,592.6 170.0,594.3 170.2,595.2 170.4,595.1 170.6,594.2 170.8,592.4 171.0,589.9 171.2,586.9 171.4,583.6 171.6,580.2 171.8,577.1 172.0,574.3 172.2,572.2 172.4,570.7 172.6,570.1 172.8,570.3 173.0,571.2 173.2,572.8 173.4,574.9 173.6,577.4 173.8,580.0 174.0,582.6 174.2,585.0 174.3,587.1 174.5,588.7 174.7,589.8 174.9,590.3 175.1,590.3 175.3,589.7 175.5,588.6 175.7,587.2 175.9,585.4 176.1,583.5 176.3,581.5 176.5,579.5 176.7,577.7 176.9,576.1 177.1,574.9 177.3,574.0 177.5,573.7 177.7,573.9 177.9,574.6 178.1,575.8 178.3,577.5 178.5,579.5 178.7,581.8 178.9,584.2 179.1,586.5 179.3,588.6 179.5,590.3 179.7,591.4 179.9,592.0 180.1,591.9 180.2,591.1 180.4,589.6 180.6,587.5 180.8,585.0 181.0,582.2 181.2,579.4 181.4,576.7 181.6,574.3 181.8,572.5 182.0,571.3 182.2,570.8 182.4,571.0 182.6,572.0 182.8,573.7 183.0,575.8 183.2,578.3 183.4,581.0 183.6,583.6 183.8,586.0 184.0,588.1 184.2,589.6 184.4,590.6 184.6,591.0 184.8,590.7 185.0,589.9 185.2,588.5 185.4,586.8 185.6,584.9 185.8,582.8 186.0,580.7 186.1,578.7 186.3,577.0 186.5,575.6 186.7,574.6 186.9,574.1 187.1,574.1 187.3,574.5 187.5,575.4 187.7,576.8 187.9,578.5 188.1,580.5 188.3,582.6 188.5,584.8 188.7,586.9 188.9,588.7 189.1,590.2 189.3,591.1 189.5,591.5 189.7,591.3 189.9,590.3 190.1,588.7 190.3,586.6 190.5,584.0 190.7,581.1 190.9,578.2 191.1,575.4 191.3,572.8 191.5,570.9 191.7,569.6 191.9,569.1 192.0,569.5 192.2,570.8 192.4,572.8 192.6,575.5 192.8,578.6 193.0,582.0 193.2,585.4 193.4,588.5 193.6,591.2 193.8,593.2 194.0,594.4 194.2,594.7 194.4,594.2 194.6,592.8 194.8,590.7 195.0,588.1 195.2,585.2 195.4,582.1 195.6,579.1 195.8,576.4 196.0,574.1 196.2,572.4 196.4,571.4 196.6,571.1 196.8,571.5 197.0,572.6 197.2,574.2 197.4,576.3 197.6,578.7 197.8,581.2 197.9,583.7 198.1,586.1 198.3,588.2 198.5,589.9 198.7,591.1 198.9,591.7 199.1,591.7 199.3,591.0 199.5,589.8 199.7,587.9 199.9,585.6 200.1,582.9 200.3,580.1 200.5,577.2 200.7,574.6 200.9,572.3 201.1,570.5 201.3,569.5 201.5,569.3 201.7,569.9 201.9,571.3 202.1,573.6 202.3,576.5 202.5,579.8 202.7,583.4 202.9,587.0 203.1,590.2 203.3,593.0 203.5,595.0 203.7,596.1 203.8,596.2 204.0,595.4 204.2,593.6 204.4,591.1 204.6,587.9 204.8,584.4 205.0,580.8 205.2,577.3 205.4,574.2 205.6,571.8 205.8,570.1 206.0,569.3 206.2,569.3 206.4,570.1 206.6,571.7 206.8,573.9 207.0,576.5 207.2,579.3 207.4,582.2 207.6,584.9 207.8,587.3 208.0,589.2 208.2,590.6 208.4,591.4 208.6,591.5 208.8,591.1 209.0,590.1 209.2,588.5 209.4,586.6 209.6,584.3 209.7,581.9 209.9,579.3 210.1,576.9 210.3,574.7 210.5,572.9 210.7,571.6 210.9,570.9 211.1,570.8 211.3,571.6 211.5,573.1 211.7,575.3 211.9,578.0 212.1,581.2 212.3,584.6 212.5,588.0 212.7,591.2 212.9,593.9 213.1,595.8 213.3,596.9 213.5,596.9 213.7,595.9 213.9,593.9 214.1,590.9 214.3,587.3 214.5,583.2 214.7,579.0 214.9,574.8 215.1,571.2 215.3,568.3 215.5,566.3 215.6,565.3 215.8,565.5 216.0,566.8 216.2,569.1 216.4,572.2 216.6,575.9 216.8,579.9 217.0,583.8 217.2,587.5 217.4,590.7 217.6,593.2 217.8,594.9 218.0,595.6 218.2,595.4 218.4,594.3 218.6,592.4 218.8,589.9 219.0,587.0 219.2,583.9 219.4,580.7 219.6,577.6 219.8,574.9 220.0,572.7 220.2,571.0 220.4,570.1 220.6,570.0 220.8,570.5 221.0,571.9 221.2,573.8 221.4,576.4 221.5,579.3 221.7,582.5 221.9,585.7 222.1,588.7 222.3,591.4 222.5,593.5 222.7,594.9 222.9,595.5 223.1,595.1 223.3,593.8 223.5,591.7 223.7,588.8 223.9,585.4 224.1,581.6 224.3,577.8 224.5,574.2 224.7,571.0 224.9,568.5 225.1,567.0 225.3,566.4 225.5,566.9 225.7,568.4 225.9,570.8 226.1,574.0 226.3,577.6 226.5,581.4 226.7,585.1 226.9,588.5 227.1,591.4 227.3,593.5 227.4,594.7 227.6,595.0 227.8,594.4 228.0,593.0 228.2,590.9 228.4,588.3 228.6,585.5 228.8,582.6 229.0,579.8 229.2,577.3 229.4,575.2 229.6,573.8 229.8,572.9 230.0,572.6 230.2,573.0 230.4,573.9 230.6,575.2 230.8,576.9 231.0,578.9 231.2,580.9 231.4,583.0 231.6,584.9 231.8,586.6 232.0,588.0 232.2,589.0 232.4,589.6 232.6,589.6 232.8,589.2 233.0,588.2 233.2,586.8 233.3,585.1 233.5,583.0 233.7,580.9 233.9,578.6 234.1,576.6 234.3,574.8 234.5,573.4 234.7,572.5 234.9,572.2 235.1,572.6 235.3,573.7 235.5,575.3 235.7,577.4 235.9,579.9 236.1,582.5 236.3,585.1 236.5,587.6 236.7,589.6 236.9,591.1 237.1,592.0 237.3,592.1 237.5,591.6 237.7,590.4 237.9,588.7 238.1,586.5 238.3,584.0 238.5,581.5 238.7,579.1 238.9,576.9 239.1,575.2 239.2,573.9 239.4,573.2 239.6,573.1 239.8,573.6 240.0,574.6 240.2,576.1 240.4,577.8 240.6,579.7 240.8,581.7 241.0,583.6 241.2,585.4 241.4,586.9 241.6,588.0 241.8,588.7 242.0,589.0 242.2,588.8 242.4,588.1 242.6,587.1 242.8,585.7 243.0,584.0 243.2,582.2 243.4,580.2 243.6,578.3 243.8,576.5 244.0,575.0 244.2,573.9 244.4,573.3 244.6,573.2 244.8,573.6 245.0,574.7 245.1,576.3 245.3,578.4 245.5,580.9 245.7,583.5 245.9,586.2 246.1,588.7 246.3,590.8 246.5,592.3 246.7,593.2 246.9,593.4 247.1,592.7 247.3,591.3 247.5,589.1 247.7,586.5 247.9,583.4 248.1,580.2 248.3,577.1 248.5,574.3 248.7,572.0 248.9,570.4 249.1,569.6 249.3,569.6 249.5,570.4 249.7,572.0 249.9,574.2 250.1,576.9 250.3,579.8 250.5,582.8 250.7,585.6 250.9,588.1 251.0,590.0 251.2,591.4 251.4,592.1 251.6,592.1 251.8,591.4 252.0,590.1 252.2,588.3 252.4,586.2 252.6,583.8 252.8,581.4 253.0,579.0 253.2,576.8 253.4,575.0 253.6,573.7 253.8,572.8 254.0,572.5 254.2,572.8 254.4,573.7 254.6,575.2 254.8,577.1 255.0,579.3 255.2,581.9 255.4,584.5 255.6,587.0 255.8,589.3 256.0,591.2 256.2,592.6 256.4,593.2 256.6,593.1 256.8,592.2 256.9,590.6 257.1,588.3 257.3,585.4 257.5,582.2 257.7,578.9 257.9,575.7 258.1,572.8 258.3,570.5 258.5,568.9 258.7,568.2 258.9,568.4 259.1,569.5 259.3,571.5 259.5,574.2 259.7,577.4 259.9,580.8 260.1,584.3 260.3,587.5 260.5,590.2 260.7,592.3 260.9,593.7 261.1,594.1 261.3,593.8 261.5,592.6 261.7,590.8 261.9,588.5 262.1,585.8 262.3,583.0 262.5,580.3 262.7,577.7 262.8,575.6 263.0,573.9 263.2,572.8 263.4,572.4 263.6,572.5 263.8,573.2 264.0,574.4 264.2,576.1 264.4,578.1 264.6,580.4 264.8,582.8 265.0,585.1 265.2,587.3 265.4,589.1 265.6,590.6 265.8,591.6 266.0,591.9 266.2,591.6 266.4,590.6 266.6,589.0 266.8,586.7 267.0,584.0 267.2,581.0 267.4,577.9 267.6,574.9 267.8,572.2 268.0,570.0 268.2,568.5 268.4,567.9 268.6,568.3 268.7,569.6 268.9,571.8 269.1,574.8 269.3,578.3 269.5,582.2 269.7,586.1 269.9,589.7 270.1,592.9 270.3,595.3 270.5,596.7 270.7,597.2 270.9,596.6 271.1,595.0 271.3,592.5 271.5,589.4 271.7,585.8 271.9,582.0 272.1,578.4 272.3,575.1 272.5,572.3 272.7,570.3 272.9,569.2 273.1,568.9 273.3,569.5 273.5,570.9 273.7,572.9 273.9,575.4 274.1,578.2 274.3,581.2 274.5,584.0 274.6,586.7 274.8,588.9 275.0,590.7 275.2,591.8 275.4,592.3 275.6,592.1 275.8,591.2 276.0,589.8 276.2,587.8 276.4,585.4 276.6,582.8 276.8,580.1 277.0,577.4 277.2,575.0 277.4,573.0 277.6,571.5 277.8,570.6 278.0,570.5 278.2,571.1 278.4,572.5 278.6,574.6 278.8,577.2 279.0,580.1 279.2,583.3 279.4,586.4 279.6,589.3 279.8,591.6 280.0,593.4 280.2,594.3 280.4,594.4 280.5,593.6 280.7,592.1 280.9,589.8 281.1,587.0 281.3,584.0 281.5,580.8 281.7,577.8 281.9,575.1 282.1,573.0 282.3,571.6 282.5,570.9 282.7,571.0 282.9,571.8 283.1,573.2 283.3,575.1 283.5,577.4 283.7,579.8 283.9,582.2 284.1,584.4 284.3,586.3 284.5,587.8 284.7,588.8 284.9,589.2 285.1,589.2 285.3,588.7 285.5,587.8 285.7,586.5 285.9,585.0 286.1,583.4 286.3,581.8 286.4,580.2 286.6,578.8 286.8,577.6 287.0,576.7 287.2,576.1 287.4,575.9 287.6,576.0 287.8,576.5 288.0,577.4 288.2,578.6 288.4,580.0 288.6,581.6 288.8,583.2 289.0,584.8 289.2,586.3 289.4,587.5 289.6,588.4 289.8,588.8 290.0,588.8 290.2,588.4 290.4,587.4 290.6,586.0 290.8,584.3 291.0,582.4 291.2,580.4 291.4,578.5 291.6,576.7 291.8,575.3 292.0,574.3 292.2,573.9 292.3,573.9 292.5,574.5 292.7,575.6 292.9,577.1 293.1,578.9 293.3,580.9 293.5,582.9 293.7,584.7 293.9,586.3 294.1,587.6 294.3,588.4 294.5,588.8 294.7,588.7 294.9,588.1 295.1,587.2 295.3,585.9 295.5,584.4 295.7,582.8 295.9,581.2 296.1,579.7 296.3,578.3 296.5,577.3 296.7,576.5 296.9,576.1 297.1,576.1 297.3,576.4 297.5,577.1 297.7,578.0 297.9,579.3 298.1,580.7 298.2,582.1 298.4,583.7 298.6,585.1 298.8,586.4 299.0,587.4 299.2,588.1 299.4,588.4 299.6,588.2 299.8,587.7 300.0,586.7 300.2,585.3 300.4,583.6 300.6,581.7 300.8,579.7 301.0,577.7 301.2,576.0 301.4,574.6 301.6,573.6 301.8,573.2 302.0,573.3 302.2,574.1 302.4,575.4 302.6,577.1 302.8,579.3 303.0,581.6 303.2,584.0 303.4,586.2 303.6,588.2 303.8,589.6 304.0,590.6 304.1,590.9 304.3,590.7 304.5,589.8 304.7,588.4 304.9,586.6 305.1,584.5 305.3,582.3 305.5,580.2 305.7,578.2 305.9,576.6 306.1,575.3 306.3,574.6 306.5,574.3 306.7,574.6 306.9,575.3 307.1,576.4 307.3,577.8 307.5,579.4 307.7,581.1 307.9,582.8 308.1,584.4 308.3,585.7 308.5,586.8 308.7,587.5 308.9,587.9 309.1,587.9 309.3,587.5 309.5,586.7 309.7,585.6 309.9,584.2 310.0,582.7 310.2,581.1 310.4,579.4 310.6,577.9 310.8,576.6 311.0,575.5 311.2,574.9 311.4,574.7 311.6,575.0 311.8,575.7 312.0,576.9 312.2,578.5 312.4,580.4 312.6,582.4 312.8,584.5 313.0,586.4 313.2,588.0 313.4,589.3 313.6,590.0 313.8,590.2 314.0,589.9 314.2,588.9 314.4,587.5 314.6,585.7 314.8,583.7 315.0,581.5 315.2,579.4 315.4,577.5 315.6,575.9 315.8,574.8 315.9,574.2 316.1,574.1 316.3,574.5 316.5,575.4 316.7,576.7 316.9,578.3 317.1,580.0 317.3,581.8 317.5,583.5 317.7,585.0 317.9,586.2 318.1,587.1 318.3,587.6 318.5,587.7 318.7,587.4 318.9,586.8 319.1,585.9 319.3,584.8 319.5,583.5 319.7,582.0 319.9,580.6 320.1,579.2 320.3,578.0 320.5,577.0 320.7,576.3 320.9,575.9 321.1,575.8 321.3,576.2 321.5,577.0 321.7,578.1 321.8,579.5 322.0,581.2 322.2,583.0 322.4,584.9 322.6,586.6 322.8,588.1 323.0,589.3 323.2,590.0 323.4,590.1 323.6,589.7 323.8,588.7 324.0,587.2 324.2,585.2 324.4,582.9 324.6,580.5 324.8,578.2 325.0,576.0 325.2,574.1 325.4,572.8 325.6,572.1 325.8,572.1 326.0,572.7 326.2,573.9 326.4,575.7 326.6,577.8 326.8,580.2 327.0,582.7 327.2,585.0 327.4,587.1 327.6,588.8 327.7,589.9 327.9,590.5 328.1,590.5 328.3,589.9 328.5,588.7 328.7,587.2 328.9,585.4 329.1,583.4 329.3,581.4 329.5,579.4 329.7,577.7 329.9,576.3 330.1,575.3 330.3,574.7 330.5,574.6 330.7,574.9 330.9,575.7 331.1,576.8 331.3,578.3 331.5,580.0 331.7,581.9 331.9,583.8 332.1,585.6 332.3,587.2 332.5,588.5 332.7,589.3 332.9,589.7 333.1,589.6 333.3,589.0 333.5,587.8 333.6,586.2 333.8,584.2 334.0,582.0 334.2,579.7 334.4,577.5 334.6,575.5 334.8,573.9 335.0,572.8 335.2,572.3 335.4,572.4 335.6,573.2 335.8,574.6 336.0,576.4 336.2,578.7 336.4,581.2 336.6,583.6 336.8,586.0 337.0,588.0 337.2,589.6 337.4,590.6 337.6,590.9 337.8,590.7 338.0,589.8 338.2,588.5 338.4,586.7 338.6,584.7 338.8,582.7 339.0,580.6 339.2,578.8 339.4,577.2 339.5,576.0 339.7,575.3 339.9,575.1 340.1,575.3 340.3,575.9 340.5,576.8 340.7,578.1 340.9,579.5 341.1,581.0 341.3,582.4 341.5,583.8 341.7,585.1 341.9,586.1 342.1,586.8 342.3,587.2 342.5,587.2 342.7,587.0 342.9,586.4 343.1,585.4 343.3,584.3 343.5,582.9 343.7,581.4 343.9,579.8 344.1,578.4 344.3,577.1 344.5,576.0 344.7,575.3 344.9,575.0 345.1,575.2 345.3,575.8 345.4,576.9 345.6,578.3 345.8,580.1 346.0,582.0 346.2,584.0 346.4,585.9 346.6,587.6 346.8,588.9 347.0,589.7 347.2,590.0 347.4,589.7 347.6,588.9 347.8,587.6 348.0,585.9 348.2,584.0 348.4,581.9 348.6,579.8 348.8,577.9 349.0,576.3 349.2,575.1 349.4,574.4 349.6,574.3 349.8,574.6 350.0,575.4 350.2,576.6 350.4,578.0 350.6,579.7 350.8,581.5 351.0,583.2 351.2,584.7 351.3,586.0 351.5,587.0 351.7,587.7 351.9,587.9 352.1,587.7 352.3,587.2 352.5,586.3 352.7,585.2 352.9,583.8 353.1,582.3 353.3,580.8 353.5,579.3 353.7,577.9 353.9,576.8 354.1,575.9 354.3,575.4 354.5,575.3 354.7,575.7 354.9,576.4 355.1,577.6 355.3,579.1 355.5,580.9 355.7,582.8 355.9,584.7 356.1,586.5 356.3,588.1 356.5,589.3 356.7,590.0 356.9,590.2 357.1,589.8 357.2,588.8 357.4,587.4 357.6,585.5 357.8,583.3 358.0,581.0 358.2,578.7 358.4,576.6 358.6,574.9 358.8,573.6 359.0,572.9 359.2,572.8 359.4,573.3 359.6,574.4 359.8,576.0 360.0,577.9 360.2,580.0 360.4,582.2 360.6,584.3 360.8,586.2 361.0,587.7 361.2,588.8 361.4,589.4 361.6,589.4 361.8,589.0 362.0,588.1 362.2,586.8 362.4,585.2 362.6,583.5 362.8,581.7 363.0,580.0 363.1,578.5 363.3,577.1 363.5,576.1 363.7,575.5 363.9,575.3 364.1,575.5 364.3,576.1 364.5,577.1 364.7,578.3 364.9,579.9 365.1,581.6 365.3,583.4 365.5,585.1 365.7,586.7 365.9,588.1 366.1,589.1 366.3,589.6 366.5,589.7 366.7,589.2 366.9,588.2 367.1,586.7 367.3,584.7 367.5,582.5 367.7,580.0 367.9,577.6 368.1,575.4 368.3,573.5 368.5,572.1 368.7,571.3 368.9,571.2 369.0,571.9 369.2,573.3 369.4,575.3 369.6,577.7 369.8,580.5 370.0,583.5 370.2,586.3 370.4,588.8 370.6,590.8 370.8,592.2 371.0,592.8 371.2,592.8 371.4,591.9 371.6,590.4 371.8,588.4 372.0,586.0 372.2,583.4 372.4,580.7 372.6,578.2 372.8,576.1 373.0,574.4 373.2,573.2 373.4,572.6 373.6,572.7 373.8,573.3 374.0,574.4 374.2,576.0 374.4,578.0 374.6,580.1 374.8,582.4 374.9,584.6 375.1,586.7 375.3,588.5 375.5,589.9 375.7,590.8 375.9,591.2 376.1,591.0 376.3,590.2 376.5,588.7 376.7,586.7 376.9,584.3 377.1,581.5 377.3,578.6 377.5,575.7 377.7,573.1 377.9,570.9 378.1,569.3 378.3,568.5 378.5,568.6 378.7,569.7 378.9,571.6 379.1,574.4 379.3,577.8 379.5,581.6 379.7,585.5 379.9,589.4 380.1,592.7 380.3,595.4 380.5,597.2 380.7,598.0 380.8,597.6 381.0,596.2 381.2,593.8 381.4,590.5 381.6,586.7 381.8,582.7 382.0,578.6 382.2,574.8 382.4,571.6 382.6,569.2 382.8,567.7 383.0,567.2 383.2,567.7 383.4,569.1 383.6,571.3 383.8,574.0 384.0,577.2 384.2,580.6 384.4,583.9 384.6,586.9 384.8,589.5 385.0,591.5 385.2,592.8 385.4,593.3 385.6,593.1 385.8,592.2 386.0,590.7 386.2,588.6 386.4,586.0 386.6,583.3 386.7,580.4 386.9,577.6 387.1,575.1 387.3,573.0 387.5,571.4 387.7,570.5 387.9,570.3 388.1,570.8 388.3,572.1 388.5,574.1 388.7,576.7 388.9,579.6 389.1,582.9 389.3,586.1 389.5,589.1 389.7,591.7 389.9,593.6 390.1,594.8 390.3,595.1 390.5,594.5 390.7,593.0 390.9,590.8 391.1,587.9 391.3,584.6 391.5,581.2 391.7,577.9 391.9,574.9 392.1,572.4 392.3,570.6 392.5,569.7 392.6,569.6 392.8,570.3 393.0,571.8 393.2,573.9 393.4,576.4 393.6,579.1 393.8,581.8 394.0,584.4 394.2,586.6 394.4,588.4 394.6,589.6 394.8,590.2 395.0,590.2 395.2,589.6 395.4,588.6 395.6,587.2 395.8,585.6 396.0,583.8 396.2,582.0 396.4,580.4 396.6,578.9 396.8,577.6 397.0,576.7 397.2,576.1 397.4,575.9 397.6,576.1 397.8,576.7 398.0,577.5 398.2,578.6 398.4,579.9 398.5,581.4 398.7,582.8 398.9,584.3 399.1,585.6 399.3,586.6 399.5,587.4 399.7,587.8 399.9,587.8 400.1,587.4 400.3,586.6 400.5,585.5 400.7,584.1 400.9,582.5 401.1,580.9 401.3,579.4" fill="none" stroke="#3a8a50" stroke-width="0.85" stroke-opacity="0.9" stroke-linejoin="round"/>
<polyline points="47.5,579.7 47.9,579.2 48.3,578.7 48.7,578.2 49.1,577.8 49.5,577.4 49.9,577.1 50.3,576.9 50.6,576.7 51.0,576.6 51.4,576.6 51.8,576.6 52.2,576.6 52.6,576.7 53.0,576.8 53.4,577.0 53.8,577.2 54.2,577.4 54.6,577.6 55.0,577.8 55.4,578.0 55.8,578.3 56.2,578.5 56.6,578.7 56.9,578.8 57.3,579.0 57.7,579.2 58.1,579.4 58.5,579.5 58.9,579.7 59.3,579.9 59.7,580.0 60.1,580.2 60.5,580.4 60.9,580.7 61.3,580.9 61.7,581.2 62.1,581.5 62.5,581.8 62.8,582.2 63.2,582.5 63.6,582.9 64.0,583.3 64.4,583.6 64.8,584.0 65.2,584.3 65.6,584.6 66.0,584.9 66.4,585.1 66.8,585.3 67.2,585.4 67.6,585.5 68.0,585.5 68.4,585.4 68.8,585.2 69.1,585.0 69.5,584.7 69.9,584.3 70.3,583.9 70.7,583.5 71.1,583.0 71.5,582.4 71.9,581.9 72.3,581.3 72.7,580.8 73.1,580.3 73.5,579.7 73.9,579.2 74.3,578.8 74.7,578.4 75.0,578.0 75.4,577.7 75.8,577.5 76.2,577.3 76.6,577.1 77.0,577.1 77.4,577.0 77.8,577.0 78.2,577.1 78.6,577.1 79.0,577.2 79.4,577.3 79.8,577.4 80.2,577.6 80.6,577.7 81.0,577.8 81.3,578.0 81.7,578.1 82.1,578.2 82.5,578.3 82.9,578.4 83.3,578.5 83.7,578.6 84.1,578.8 84.5,578.9 84.9,579.1 85.3,579.2 85.7,579.4 86.1,579.7 86.5,579.9 86.9,580.2 87.2,580.5 87.6,580.9 88.0,581.3 88.4,581.7 88.8,582.1 89.2,582.5 89.6,583.0 90.0,583.4 90.4,583.8 90.8,584.2 91.2,584.6 91.6,584.9 92.0,585.2 92.4,585.4 92.8,585.5 93.2,585.6 93.5,585.6 93.9,585.6 94.3,585.5 94.7,585.3 95.1,585.0 95.5,584.7 95.9,584.3 96.3,583.9 96.7,583.4 97.1,582.9 97.5,582.4 97.9,581.8 98.3,581.3 98.7,580.8 99.1,580.3 99.4,579.9 99.8,579.4 100.2,579.0 100.6,578.7 101.0,578.4 101.4,578.1 101.8,577.9 102.2,577.8 102.6,577.7 103.0,577.6 103.4,577.5 103.8,577.5 104.2,577.5 104.6,577.5 105.0,577.6 105.4,577.6 105.7,577.6 106.1,577.7 106.5,577.7 106.9,577.8 107.3,577.8 107.7,577.8 108.1,577.9 108.5,577.9 108.9,577.9 109.3,578.0 109.7,578.1 110.1,578.2 110.5,578.3 110.9,578.5 111.3,578.7 111.6,578.9 112.0,579.2 112.4,579.5 112.8,579.8 113.2,580.2 113.6,580.7 114.0,581.1 114.4,581.6 114.8,582.1 115.2,582.6 115.6,583.1 116.0,583.5 116.4,584.0 116.8,584.4 117.2,584.8 117.6,585.1 117.9,585.3 118.3,585.5 118.7,585.7 119.1,585.8 119.5,585.8 119.9,585.7 120.3,585.6 120.7,585.3 121.1,585.1 121.5,584.7 121.9,584.4 122.3,583.9 122.7,583.5 123.1,583.0 123.5,582.5 123.8,582.0 124.2,581.5 124.6,581.0 125.0,580.6 125.4,580.1 125.8,579.7 126.2,579.3 126.6,579.0 127.0,578.7 127.4,578.4 127.8,578.2 128.2,578.0 128.6,577.8 129.0,577.6 129.4,577.5 129.8,577.3 130.1,577.2 130.5,577.1 130.9,577.0 131.3,576.9 131.7,576.8 132.1,576.7 132.5,576.6 132.9,576.5 133.3,576.4 133.7,576.3 134.1,576.2 134.5,576.2 134.9,576.2 135.3,576.3 135.7,576.4 136.0,576.5 136.4,576.8 136.8,577.1 137.2,577.4 137.6,577.8 138.0,578.3 138.4,578.9 138.8,579.5 139.2,580.2 139.6,580.9 140.0,581.6 140.4,582.4 140.8,583.2 141.2,584.0 141.6,584.7 142.0,585.5 142.3,586.2 142.7,586.8 143.1,587.4 143.5,587.9 143.9,588.3 144.3,588.6 144.7,588.8 145.1,589.0 145.5,589.0 145.9,588.9 146.3,588.8 146.7,588.6 147.1,588.3 147.5,587.9 147.9,587.4 148.2,586.9 148.6,586.3 149.0,585.6 149.4,585.0 149.8,584.3 150.2,583.5 150.6,582.8 151.0,582.0 151.4,581.3 151.8,580.5 152.2,579.8 152.6,579.1 153.0,578.3 153.4,577.6 153.8,577.0 154.2,576.1 154.5,575.3 154.9,574.5 155.3,573.7 155.7,573.0 156.1,572.3 156.5,571.7 156.9,571.2 157.3,570.7 157.7,570.3 158.1,570.0 158.5,569.8 158.9,569.7 159.3,569.7 159.7,569.8 160.1,570.0 160.4,570.4 160.8,570.8 161.2,571.3 161.6,571.9 162.0,572.5 162.4,573.3 162.8,574.1 163.2,575.1 163.6,576.0 164.0,577.1 164.4,578.2 164.8,579.3 165.2,580.5 165.6,581.6 166.0,582.8 166.4,584.0 166.7,585.2 167.1,586.3 167.5,587.4 167.9,588.5 168.3,589.5 168.7,590.4 169.1,591.3 169.5,592.1 169.9,592.8 170.3,593.4 170.7,593.9 171.1,594.3 171.5,594.5 171.9,594.7 172.3,594.8 172.6,594.8 173.0,594.7 173.4,594.5 173.8,594.2 174.2,593.7 174.6,593.0 175.0,592.2 175.4,591.3 175.8,590.3 176.2,589.1 176.6,587.8 177.0,586.4 177.4,584.9 177.8,583.4 178.2,581.7 178.6,580.0 178.9,578.3 179.3,576.5 179.7,574.7 180.1,573.0 180.5,571.2 180.9,569.5 181.3,567.9 181.7,566.3 182.1,564.8 182.5,563.5 182.9,562.2 183.3,561.1 183.7,560.2 184.1,559.4 184.5,558.8 184.8,558.4 185.2,558.2 185.6,558.2 186.0,558.4 186.4,558.8 186.8,559.4 187.2,560.2 187.6,561.2 188.0,562.4 188.4,563.9 188.8,565.5 189.2,567.2 189.6,569.2 190.0,571.3 190.4,573.5 190.8,575.8 191.1,578.2 191.5,580.7 191.9,583.2 192.3,585.8 192.7,588.3 193.1,590.9 193.5,593.3 193.9,595.8 194.3,598.1 194.7,600.3 195.1,602.4 195.5,604.3 195.9,606.0 196.3,607.6 196.7,608.9 197.0,610.0 197.4,610.8 197.8,611.4 198.2,611.7 198.6,611.7 199.0,611.5 199.4,610.9 199.8,610.1 200.2,609.0 200.6,607.6 201.0,606.0 201.4,604.1 201.8,602.0 202.2,599.6 202.6,597.1 203.0,594.3 203.3,591.4 203.7,588.4 204.1,585.3 204.5,582.0 204.9,578.7 205.3,575.4 205.7,572.1 206.1,568.8 206.5,565.6 206.9,562.5 207.3,559.5 207.7,556.6 208.1,553.9 208.5,551.5 208.9,549.2 209.2,547.2 209.6,545.5 210.0,544.1 210.4,543.0 210.8,542.2 211.2,541.8 211.6,541.8 212.0,542.2 212.4,543.0 212.8,544.1 213.2,545.5 213.6,547.3 214.0,549.3 214.4,551.6 214.8,554.2 215.2,557.1 215.5,560.1 215.9,563.4 216.3,566.8 216.7,570.3 217.1,574.0 217.5,577.7 217.9,581.4 218.3,585.2 218.7,588.9 219.1,592.6 219.5,596.2 219.9,599.6 220.3,602.9 220.7,606.0 221.1,608.9 221.4,611.6 221.8,614.0 222.2,616.0 222.6,617.8 223.0,619.3 223.4,620.4 223.8,621.2 224.2,621.6 224.6,621.6 225.0,621.2 225.4,620.4 225.8,619.3 226.2,617.8 226.6,616.0 227.0,614.0 227.4,611.6 227.7,608.9 228.1,606.0 228.5,602.9 228.9,599.6 229.3,596.2 229.7,592.6 230.1,588.9 230.5,585.2 230.9,581.4 231.3,577.7 231.7,574.0 232.1,570.3 232.5,566.8 232.9,563.4 233.3,560.1 233.6,557.1 234.0,554.2 234.4,551.6 234.8,549.3 235.2,547.3 235.6,545.5 236.0,544.1 236.4,543.0 236.8,542.2 237.2,541.8 237.6,541.8 238.0,542.2 238.4,543.0 238.8,544.1 239.2,545.5 239.6,547.2 239.9,549.2 240.3,551.5 240.7,553.9 241.1,556.6 241.5,559.5 241.9,562.5 242.3,565.6 242.7,568.8 243.1,572.1 243.5,575.4 243.9,578.7 244.3,582.0 244.7,585.3 245.1,588.4 245.5,591.4 245.8,594.3 246.2,597.1 246.6,599.6 247.0,602.0 247.4,604.1 247.8,606.0 248.2,607.6 248.6,609.0 249.0,610.1 249.4,610.9 249.8,611.5 250.2,611.7 250.6,611.7 251.0,611.4 251.4,610.8 251.8,610.0 252.1,608.9 252.5,607.6 252.9,606.0 253.3,604.3 253.7,602.4 254.1,600.3 254.5,598.1 254.9,595.8 255.3,593.3 255.7,590.9 256.1,588.3 256.5,585.8 256.9,583.2 257.3,580.7 257.7,578.2 258.0,575.8 258.4,573.5 258.8,571.3 259.2,569.2 259.6,567.2 260.0,565.5 260.4,563.9 260.8,562.4 261.2,561.2 261.6,560.2 262.0,559.4 262.4,558.8 262.8,558.4 263.2,558.2 263.6,558.2 264.0,558.4 264.3,558.8 264.7,559.4 265.1,560.2 265.5,561.1 265.9,562.2 266.3,563.5 266.7,564.8 267.1,566.3 267.5,567.9 267.9,569.5 268.3,571.2 268.7,573.0 269.1,574.7 269.5,576.5 269.9,578.3 270.2,580.0 270.6,581.7 271.0,583.4 271.4,584.9 271.8,586.4 272.2,587.8 272.6,589.1 273.0,590.3 273.4,591.3 273.8,592.2 274.2,593.0 274.6,593.7 275.0,594.2 275.4,594.5 275.8,594.7 276.2,594.8 276.5,594.8 276.9,594.7 277.3,594.5 277.7,594.3 278.1,593.9 278.5,593.4 278.9,592.8 279.3,592.1 279.7,591.3 280.1,590.4 280.5,589.5 280.9,588.5 281.3,587.4 281.7,586.3 282.1,585.2 282.4,584.0 282.8,582.8 283.2,581.6 283.6,580.5 284.0,579.3 284.4,578.2 284.8,577.1 285.2,576.0 285.6,575.1 286.0,574.1 286.4,573.3 286.8,572.5 287.2,571.9 287.6,571.3 288.0,570.8 288.4,570.4 288.7,570.0 289.1,569.8 289.5,569.7 289.9,569.7 290.3,569.8 290.7,570.0 291.1,570.3 291.5,570.7 291.9,571.2 292.3,571.7 292.7,572.3 293.1,573.0 293.5,573.7 293.9,574.5 294.3,575.3 294.6,576.1 295.0,577.0 295.4,578.8 295.8,579.8 296.2,580.7 296.6,581.5 297.0,582.3 297.4,583.0 297.8,583.7 298.2,584.3 298.6,584.8 299.0,585.3 299.4,585.7 299.8,586.0 300.2,586.3 300.6,586.6 300.9,586.8 301.3,586.9 301.7,587.1 302.1,587.1 302.5,587.2 302.9,587.2 303.3,587.2 303.7,587.2 304.1,587.2 304.5,587.1 304.9,587.0 305.3,586.8 305.7,586.6 306.1,586.4 306.5,586.1 306.8,585.7 307.2,585.3 307.6,584.9 308.0,584.4 308.4,583.8 308.8,583.2 309.2,582.6 309.6,581.9 310.0,581.3 310.4,580.6 310.8,579.8 311.2,579.1 311.6,578.5 312.0,577.8 312.4,577.2 312.8,576.6 313.1,576.1 313.5,575.7 313.9,575.3 314.3,575.0 314.7,574.8 315.1,574.7 315.5,574.7 315.9,574.7 316.3,574.9 316.7,575.1 317.1,575.3 317.5,575.6 317.9,576.0 318.3,576.4 318.7,576.8 319.0,577.2 319.4,577.7 319.8,578.2 320.2,578.7 320.6,579.1 321.0,579.6 321.4,580.0 321.8,580.4 322.2,580.8 322.6,581.1 323.0,581.4 323.4,581.7 323.8,581.9 324.2,582.1 324.6,582.3 325.0,582.5 325.3,582.6 325.7,582.8 326.1,582.9 326.5,583.1 326.9,583.2 327.3,583.4 327.7,583.5 328.1,583.7 328.5,583.8 328.9,584.0 329.3,584.1 329.7,584.2 330.1,584.3 330.5,584.4 330.9,584.5 331.2,584.6 331.6,584.6 332.0,584.6 332.4,584.5 332.8,584.4 333.2,584.2 333.6,583.9 334.0,583.6 334.4,583.3 334.8,582.9 335.2,582.4 335.6,581.9 336.0,581.4 336.4,580.8 336.8,580.3 337.2,579.7 337.5,579.2 337.9,578.6 338.3,578.1 338.7,577.6 339.1,577.2 339.5,576.9 339.9,576.6 340.3,576.3 340.7,576.2 341.1,576.1 341.5,576.0 341.9,576.1 342.3,576.2 342.7,576.3 343.1,576.5 343.4,576.8 343.8,577.1 344.2,577.4 344.6,577.7 345.0,578.0 345.4,578.4 345.8,578.7 346.2,579.0 346.6,579.3 347.0,579.6 347.4,579.9 347.8,580.1 348.2,580.4 348.6,580.6 349.0,580.8 349.4,581.0 349.7,581.2 350.1,581.3 350.5,581.5 350.9,581.7 351.3,581.9 351.7,582.1 352.1,582.3 352.5,582.5 352.9,582.8 353.3,583.0 353.7,583.3 354.1,583.5 354.5,583.8 354.9,584.0 355.3,584.3 355.6,584.5 356.0,584.7 356.4,584.8 356.8,585.0 357.2,585.0 357.6,585.0 358.0,585.0 358.4,584.9 358.8,584.7 359.2,584.5 359.6,584.2 360.0,583.8 360.4,583.4 360.8,583.0 361.2,582.5 361.6,581.9 361.9,581.4 362.3,580.8 362.7,580.2 363.1,579.7 363.5,579.1 363.9,578.6 364.3,578.1 364.7,577.7 365.1,577.3 365.5,577.0 365.9,576.8 366.3,576.6 366.7,576.4 367.1,576.4 367.5,576.4 367.8,576.4 368.2,576.5 368.6,576.7 369.0,576.9 369.4,577.1 369.8,577.3 370.2,577.6 370.6,577.8 371.0,578.1 371.4,578.3 371.8,578.6 372.2,578.8 372.6,579.0 373.0,579.2 373.4,579.4 373.8,579.6 374.1,579.8 374.5,580.0 374.9,580.2 375.3,580.3 375.7,580.5 376.1,580.7 376.5,580.9 376.9,581.2 377.3,581.4 377.7,581.7 378.1,582.0 378.5,582.3 378.9,582.6 379.3,582.9 379.7,583.3 380.0,583.6 380.4,583.9 380.8,584.3 381.2,584.6 381.6,584.8 382.0,585.0 382.4,585.2 382.8,585.3 383.2,585.4 383.6,585.4 384.0,585.3 384.4,585.1 384.8,584.9 385.2,584.6 385.6,584.3 386.0,583.9 386.3,583.4 386.7,582.9 387.1,582.4 387.5,581.9 387.9,581.3 388.3,580.7 388.7,580.2 389.1,579.7 389.5,579.2 389.9,578.7 390.3,578.3 390.7,577.9 391.1,577.6 391.5,577.3 391.9,577.1 392.2,576.9 392.6,576.8 393.0,576.8 393.4,576.8 393.8,576.9 394.2,576.9 394.6,577.1 395.0,577.2 395.4,577.4 395.8,577.5 396.2,577.7 396.6,577.9 397.0,578.0 397.4,578.2 397.8,578.3 398.2,578.5 398.5,578.6 398.9,578.8 399.3,578.9 399.7,579.0 400.1,579.2 400.5,579.3 400.9,579.5 401.3,579.7" fill="none" stroke="#eba036" stroke-width="1.25" stroke-linejoin="round"/>
<polyline points="47.5,558.9 47.9,557.5 48.3,556.3 48.7,555.3 49.1,554.6 49.5,554.1 49.9,554.0 50.3,554.1 50.6,554.6 51.0,555.3 51.4,556.2 51.8,557.2 52.2,558.2 52.6,559.2 53.0,560.2 53.4,561.1 53.8,561.8 54.2,562.3 54.6,562.6 55.0,562.7 55.4,562.7 55.8,562.5 56.2,562.3 56.5,561.9 56.9,561.5 57.3,561.1 57.7,560.8 58.1,560.5 58.5,560.3 58.9,560.3 59.3,560.5 59.7,560.9 60.1,561.4 60.5,562.2 60.9,563.1 61.3,564.2 61.7,565.3 62.1,566.5 62.4,567.7 62.8,568.9 63.2,570.0 63.6,571.1 64.0,572.1 64.4,572.9 64.8,573.7 65.2,574.3 65.6,574.8 66.0,575.2 66.4,575.4 66.8,575.7 67.2,575.8 67.6,575.9 68.0,575.9 68.3,575.9 68.7,576.0 69.1,576.0 69.5,576.0 69.9,576.2 70.3,576.3 70.7,576.5 71.1,576.7 71.5,577.0 71.9,577.3 72.3,577.6 72.7,577.9 73.1,578.2 73.5,578.5 73.9,578.8 74.2,579.0 74.6,579.2 75.0,579.4 75.4,579.5 75.8,579.5 76.2,579.6 76.6,579.5 77.0,579.5 77.4,579.4 77.8,579.2 78.2,579.0 78.6,578.8 79.0,578.5 79.4,578.2 79.8,577.9 80.1,577.6 80.5,577.2 80.9,576.9 81.3,576.5 81.7,576.2 82.1,575.9 82.5,575.7 82.9,575.5 83.3,575.3 83.7,575.0 84.1,574.6 84.5,574.2 84.9,573.8 85.3,573.4 85.7,573.1 86.0,572.7 86.4,572.3 86.8,572.0 87.2,571.6 87.6,571.1 88.0,570.6 88.4,570.1 88.8,569.5 89.2,568.9 89.6,568.3 90.0,567.7 90.4,567.2 90.8,566.8 91.2,566.3 91.6,565.9 91.9,565.6 92.3,565.5 92.7,565.5 93.1,565.6 93.5,565.8 93.9,566.2 94.3,566.7 94.7,567.4 95.1,568.1 95.5,568.8 95.9,569.6 96.3,570.4 96.7,571.1 97.1,571.8 97.5,572.4 97.8,572.9 98.2,573.3 98.6,573.5 99.0,573.6 99.4,573.6 99.8,573.5 100.2,573.3 100.6,573.0 101.0,572.7 101.4,572.4 101.8,572.1 102.2,571.8 102.6,571.7 103.0,571.6 103.4,571.6 103.7,571.7 104.1,571.9 104.5,572.2 104.9,572.5 105.3,572.9 105.7,573.3 106.1,573.7 106.5,574.1 106.9,574.5 107.3,574.8 107.7,575.1 108.1,575.3 108.5,575.4 108.9,575.5 109.3,575.4 109.6,575.3 110.0,575.1 110.4,574.8 110.8,574.4 111.2,573.9 111.6,573.3 112.0,572.7 112.4,572.0 112.8,571.3 113.2,570.5 113.6,569.8 114.0,569.1 114.4,568.5 114.8,568.0 115.2,567.7 115.5,567.4 115.9,567.3 116.3,567.4 116.7,567.6 117.1,567.9 117.5,568.4 117.9,568.9 118.3,569.6 118.7,570.2 119.1,570.9 119.5,571.6 119.9,572.2 120.3,572.7 120.7,573.2 121.1,573.5 121.4,573.8 121.8,573.9 122.2,574.0 122.6,574.0 123.0,574.0 123.4,573.9 123.8,573.8 124.2,573.7 124.6,573.6 125.0,573.4 125.4,573.2 125.8,573.1 126.2,573.0 126.6,573.0 127.0,573.0 127.3,573.2 127.7,573.3 128.1,573.6 128.5,573.8 128.9,574.1 129.3,574.4 129.7,574.7 130.1,575.0 130.5,575.2 130.9,575.4 131.3,575.4 131.7,575.4 132.1,575.4 132.5,575.2 132.9,574.9 133.2,574.6 133.6,574.2 134.0,573.7 134.4,573.2 134.8,572.7 135.2,572.2 135.6,571.7 136.0,571.2 136.4,570.8 136.8,570.4 137.2,570.2 137.6,570.0 138.0,570.0 138.4,570.0 138.8,570.1 139.1,570.3 139.5,570.6 139.9,570.9 140.3,571.3 140.7,571.7 141.1,572.0 141.5,572.3 141.9,572.6 142.3,572.8 142.7,572.9 143.1,572.9 143.5,572.9 143.9,572.7 144.3,572.5 144.7,572.2 145.0,571.8 145.4,571.4 145.8,571.0 146.2,570.5 146.6,570.1 147.0,569.8 147.4,569.5 147.8,569.3 148.2,569.2 148.6,569.2 149.0,569.3 149.4,569.6 149.8,569.9 150.2,570.3 150.6,570.7 150.9,571.3 151.3,571.8 151.7,572.3 152.1,572.8 152.5,573.2 152.9,573.6 153.3,573.9 153.7,574.0 154.1,574.1 154.5,574.0 154.9,573.9 155.3,573.6 155.7,573.2 156.1,572.7 156.5,572.2 156.8,571.7 157.2,571.1 157.6,570.6 158.0,570.1 158.4,569.7 158.8,569.4 159.2,569.1 159.6,569.0 160.0,569.0 160.4,569.1 160.8,569.2 161.2,569.5 161.6,569.8 162.0,570.2 162.4,570.6 162.7,571.0 163.1,571.4 163.5,571.7 163.9,572.0 164.3,572.2 164.7,572.3 165.1,572.3 165.5,572.2 165.9,572.0 166.3,571.8 166.7,571.4 167.1,571.0 167.5,570.6 167.9,570.1 168.3,569.7 168.6,569.3 169.0,568.9 169.4,568.6 169.8,568.4 170.2,568.3 170.6,568.3 171.0,568.5 171.4,568.7 171.8,569.0 172.2,569.5 172.6,570.0 173.0,570.5 173.4,571.1 173.8,571.6 174.2,572.2 174.5,572.7 174.9,573.1 175.3,573.5 175.7,573.8 176.1,573.9 176.5,574.0 176.9,574.0 177.3,573.8 177.7,573.6 178.1,573.3 178.5,572.9 178.9,572.5 179.3,572.2 179.7,571.8 180.1,571.4 180.4,571.1 180.8,570.9 181.2,570.7 181.6,570.7 182.0,570.7 182.4,570.8 182.8,571.0 183.2,571.3 183.6,571.6 184.0,572.0 184.4,572.4 184.8,572.8 185.2,573.2 185.6,573.5 186.0,573.7 186.3,573.9 186.7,574.0 187.1,574.0 187.5,573.9 187.9,573.7 188.3,573.4 188.7,573.0 189.1,572.5 189.5,572.0 189.9,571.5 190.3,571.0 190.7,570.4 191.1,569.9 191.5,569.5 191.9,569.1 192.2,568.8 192.6,568.6 193.0,568.6 193.4,568.6 193.8,568.7 194.2,568.9 194.6,569.2 195.0,569.5 195.4,569.9 195.8,570.3 196.2,570.7 196.6,571.1 197.0,571.5 197.4,571.7 197.8,571.9 198.1,572.0 198.5,572.0 198.9,571.8 199.3,571.6 199.7,571.3 200.1,570.9 200.5,570.4 200.9,569.9 201.3,569.4 201.7,568.9 202.1,568.4 202.5,568.0 202.9,567.7 203.3,567.4 203.7,567.3 204.0,567.3 204.4,567.4 204.8,567.7 205.2,568.0 205.6,568.5 206.0,569.0 206.4,569.6 206.8,570.1 207.2,570.7 207.6,571.2 208.0,571.6 208.4,571.9 208.8,572.1 209.2,572.2 209.6,572.2 209.9,571.9 210.3,571.6 210.7,571.1 211.1,570.5 211.5,569.9 211.9,569.2 212.3,568.4 212.7,567.7 213.1,567.0 213.5,566.4 213.9,565.9 214.3,565.5 214.7,565.2 215.1,565.1 215.5,565.2 215.8,565.3 216.2,565.6 216.6,566.0 217.0,566.5 217.4,567.0 217.8,567.6 218.2,568.1 218.6,568.7 219.0,569.1 219.4,569.5 219.8,569.7 220.2,569.9 220.6,569.9 221.0,569.8 221.4,569.6 221.7,569.4 222.1,569.0 222.5,568.6 222.9,568.1 223.3,567.7 223.7,567.3 224.1,566.9 224.5,566.7 224.9,566.5 225.3,566.4 225.7,566.5 226.1,566.7 226.5,567.0 226.9,567.4 227.3,568.0 227.6,568.6 228.0,569.3 228.4,570.0 228.8,570.7 229.2,571.4 229.6,572.0 230.0,572.6 230.4,573.1 230.8,573.5 231.2,573.8 231.6,574.0 232.0,574.0 232.4,574.0 232.8,573.8 233.2,573.6 233.5,573.4 233.9,573.0 234.3,572.7 234.7,572.4 235.1,572.1 235.5,571.8 235.9,571.6 236.3,571.4 236.7,571.4 237.1,571.4 237.5,571.5 237.9,571.7 238.3,571.9 238.7,572.2 239.1,572.6 239.4,573.0 239.8,573.3 240.2,573.7 240.6,574.0 241.0,574.3 241.4,574.5 241.8,574.6 242.2,574.6 242.6,574.6 243.0,574.4 243.4,574.2 243.8,573.9 244.2,573.5 244.6,573.0 245.0,572.5 245.3,572.0 245.7,571.5 246.1,571.0 246.5,570.5 246.9,570.1 247.3,569.8 247.7,569.5 248.1,569.4 248.5,569.3 248.9,569.4 249.3,569.5 249.7,569.7 250.1,570.0 250.5,570.4 250.9,570.7 251.2,571.1 251.6,571.5 252.0,571.9 252.4,572.2 252.8,572.4 253.2,572.5 253.6,572.6 254.0,572.5 254.4,572.4 254.8,572.1 255.2,571.8 255.6,571.3 256.0,570.9 256.4,570.4 256.8,569.9 257.1,569.4 257.5,569.0 257.9,568.6 258.3,568.3 258.7,568.1 259.1,568.1 259.5,568.1 259.9,568.3 260.3,568.6 260.7,569.0 261.1,569.4 261.5,569.9 261.9,570.4 262.3,571.0 262.7,571.5 263.0,571.9 263.4,572.3 263.8,572.5 264.2,572.7 264.6,572.7 265.0,572.5 265.4,572.3 265.8,571.9 266.2,571.4 266.6,570.8 267.0,570.2 267.4,569.5 267.8,568.8 268.2,568.2 268.6,567.6 268.9,567.1 269.3,566.7 269.7,566.5 270.1,566.4 270.5,566.4 270.9,566.5 271.3,566.7 271.7,567.1 272.1,567.6 272.5,568.1 272.9,568.6 273.3,569.2 273.7,569.7 274.1,570.2 274.5,570.6 274.8,571.0 275.2,571.2 275.6,571.4 276.0,571.4 276.4,571.3 276.8,571.2 277.2,571.0 277.6,570.7 278.0,570.4 278.4,570.1 278.8,569.8 279.2,569.5 279.6,569.3 280.0,569.2 280.4,569.1 280.7,569.2 281.1,569.4 281.5,569.6 281.9,570.0 282.3,570.4 282.7,571.0 283.1,571.5 283.5,572.1 283.9,572.7 284.3,573.3 284.7,573.9 285.1,574.4 285.5,574.9 285.9,575.2 286.3,575.5 286.6,575.7 287.0,575.8 287.4,575.9 287.8,575.8 288.2,575.7 288.6,575.5 289.0,575.3 289.4,575.0 289.8,574.7 290.2,574.5 290.6,574.3 291.0,574.1 291.4,573.9 291.8,573.8 292.2,573.8 292.5,573.9 292.9,573.9 293.3,574.1 293.7,574.3 294.1,574.5 294.5,574.8 294.9,575.0 295.3,575.3 295.7,575.5 296.1,575.7 296.5,575.9 296.9,576.0 297.3,576.1 297.7,576.1 298.1,576.0 298.4,575.8 298.8,575.6 299.2,575.4 299.6,575.1 300.0,574.7 300.4,574.4 300.8,574.0 301.2,573.6 301.6,573.3 302.0,573.0 302.4,572.8 302.8,572.6 303.2,572.5 303.6,572.5 304.0,572.6 304.3,572.7 304.7,572.9 305.1,573.2 305.5,573.5 305.9,573.8 306.3,574.1 306.7,574.5 307.1,574.8 307.5,575.1 307.9,575.3 308.3,575.5 308.7,575.6 309.1,575.7 309.5,575.6 309.9,575.6 310.2,575.4 310.6,575.2 311.0,574.9 311.4,574.7 311.8,574.4 312.2,574.1 312.6,573.9 313.0,573.6 313.4,573.5 313.8,573.3 314.2,573.3 314.6,573.3 315.0,573.4 315.4,573.6 315.8,573.8 316.1,574.1 316.5,574.4 316.9,574.7 317.3,575.0 317.7,575.4 318.1,575.6 318.5,575.9 318.9,576.1 319.3,576.2 319.7,576.2 320.1,576.2 320.5,576.1 320.9,575.9 321.3,575.6 321.7,575.2 322.0,574.9 322.4,574.5 322.8,574.0 323.2,573.6 323.6,573.2 324.0,572.8 324.4,572.5 324.8,572.3 325.2,572.1 325.6,572.0 326.0,572.0 326.4,572.1 326.8,572.2 327.2,572.4 327.6,572.7 327.9,573.0 328.3,573.3 328.7,573.6 329.1,573.9 329.5,574.1 329.9,574.3 330.3,574.5 330.7,574.6 331.1,574.6 331.5,574.5 331.9,574.4 332.3,574.2 332.7,574.0 333.1,573.7 333.5,573.4 333.8,573.1 334.2,572.8 334.6,572.6 335.0,572.3 335.4,572.2 335.8,572.1 336.2,572.1 336.6,572.1 337.0,572.3 337.4,572.5 337.8,572.8 338.2,573.1 338.6,573.5 339.0,574.0 339.4,574.4 339.7,574.8 340.1,575.2 340.5,575.6 340.9,575.9 341.3,576.1 341.7,576.3 342.1,576.3 342.5,576.3 342.9,576.2 343.3,576.1 343.7,575.9 344.1,575.6 344.5,575.3 344.9,575.0 345.3,574.7 345.6,574.4 346.0,574.1 346.4,573.9 346.8,573.7 347.2,573.6 347.6,573.5 348.0,573.6 348.4,573.7 348.8,573.8 349.2,574.0 349.6,574.3 350.0,574.5 350.4,574.8 350.8,575.1 351.2,575.3 351.5,575.5 351.9,575.7 352.3,575.8 352.7,575.9 353.1,575.8 353.5,575.7 353.9,575.6 354.3,575.4 354.7,575.1 355.1,574.8 355.5,574.5 355.9,574.1 356.3,573.8 356.7,573.5 357.1,573.2 357.4,573.0 357.8,572.8 358.2,572.7 358.6,572.7 359.0,572.7 359.4,572.9 359.8,573.0 360.2,573.2 360.6,573.5 361.0,573.7 361.4,574.0 361.8,574.3 362.2,574.6 362.6,574.8 363.0,575.1 363.3,575.2 363.7,575.3 364.1,575.3 364.5,575.2 364.9,575.1 365.3,574.8 365.7,574.5 366.1,574.2 366.5,573.7 366.9,573.3 367.3,572.8 367.7,572.3 368.1,571.8 368.5,571.4 368.9,571.1 369.2,570.8 369.6,570.6 370.0,570.5 370.4,570.5 370.8,570.6 371.2,570.8 371.6,571.0 372.0,571.3 372.4,571.7 372.8,572.0 373.2,572.3 373.6,572.6 374.0,572.8 374.4,573.0 374.8,573.0 375.1,572.9 375.5,572.7 375.9,572.4 376.3,571.9 376.7,571.4 377.1,570.7 377.5,570.0 377.9,569.3 378.3,568.5 378.7,567.8 379.1,567.2 379.5,566.6 379.9,566.1 380.3,565.8 380.7,565.6 381.0,565.6 381.4,565.7 381.8,565.9 382.2,566.2 382.6,566.7 383.0,567.2 383.4,567.7 383.8,568.3 384.2,568.8 384.6,569.4 385.0,569.8 385.4,570.2 385.8,570.5 386.2,570.7 386.6,570.7 386.9,570.7 387.3,570.5 387.7,570.3 388.1,570.0 388.5,569.7 388.9,569.4 389.3,569.1 389.7,568.8 390.1,568.6 390.5,568.4 390.9,568.4 391.3,568.5 391.7,568.7 392.1,569.0 392.5,569.4 392.8,569.9 393.2,570.4 393.6,571.1 394.0,571.7 394.4,572.4 394.8,573.1 395.2,573.7 395.6,574.3 396.0,574.8 396.4,575.2 396.8,575.6 397.2,575.8 397.6,576.0 398.0,576.1 398.4,576.1 398.7,576.0 399.1,576.0 399.5,575.8 399.9,575.7 400.3,575.6 400.7,575.6 401.1,575.5" fill="none" stroke="#2a7d3c" stroke-width="1.4" stroke-linejoin="round"/>
<polyline points="47.5,584.9 48.7,584.8 49.9,584.7 51.0,584.5 52.2,584.4 53.4,584.3 54.6,584.2 55.8,584.1 56.9,584.0 58.1,583.9 59.3,583.8 60.5,583.7 61.7,583.6 62.8,583.5 64.0,583.4 65.2,583.4 66.4,583.3 67.6,583.2 68.8,583.1 69.9,583.0 71.1,583.0 72.3,582.9 73.5,582.8 74.7,582.8 75.8,582.7 77.0,582.7 78.2,582.6 79.4,582.6 80.6,582.5 81.7,582.5 82.9,582.4 84.1,582.4 85.3,582.4 86.5,582.3 87.6,582.3 88.8,582.3 90.0,582.3 91.2,582.2 92.4,582.2 93.5,582.2 94.7,582.2 95.9,582.2 97.1,582.2 98.3,582.2 99.4,582.2 100.6,582.2 101.8,582.3 103.0,582.3 104.2,582.3 105.4,582.3 106.5,582.4 107.7,582.4 108.9,582.5 110.1,582.5 111.3,582.6 112.4,582.6 113.6,582.7 114.8,582.7 116.0,582.8 117.2,582.8 118.3,582.9 119.5,582.9 120.7,583.0 121.9,583.0 123.1,583.0 124.2,583.1 125.4,583.1 126.6,583.1 127.8,583.2 129.0,583.2 130.1,583.2 131.3,583.2 132.5,583.2 133.7,583.2 134.9,583.1 136.0,583.0 137.2,582.9 138.4,582.8 139.6,582.7 140.8,582.5 142.0,582.3 143.1,582.1 144.3,581.9 145.5,581.7 146.7,581.5 147.9,581.2 149.0,581.0 150.2,580.7 151.4,580.4 152.6,580.1 153.8,579.9 154.9,579.6 156.1,579.3 157.3,579.0 158.5,578.7 159.7,578.4 160.8,578.1 162.0,577.8 163.2,577.5 164.4,577.2 165.6,576.9 166.7,576.7 167.9,576.4 169.1,576.1 170.3,575.9 171.5,575.7 172.6,575.4 173.8,575.2 175.0,574.9 176.2,574.6 177.4,574.3 178.6,574.0 179.7,573.7 180.9,573.4 182.1,573.1 183.3,572.9 184.5,572.6 185.6,572.3 186.8,572.0 188.0,571.8 189.2,571.6 190.4,571.3 191.5,571.2 192.7,571.0 193.9,570.9 195.1,570.8 196.3,570.7 197.4,570.7 198.6,570.7 199.8,570.8 201.0,570.9 202.2,571.1 203.3,571.3 204.5,571.6 205.7,571.8 206.9,572.1 208.1,572.5 209.2,572.8 210.4,573.2 211.6,573.6 212.8,574.0 214.0,574.4 215.2,574.8 216.3,575.2 217.5,575.6 218.7,576.0 219.9,576.4 221.1,576.8 222.2,577.1 223.4,577.5 224.6,577.7 225.8,578.0 227.0,578.3 228.1,578.7 229.3,579.0 230.5,579.3 231.7,579.7 232.9,580.0 234.0,580.4 235.2,580.7 236.4,581.1 237.6,581.4 238.8,581.8 239.9,582.1 241.1,582.5 242.3,582.8 243.5,583.2 244.7,583.5 245.8,583.9 247.0,584.2 248.2,584.5 249.4,584.8 250.6,585.1 251.8,585.4 252.9,585.7 254.1,586.0 255.3,586.2 256.5,586.4 257.7,586.7 258.8,586.9 260.0,587.0 261.2,587.2 262.4,587.3 263.6,587.5 264.7,587.6 265.9,587.6 267.1,587.7 268.3,587.7 269.5,587.7 270.6,587.7 271.8,587.6 273.0,587.6 274.2,587.5 275.4,587.5 276.5,587.4 277.7,587.3 278.9,587.2 280.1,587.1 281.3,587.0 282.4,586.8 283.6,586.7 284.8,586.6 286.0,586.4 287.2,586.2 288.4,586.1 289.5,585.9 290.7,585.7 291.9,585.6 293.1,585.4 294.3,585.2 295.4,585.0 296.6,584.9 297.8,584.7 299.0,584.5 300.2,584.3 301.3,584.2 302.5,584.0 303.7,583.8 304.9,583.7 306.1,583.5 307.2,583.3 308.4,583.2 309.6,583.1 310.8,582.9 312.0,582.8 313.1,582.7 314.3,582.6 315.5,582.4 316.7,582.3 317.9,582.2 319.0,582.1 320.2,581.9 321.4,581.8 322.6,581.7 323.8,581.5 325.0,581.4 326.1,581.2 327.3,581.1 328.5,581.0 329.7,580.8 330.9,580.7 332.0,580.6 333.2,580.4 334.4,580.3 335.6,580.2 336.8,580.0 337.9,579.9 339.1,579.8 340.3,579.6 341.5,579.5 342.7,579.4 343.8,579.3 345.0,579.1 346.2,579.0 347.4,578.9 348.6,578.8 349.7,578.7 350.9,578.6 352.1,578.5 353.3,578.4 354.5,578.3 355.6,578.2 356.8,578.2 358.0,578.1 359.2,578.0 360.4,578.0 361.6,577.9 362.7,577.9 363.9,577.8 365.1,577.8 366.3,577.7 367.5,577.7 368.6,577.7 369.8,577.7 371.0,577.7 372.2,577.7 373.4,577.7 374.5,577.7 375.7,577.7 376.9,577.7 378.1,577.7 379.3,577.7 380.4,577.7 381.6,577.7 382.8,577.7 384.0,577.7 385.2,577.7 386.3,577.7 387.5,577.7 388.7,577.7 389.9,577.7 391.1,577.7 392.2,577.7 393.4,577.7 394.6,577.7 395.8,577.7 397.0,577.7 398.2,577.7 399.3,577.7 400.5,577.7" fill="none" stroke="#e53535" stroke-width="1.8" stroke-linejoin="round"/>
<line x1="47.50" y1="542.80" x2="47.50" y2="622.70" stroke="#8a8a8a" stroke-width="1.5"/>
<line x1="401.30" y1="542.80" x2="401.30" y2="622.70" stroke="#8a8a8a" stroke-width="1.5"/>
<line x1="46.75" y1="622.00" x2="402.05" y2="622.00" stroke="#8a8a8a" stroke-width="1.5"/>
<line x1="47.50" y1="544.30" x2="51.90" y2="544.30" stroke="#8a8a8a" stroke-width="1.3"/>
<line x1="47.50" y1="580.70" x2="51.90" y2="580.70" stroke="#8a8a8a" stroke-width="1.3"/>
<line x1="47.50" y1="617.10" x2="51.90" y2="617.10" stroke="#8a8a8a" stroke-width="1.3"/>
<line x1="401.30" y1="556.10" x2="396.90" y2="556.10" stroke="#8a8a8a" stroke-width="1.3"/>
<line x1="401.30" y1="581.80" x2="396.90" y2="581.80" stroke="#8a8a8a" stroke-width="1.3"/>
<line x1="401.30" y1="607.60" x2="396.90" y2="607.60" stroke="#8a8a8a" stroke-width="1.3"/>
<line x1="47.50" y1="622.00" x2="47.50" y2="617.60" stroke="#8a8a8a" stroke-width="1.3"/>
<line x1="135.95" y1="622.00" x2="135.95" y2="617.60" stroke="#8a8a8a" stroke-width="1.3"/>
<line x1="224.40" y1="622.00" x2="224.40" y2="617.60" stroke="#8a8a8a" stroke-width="1.3"/>
<line x1="312.85" y1="622.00" x2="312.85" y2="617.60" stroke="#8a8a8a" stroke-width="1.3"/>
<line x1="401.30" y1="622.00" x2="401.30" y2="617.60" stroke="#8a8a8a" stroke-width="1.3"/>
<text x="45.00" y="548.90" font-size="10.8" text-anchor="end" fill="#262626" stroke="#262626" stroke-width="0.1">50</text>
<text x="45.00" y="585.30" font-size="10.8" text-anchor="end" fill="#262626" stroke="#262626" stroke-width="0.1">0</text>
<text x="45.00" y="621.70" font-size="10.8" text-anchor="end" fill="#262626" stroke="#262626" stroke-width="0.1">-<tspan dx="0.5">50</tspan></text>
<text x="406.40" y="560.70" font-size="10.8" text-anchor="start" fill="#2b7a37" stroke="#2b7a37" stroke-width="0.1">1</text>
<text x="406.40" y="586.40" font-size="10.8" text-anchor="start" fill="#2b7a37" stroke="#2b7a37" stroke-width="0.1">0</text>
<text x="406.40" y="612.20" font-size="10.8" text-anchor="start" fill="#2b7a37" stroke="#2b7a37" stroke-width="0.1">-<tspan dx="0.5">1</tspan></text>
<text x="46.70" y="635.30" font-size="10.8" text-anchor="middle" fill="#262626" stroke="#262626" stroke-width="0.1">-<tspan dx="0.5">0.5</tspan></text>
<text x="135.15" y="635.30" font-size="10.8" text-anchor="middle" fill="#262626" stroke="#262626" stroke-width="0.1">-<tspan dx="0.5">0.25</tspan></text>
<text x="223.60" y="635.30" font-size="10.8" text-anchor="middle" fill="#262626" stroke="#262626" stroke-width="0.1">0</text>
<text x="312.05" y="635.30" font-size="10.8" text-anchor="middle" fill="#262626" stroke="#262626" stroke-width="0.1">0.25</text>
<text x="400.50" y="635.30" font-size="10.8" text-anchor="middle" fill="#262626" stroke="#262626" stroke-width="0.1">0.5</text>
<text x="224.20" y="532.90" font-size="12.5" text-anchor="middle" fill="#262626" stroke="#262626" stroke-width="0.25">SUB</text>
<text x="225.20" y="649.50" font-size="13" text-anchor="middle" fill="#262626" stroke="#262626" stroke-width="0.25">Time [s]</text>
<text x="22.80" y="582.80" font-size="13" text-anchor="middle" fill="#262626" stroke="#262626" stroke-width="0.25" transform="rotate(-90 22.80 582.80)">Amplitude [μV]</text>
<text x="421.10" y="584.60" font-size="13" text-anchor="middle" fill="#2b7a37" stroke="#2b7a37" stroke-width="0.25" transform="rotate(90 421.10 584.60)">Amplitude [μV]</text>
<line x1="512.00" y1="435.46" x2="670.30" y2="435.46" stroke="#555555" stroke-width="0.9"/>
<rect x="513.15" y="433.33" width="3.78" height="2.13" fill="#e8952f" stroke="#e8952f" stroke-width="0.5" stroke-opacity="0.75"/>
<rect x="517.43" y="408.18" width="3.78" height="27.28" fill="#e8952f" stroke="#e8952f" stroke-width="0.5" stroke-opacity="0.75"/>
<rect x="521.71" y="410.08" width="3.78" height="25.38" fill="#e8952f" stroke="#e8952f" stroke-width="0.5" stroke-opacity="0.75"/>
<rect x="525.99" y="384.94" width="3.78" height="50.52" fill="#e8952f" stroke="#e8952f" stroke-width="0.5" stroke-opacity="0.75"/>
<rect x="530.27" y="435.46" width="3.78" height="0.00" fill="#e8952f" stroke="#e8952f" stroke-width="0.5" stroke-opacity="0.75"/>
<rect x="534.55" y="435.46" width="3.78" height="1.78" fill="#e8952f" stroke="#e8952f" stroke-width="0.5" stroke-opacity="0.75"/>
<rect x="538.83" y="416.01" width="3.78" height="19.45" fill="#e8952f" stroke="#e8952f" stroke-width="0.5" stroke-opacity="0.75"/>
<rect x="543.11" y="401.30" width="3.78" height="34.16" fill="#e8952f" stroke="#e8952f" stroke-width="0.5" stroke-opacity="0.75"/>
<rect x="547.39" y="435.46" width="3.78" height="26.57" fill="#e8952f" stroke="#e8952f" stroke-width="0.5" stroke-opacity="0.75"/>
<rect x="551.67" y="435.46" width="3.78" height="18.50" fill="#e8952f" stroke="#e8952f" stroke-width="0.5" stroke-opacity="0.75"/>
<rect x="555.96" y="425.97" width="3.78" height="9.49" fill="#e8952f" stroke="#e8952f" stroke-width="0.5" stroke-opacity="0.75"/>
<rect x="560.24" y="421.47" width="3.78" height="13.99" fill="#e8952f" stroke="#e8952f" stroke-width="0.5" stroke-opacity="0.75"/>
<rect x="564.52" y="435.46" width="3.78" height="41.98" fill="#e8952f" stroke="#e8952f" stroke-width="0.5" stroke-opacity="0.75"/>
<rect x="568.80" y="434.99" width="3.78" height="0.47" fill="#e8952f" stroke="#e8952f" stroke-width="0.5" stroke-opacity="0.75"/>
<rect x="573.08" y="435.46" width="3.78" height="47.44" fill="#e8952f" stroke="#e8952f" stroke-width="0.5" stroke-opacity="0.75"/>
<rect x="577.36" y="435.46" width="3.78" height="16.13" fill="#e8952f" stroke="#e8952f" stroke-width="0.5" stroke-opacity="0.75"/>
<rect x="581.64" y="421.70" width="3.78" height="13.76" fill="#e8952f" stroke="#e8952f" stroke-width="0.5" stroke-opacity="0.75"/>
<rect x="585.92" y="435.46" width="3.78" height="37.00" fill="#e8952f" stroke="#e8952f" stroke-width="0.5" stroke-opacity="0.75"/>
<rect x="590.20" y="435.46" width="3.78" height="37.48" fill="#e8952f" stroke="#e8952f" stroke-width="0.5" stroke-opacity="0.75"/>
<rect x="594.48" y="435.46" width="3.78" height="16.13" fill="#e8952f" stroke="#e8952f" stroke-width="0.5" stroke-opacity="0.75"/>
<rect x="598.76" y="435.46" width="3.78" height="33.92" fill="#e8952f" stroke="#e8952f" stroke-width="0.5" stroke-opacity="0.75"/>
<rect x="603.04" y="435.46" width="3.78" height="2.85" fill="#e8952f" stroke="#e8952f" stroke-width="0.5" stroke-opacity="0.75"/>
<rect x="607.32" y="435.46" width="3.78" height="9.73" fill="#e8952f" stroke="#e8952f" stroke-width="0.5" stroke-opacity="0.75"/>
<rect x="611.60" y="431.90" width="3.78" height="3.56" fill="#e8952f" stroke="#e8952f" stroke-width="0.5" stroke-opacity="0.75"/>
<rect x="615.88" y="428.34" width="3.78" height="7.12" fill="#e8952f" stroke="#e8952f" stroke-width="0.5" stroke-opacity="0.75"/>
<rect x="620.16" y="412.21" width="3.78" height="23.25" fill="#e8952f" stroke="#e8952f" stroke-width="0.5" stroke-opacity="0.75"/>
<rect x="624.44" y="420.04" width="3.78" height="15.42" fill="#e8952f" stroke="#e8952f" stroke-width="0.5" stroke-opacity="0.75"/>
<rect x="628.73" y="435.46" width="3.78" height="24.67" fill="#e8952f" stroke="#e8952f" stroke-width="0.5" stroke-opacity="0.75"/>
<rect x="633.01" y="435.46" width="3.78" height="26.09" fill="#e8952f" stroke="#e8952f" stroke-width="0.5" stroke-opacity="0.75"/>
<rect x="637.29" y="419.09" width="3.78" height="16.37" fill="#e8952f" stroke="#e8952f" stroke-width="0.5" stroke-opacity="0.75"/>
<rect x="641.57" y="435.46" width="3.78" height="14.23" fill="#e8952f" stroke="#e8952f" stroke-width="0.5" stroke-opacity="0.75"/>
<rect x="645.85" y="405.57" width="3.78" height="29.89" fill="#e8952f" stroke="#e8952f" stroke-width="0.5" stroke-opacity="0.75"/>
<rect x="650.13" y="413.40" width="3.78" height="22.06" fill="#e8952f" stroke="#e8952f" stroke-width="0.5" stroke-opacity="0.75"/>
<rect x="654.41" y="435.46" width="3.78" height="14.94" fill="#e8952f" stroke="#e8952f" stroke-width="0.5" stroke-opacity="0.75"/>
<rect x="658.69" y="410.08" width="3.78" height="25.38" fill="#e8952f" stroke="#e8952f" stroke-width="0.5" stroke-opacity="0.75"/>
<rect x="662.97" y="415.77" width="3.78" height="19.69" fill="#e8952f" stroke="#e8952f" stroke-width="0.5" stroke-opacity="0.75"/>
<line x1="512.9" y1="435.46" x2="667.0" y2="435.46" stroke="#e8952f" stroke-width="1.0"/>
<line x1="510.50" y1="364.30" x2="510.50" y2="483.00" stroke="#383838" stroke-width="1.0"/>
<line x1="510.00" y1="482.50" x2="670.50" y2="482.50" stroke="#383838" stroke-width="1.0"/>
<line x1="510.50" y1="364.30" x2="512.50" y2="364.30" stroke="#383838" stroke-width="0.9"/>
<text x="504.20" y="370.20" font-size="10.8" text-anchor="end" fill="#262626" stroke="#262626" stroke-width="0.1">3</text>
<line x1="510.50" y1="388.02" x2="512.50" y2="388.02" stroke="#383838" stroke-width="0.9"/>
<text x="504.20" y="393.10" font-size="10.8" text-anchor="end" fill="#262626" stroke="#262626" stroke-width="0.1">2</text>
<line x1="510.50" y1="411.74" x2="512.50" y2="411.74" stroke="#383838" stroke-width="0.9"/>
<text x="504.20" y="416.80" font-size="10.8" text-anchor="end" fill="#262626" stroke="#262626" stroke-width="0.1">1</text>
<line x1="510.50" y1="435.46" x2="512.50" y2="435.46" stroke="#383838" stroke-width="0.9"/>
<text x="504.20" y="439.20" font-size="10.8" text-anchor="end" fill="#262626" stroke="#262626" stroke-width="0.1">0</text>
<line x1="510.50" y1="459.18" x2="512.50" y2="459.18" stroke="#383838" stroke-width="0.9"/>
<text x="504.20" y="462.40" font-size="10.8" text-anchor="end" fill="#262626" stroke="#262626" stroke-width="0.1">-<tspan dx="0.5">1</tspan></text>
<line x1="510.50" y1="482.90" x2="512.50" y2="482.90" stroke="#383838" stroke-width="0.9"/>
<text x="504.20" y="485.50" font-size="10.8" text-anchor="end" fill="#262626" stroke="#262626" stroke-width="0.1">-<tspan dx="0.5">2</tspan></text>
<line x1="515.00" y1="482.90" x2="515.00" y2="480.90" stroke="#383838" stroke-width="0.9"/>
<line x1="665.00" y1="482.90" x2="665.00" y2="480.90" stroke="#383838" stroke-width="0.9"/>
<text x="514.0" y="496.40" font-size="11" text-anchor="middle" fill="#262626" stroke="#262626" stroke-width="0.1" style="font-family:&quot;Liberation Sans&quot;, sans-serif">-<tspan dx="1.0" style="font-family:&quot;Liberation Serif&quot;, serif">π</tspan></text>
<text x="665.0" y="496.40" font-size="11" text-anchor="middle" fill="#262626" stroke="#262626" stroke-width="0.1" style="font-family:&quot;Liberation Serif&quot;, serif">π</text>
<text x="485.90" y="429.40" font-size="13" text-anchor="middle" fill="#262626" stroke="#262626" stroke-width="0.25" transform="rotate(-90 485.90 429.40)">Ripple amlitude [z]</text>
<text x="464.30" y="435.60" font-size="12.5" text-anchor="middle" fill="#262626" stroke="#262626" stroke-width="0.25" transform="rotate(-90 464.30 435.60)">CA1</text>
<line x1="512.00" y1="578.46" x2="670.30" y2="578.46" stroke="#555555" stroke-width="0.9"/>
<rect x="513.15" y="550.00" width="3.78" height="28.46" fill="#82dea8" stroke="#82dea8" stroke-width="0.5" stroke-opacity="0.75"/>
<rect x="517.43" y="578.46" width="3.78" height="9.49" fill="#82dea8" stroke="#82dea8" stroke-width="0.5" stroke-opacity="0.75"/>
<rect x="521.71" y="578.46" width="3.78" height="44.47" fill="#82dea8" stroke="#82dea8" stroke-width="0.5" stroke-opacity="0.75"/>
<rect x="525.99" y="508.25" width="3.78" height="70.21" fill="#82dea8" stroke="#82dea8" stroke-width="0.5" stroke-opacity="0.75"/>
<rect x="530.27" y="556.40" width="3.78" height="22.06" fill="#82dea8" stroke="#82dea8" stroke-width="0.5" stroke-opacity="0.75"/>
<rect x="534.55" y="578.46" width="3.78" height="8.89" fill="#82dea8" stroke="#82dea8" stroke-width="0.5" stroke-opacity="0.75"/>
<rect x="538.83" y="575.38" width="3.78" height="3.08" fill="#82dea8" stroke="#82dea8" stroke-width="0.5" stroke-opacity="0.75"/>
<rect x="543.11" y="559.25" width="3.78" height="19.21" fill="#82dea8" stroke="#82dea8" stroke-width="0.5" stroke-opacity="0.75"/>
<rect x="547.39" y="578.46" width="3.78" height="23.72" fill="#82dea8" stroke="#82dea8" stroke-width="0.5" stroke-opacity="0.75"/>
<rect x="551.67" y="578.46" width="3.78" height="31.55" fill="#82dea8" stroke="#82dea8" stroke-width="0.5" stroke-opacity="0.75"/>
<rect x="555.96" y="578.46" width="3.78" height="13.76" fill="#82dea8" stroke="#82dea8" stroke-width="0.5" stroke-opacity="0.75"/>
<rect x="560.24" y="573.48" width="3.78" height="4.98" fill="#82dea8" stroke="#82dea8" stroke-width="0.5" stroke-opacity="0.75"/>
<rect x="564.52" y="545.49" width="3.78" height="32.97" fill="#82dea8" stroke="#82dea8" stroke-width="0.5" stroke-opacity="0.75"/>
<rect x="568.80" y="578.46" width="3.78" height="19.69" fill="#82dea8" stroke="#82dea8" stroke-width="0.5" stroke-opacity="0.75"/>
<rect x="573.08" y="571.58" width="3.78" height="6.88" fill="#82dea8" stroke="#82dea8" stroke-width="0.5" stroke-opacity="0.75"/>
<rect x="577.36" y="578.46" width="3.78" height="7.83" fill="#82dea8" stroke="#82dea8" stroke-width="0.5" stroke-opacity="0.75"/>
<rect x="581.64" y="578.46" width="3.78" height="2.61" fill="#82dea8" stroke="#82dea8" stroke-width="0.5" stroke-opacity="0.75"/>
<rect x="585.92" y="578.46" width="3.78" height="7.83" fill="#82dea8" stroke="#82dea8" stroke-width="0.5" stroke-opacity="0.75"/>
<rect x="590.20" y="578.46" width="3.78" height="27.28" fill="#82dea8" stroke="#82dea8" stroke-width="0.5" stroke-opacity="0.75"/>
<rect x="594.48" y="557.35" width="3.78" height="21.11" fill="#82dea8" stroke="#82dea8" stroke-width="0.5" stroke-opacity="0.75"/>
<rect x="598.76" y="578.46" width="3.78" height="11.39" fill="#82dea8" stroke="#82dea8" stroke-width="0.5" stroke-opacity="0.75"/>
<rect x="603.04" y="578.46" width="3.78" height="16.37" fill="#82dea8" stroke="#82dea8" stroke-width="0.5" stroke-opacity="0.75"/>
<rect x="607.32" y="578.46" width="3.78" height="12.45" fill="#82dea8" stroke="#82dea8" stroke-width="0.5" stroke-opacity="0.75"/>
<rect x="611.60" y="555.69" width="3.78" height="22.77" fill="#82dea8" stroke="#82dea8" stroke-width="0.5" stroke-opacity="0.75"/>
<rect x="615.88" y="578.46" width="3.78" height="18.38" fill="#82dea8" stroke="#82dea8" stroke-width="0.5" stroke-opacity="0.75"/>
<rect x="620.16" y="578.46" width="3.78" height="5.46" fill="#82dea8" stroke="#82dea8" stroke-width="0.5" stroke-opacity="0.75"/>
<rect x="624.44" y="578.46" width="3.78" height="4.98" fill="#82dea8" stroke="#82dea8" stroke-width="0.5" stroke-opacity="0.75"/>
<rect x="628.73" y="578.46" width="3.78" height="35.82" fill="#82dea8" stroke="#82dea8" stroke-width="0.5" stroke-opacity="0.75"/>
<rect x="633.01" y="550.47" width="3.78" height="27.99" fill="#82dea8" stroke="#82dea8" stroke-width="0.5" stroke-opacity="0.75"/>
<rect x="637.29" y="578.46" width="3.78" height="25.38" fill="#82dea8" stroke="#82dea8" stroke-width="0.5" stroke-opacity="0.75"/>
<rect x="641.57" y="563.28" width="3.78" height="15.18" fill="#82dea8" stroke="#82dea8" stroke-width="0.5" stroke-opacity="0.75"/>
<rect x="645.85" y="578.46" width="3.78" height="20.75" fill="#82dea8" stroke="#82dea8" stroke-width="0.5" stroke-opacity="0.75"/>
<rect x="650.13" y="552.96" width="3.78" height="25.50" fill="#82dea8" stroke="#82dea8" stroke-width="0.5" stroke-opacity="0.75"/>
<rect x="654.41" y="536.00" width="3.78" height="42.46" fill="#82dea8" stroke="#82dea8" stroke-width="0.5" stroke-opacity="0.75"/>
<rect x="658.69" y="578.46" width="3.78" height="2.61" fill="#82dea8" stroke="#82dea8" stroke-width="0.5" stroke-opacity="0.75"/>
<rect x="662.97" y="577.04" width="3.78" height="1.42" fill="#82dea8" stroke="#82dea8" stroke-width="0.5" stroke-opacity="0.75"/>
<line x1="512.9" y1="578.46" x2="667.0" y2="578.46" stroke="#82dea8" stroke-width="1.0"/>
<line x1="510.50" y1="507.30" x2="510.50" y2="626.00" stroke="#383838" stroke-width="1.0"/>
<line x1="510.00" y1="625.50" x2="670.50" y2="625.50" stroke="#383838" stroke-width="1.0"/>
<line x1="510.50" y1="507.30" x2="512.50" y2="507.30" stroke="#383838" stroke-width="0.9"/>
<text x="504.20" y="513.20" font-size="10.8" text-anchor="end" fill="#262626" stroke="#262626" stroke-width="0.1">3</text>
<line x1="510.50" y1="531.02" x2="512.50" y2="531.02" stroke="#383838" stroke-width="0.9"/>
<text x="504.20" y="536.10" font-size="10.8" text-anchor="end" fill="#262626" stroke="#262626" stroke-width="0.1">2</text>
<line x1="510.50" y1="554.74" x2="512.50" y2="554.74" stroke="#383838" stroke-width="0.9"/>
<text x="504.20" y="559.80" font-size="10.8" text-anchor="end" fill="#262626" stroke="#262626" stroke-width="0.1">1</text>
<line x1="510.50" y1="578.46" x2="512.50" y2="578.46" stroke="#383838" stroke-width="0.9"/>
<text x="504.20" y="582.20" font-size="10.8" text-anchor="end" fill="#262626" stroke="#262626" stroke-width="0.1">0</text>
<line x1="510.50" y1="602.18" x2="512.50" y2="602.18" stroke="#383838" stroke-width="0.9"/>
<text x="504.20" y="605.40" font-size="10.8" text-anchor="end" fill="#262626" stroke="#262626" stroke-width="0.1">-<tspan dx="0.5">1</tspan></text>
<line x1="510.50" y1="625.90" x2="512.50" y2="625.90" stroke="#383838" stroke-width="0.9"/>
<text x="504.20" y="628.50" font-size="10.8" text-anchor="end" fill="#262626" stroke="#262626" stroke-width="0.1">-<tspan dx="0.5">2</tspan></text>
<line x1="515.00" y1="625.90" x2="515.00" y2="623.90" stroke="#383838" stroke-width="0.9"/>
<line x1="665.00" y1="625.90" x2="665.00" y2="623.90" stroke="#383838" stroke-width="0.9"/>
<text x="514.0" y="639.40" font-size="11" text-anchor="middle" fill="#262626" stroke="#262626" stroke-width="0.1" style="font-family:&quot;Liberation Sans&quot;, sans-serif">-<tspan dx="1.0" style="font-family:&quot;Liberation Serif&quot;, serif">π</tspan></text>
<text x="665.0" y="639.40" font-size="11" text-anchor="middle" fill="#262626" stroke="#262626" stroke-width="0.1" style="font-family:&quot;Liberation Serif&quot;, serif">π</text>
<text x="485.90" y="568.90" font-size="13" text-anchor="middle" fill="#262626" stroke="#262626" stroke-width="0.25" transform="rotate(-90 485.90 568.90)">Ripple amlitude [z]</text>
<text x="464.30" y="576.40" font-size="12.5" text-anchor="middle" fill="#262626" stroke="#262626" stroke-width="0.25" transform="rotate(-90 464.30 576.40)">SUB</text>
<text x="589.50" y="655.80" font-size="13" text-anchor="middle" fill="#262626" stroke="#262626" stroke-width="0.25">Spindle-delta coupling [rad]</text>
</svg></body></html>
